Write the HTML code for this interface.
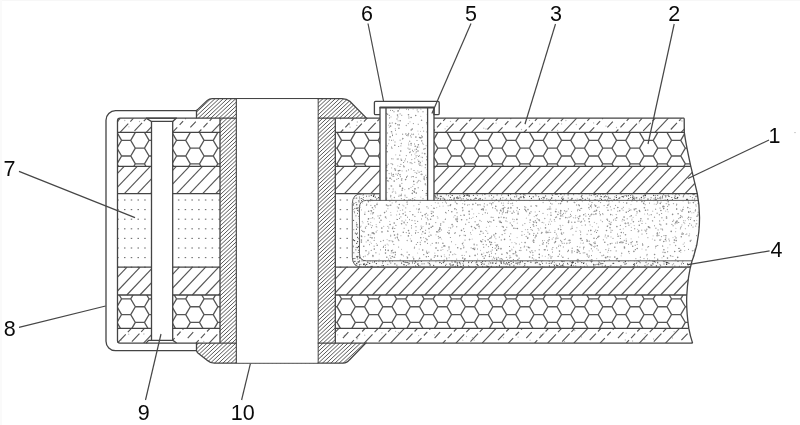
<!DOCTYPE html>
<html><head><meta charset="utf-8"><title>Figure</title>
<style>html,body{margin:0;padding:0;background:#fff;overflow:hidden}svg{display:block;filter:blur(0.3px)}</style></head>
<body>
<svg width="800" height="425" viewBox="0 0 800 425">
<defs>
<clipPath id="cRight"><path d="M335.3,118.2 L684.2,118.2 L684.3,132.4 C686,145 689,158 690.8,166.3 C693.5,178 696.5,190 697.3,193.6 C699.5,205 699.8,222 698.8,232 C697.5,245 694,256 692,261 C690,268 687.5,282 686.8,295 C686.3,305 687.3,318 688.8,328.4 C690,335 691.5,340 692.6,343.1 L335.3,343.1 Z"/></clipPath>
<clipPath id="cLeft"><rect x="117.5" y="118.2" width="102.5" height="224.9"/></clipPath>
</defs>
<rect width="800" height="425" fill="#ffffff"/>
<g clip-path="url(#cRight)">
<g stroke="#565656" stroke-width="1.15" fill="none"><line x1="335.30" y1="124.11" x2="340.91" y2="118.20" stroke-dasharray="0 7 8 30"/><line x1="340.52" y1="132.40" x2="354.01" y2="118.20" stroke-dasharray="4 3 6 3 30"/><line x1="353.62" y1="132.40" x2="367.11" y2="118.20" stroke-dasharray="12 3 30"/><line x1="366.72" y1="132.40" x2="380.21" y2="118.20" stroke-dasharray="0 2 11 2.5 30"/><line x1="379.82" y1="132.40" x2="393.31" y2="118.20"/><line x1="392.92" y1="132.40" x2="406.41" y2="118.20" stroke-dasharray="0 4 9 3 30"/><line x1="406.02" y1="132.40" x2="419.51" y2="118.20" stroke-dasharray="7 3.5 5 3 30"/><line x1="419.12" y1="132.40" x2="432.61" y2="118.20" stroke-dasharray="0 7 8 30"/><line x1="432.22" y1="132.40" x2="445.71" y2="118.20" stroke-dasharray="4 3 6 3 30"/><line x1="445.32" y1="132.40" x2="458.81" y2="118.20" stroke-dasharray="12 3 30"/><line x1="458.42" y1="132.40" x2="471.91" y2="118.20" stroke-dasharray="0 2 11 2.5 30"/><line x1="471.52" y1="132.40" x2="485.01" y2="118.20"/><line x1="484.62" y1="132.40" x2="498.11" y2="118.20" stroke-dasharray="0 4 9 3 30"/><line x1="497.72" y1="132.40" x2="511.21" y2="118.20" stroke-dasharray="7 3.5 5 3 30"/><line x1="510.82" y1="132.40" x2="524.31" y2="118.20" stroke-dasharray="0 7 8 30"/><line x1="523.92" y1="132.40" x2="537.41" y2="118.20" stroke-dasharray="4 3 6 3 30"/><line x1="537.02" y1="132.40" x2="550.51" y2="118.20" stroke-dasharray="12 3 30"/><line x1="550.12" y1="132.40" x2="563.61" y2="118.20" stroke-dasharray="0 2 11 2.5 30"/><line x1="563.22" y1="132.40" x2="576.71" y2="118.20"/><line x1="576.32" y1="132.40" x2="589.81" y2="118.20" stroke-dasharray="0 4 9 3 30"/><line x1="589.42" y1="132.40" x2="602.91" y2="118.20" stroke-dasharray="7 3.5 5 3 30"/><line x1="602.52" y1="132.40" x2="616.01" y2="118.20" stroke-dasharray="0 7 8 30"/><line x1="615.62" y1="132.40" x2="629.11" y2="118.20" stroke-dasharray="4 3 6 3 30"/><line x1="628.72" y1="132.40" x2="642.21" y2="118.20" stroke-dasharray="12 3 30"/><line x1="641.82" y1="132.40" x2="655.31" y2="118.20" stroke-dasharray="0 2 11 2.5 30"/><line x1="654.92" y1="132.40" x2="668.41" y2="118.20"/><line x1="668.02" y1="132.40" x2="681.51" y2="118.20" stroke-dasharray="0 4 9 3 30"/><line x1="681.12" y1="132.40" x2="694.61" y2="118.20" stroke-dasharray="7 3.5 5 3 30"/><line x1="694.22" y1="132.40" x2="705.00" y2="121.05" stroke-dasharray="0 7 8 30"/></g>
<path d="M450.5 121.4h0M565.9 120.5h0M525.3 123.8h0M356.8 125.4h0M349.5 124.6h0M360.9 120.7h0M486.0 129.0h0M380.0 122.2h0M557.6 130.3h0M539.8 124.1h0M680.6 120.2h0M639.1 122.9h0M387.2 121.0h0M445.1 128.8h0M400.0 126.2h0M561.6 123.9h0M529.5 120.4h0M357.3 122.0h0M576.3 124.5h0M447.1 126.3h0M496.1 123.1h0M616.5 127.5h0M422.4 126.1h0M521.5 129.5h0M593.6 122.9h0M682.0 121.0h0M483.8 128.2h0M389.9 125.2h0M350.1 127.2h0M606.0 126.1h0" stroke="#b4b4b4" stroke-width="1.3" stroke-linecap="round" fill="none"/>
<path d="M645.1 333.6h0M581.5 336.9h0M540.8 335.2h0M632.6 341.0h0M503.5 337.7h0M357.7 338.1h0M564.5 341.5h0M626.2 333.2h0M472.4 337.7h0M344.3 335.3h0M395.6 331.3h0M357.1 338.9h0M381.9 332.8h0M474.2 340.1h0M364.7 335.2h0M530.1 340.2h0M625.3 340.0h0M434.5 334.8h0M462.8 340.2h0M674.1 331.7h0M398.5 332.6h0M418.6 335.6h0M544.1 333.0h0M337.7 334.8h0M466.5 336.5h0M672.5 338.0h0M518.1 337.1h0M574.8 330.5h0M653.6 339.0h0M644.7 339.2h0" stroke="#b4b4b4" stroke-width="1.3" stroke-linecap="round" fill="none"/>
<g stroke="#565656" stroke-width="1.15" fill="none"><line x1="335.30" y1="332.21" x2="338.92" y2="328.40" stroke-dasharray="7 3.5 5 3 30"/><line x1="338.06" y1="343.10" x2="352.02" y2="328.40" stroke-dasharray="0 7 8 30"/><line x1="351.16" y1="343.10" x2="365.12" y2="328.40" stroke-dasharray="4 3 6 3 30"/><line x1="364.25" y1="343.10" x2="378.22" y2="328.40" stroke-dasharray="12 3 30"/><line x1="377.35" y1="343.10" x2="391.32" y2="328.40" stroke-dasharray="0 2 11 2.5 30"/><line x1="390.45" y1="343.10" x2="404.42" y2="328.40"/><line x1="403.56" y1="343.10" x2="417.52" y2="328.40" stroke-dasharray="0 4 9 3 30"/><line x1="416.66" y1="343.10" x2="430.62" y2="328.40" stroke-dasharray="7 3.5 5 3 30"/><line x1="429.75" y1="343.10" x2="443.72" y2="328.40" stroke-dasharray="0 7 8 30"/><line x1="442.85" y1="343.10" x2="456.82" y2="328.40" stroke-dasharray="4 3 6 3 30"/><line x1="455.95" y1="343.10" x2="469.92" y2="328.40" stroke-dasharray="12 3 30"/><line x1="469.06" y1="343.10" x2="483.02" y2="328.40" stroke-dasharray="0 2 11 2.5 30"/><line x1="482.16" y1="343.10" x2="496.12" y2="328.40"/><line x1="495.25" y1="343.10" x2="509.22" y2="328.40" stroke-dasharray="0 4 9 3 30"/><line x1="508.35" y1="343.10" x2="522.32" y2="328.40" stroke-dasharray="7 3.5 5 3 30"/><line x1="521.45" y1="343.10" x2="535.42" y2="328.40" stroke-dasharray="0 7 8 30"/><line x1="534.56" y1="343.10" x2="548.52" y2="328.40" stroke-dasharray="4 3 6 3 30"/><line x1="547.65" y1="343.10" x2="561.62" y2="328.40" stroke-dasharray="12 3 30"/><line x1="560.75" y1="343.10" x2="574.72" y2="328.40" stroke-dasharray="0 2 11 2.5 30"/><line x1="573.86" y1="343.10" x2="587.82" y2="328.40"/><line x1="586.95" y1="343.10" x2="600.92" y2="328.40" stroke-dasharray="0 4 9 3 30"/><line x1="600.06" y1="343.10" x2="614.02" y2="328.40" stroke-dasharray="7 3.5 5 3 30"/><line x1="613.15" y1="343.10" x2="627.12" y2="328.40" stroke-dasharray="0 7 8 30"/><line x1="626.25" y1="343.10" x2="640.22" y2="328.40" stroke-dasharray="4 3 6 3 30"/><line x1="639.36" y1="343.10" x2="653.32" y2="328.40" stroke-dasharray="12 3 30"/><line x1="652.45" y1="343.10" x2="666.42" y2="328.40" stroke-dasharray="0 2 11 2.5 30"/><line x1="665.56" y1="343.10" x2="679.52" y2="328.40"/><line x1="678.65" y1="343.10" x2="692.62" y2="328.40" stroke-dasharray="0 4 9 3 30"/><line x1="691.75" y1="343.10" x2="705.00" y2="329.16" stroke-dasharray="7 3.5 5 3 30"/><line x1="704.86" y1="343.10" x2="705.00" y2="342.95" stroke-dasharray="0 7 8 30"/></g>
<clipPath id="cH1"><rect x="335.30" y="132.40" width="369.70" height="33.90"/></clipPath><g clip-path="url(#cH1)"><path d="M300.31,101.05 L309.48,101.05 L314.07,108.90 L309.48,116.75 M300.31,116.75 L309.48,116.75 L314.07,124.60 L309.48,132.45 M300.31,132.45 L309.48,132.45 L314.07,140.30 L309.48,148.15 M300.31,148.15 L309.48,148.15 L314.07,156.00 L309.48,163.85 M300.31,163.85 L309.48,163.85 L314.07,171.70 L309.48,179.55 M300.31,179.55 L309.48,179.55 L314.07,187.40 L309.48,195.25 M327.81,101.05 L336.98,101.05 L341.57,108.90 L336.98,116.75 M327.81,116.75 L336.98,116.75 L341.57,124.60 L336.98,132.45 M327.81,132.45 L336.98,132.45 L341.57,140.30 L336.98,148.15 M327.81,148.15 L336.98,148.15 L341.57,156.00 L336.98,163.85 M327.81,163.85 L336.98,163.85 L341.57,171.70 L336.98,179.55 M327.81,179.55 L336.98,179.55 L341.57,187.40 L336.98,195.25 M355.31,101.05 L364.48,101.05 L369.07,108.90 L364.48,116.75 M355.31,116.75 L364.48,116.75 L369.07,124.60 L364.48,132.45 M355.31,132.45 L364.48,132.45 L369.07,140.30 L364.48,148.15 M355.31,148.15 L364.48,148.15 L369.07,156.00 L364.48,163.85 M355.31,163.85 L364.48,163.85 L369.07,171.70 L364.48,179.55 M355.31,179.55 L364.48,179.55 L369.07,187.40 L364.48,195.25 M382.81,101.05 L391.98,101.05 L396.57,108.90 L391.98,116.75 M382.81,116.75 L391.98,116.75 L396.57,124.60 L391.98,132.45 M382.81,132.45 L391.98,132.45 L396.57,140.30 L391.98,148.15 M382.81,148.15 L391.98,148.15 L396.57,156.00 L391.98,163.85 M382.81,163.85 L391.98,163.85 L396.57,171.70 L391.98,179.55 M382.81,179.55 L391.98,179.55 L396.57,187.40 L391.98,195.25 M410.31,101.05 L419.48,101.05 L424.07,108.90 L419.48,116.75 M410.31,116.75 L419.48,116.75 L424.07,124.60 L419.48,132.45 M410.31,132.45 L419.48,132.45 L424.07,140.30 L419.48,148.15 M410.31,148.15 L419.48,148.15 L424.07,156.00 L419.48,163.85 M410.31,163.85 L419.48,163.85 L424.07,171.70 L419.48,179.55 M410.31,179.55 L419.48,179.55 L424.07,187.40 L419.48,195.25 M437.81,101.05 L446.98,101.05 L451.57,108.90 L446.98,116.75 M437.81,116.75 L446.98,116.75 L451.57,124.60 L446.98,132.45 M437.81,132.45 L446.98,132.45 L451.57,140.30 L446.98,148.15 M437.81,148.15 L446.98,148.15 L451.57,156.00 L446.98,163.85 M437.81,163.85 L446.98,163.85 L451.57,171.70 L446.98,179.55 M437.81,179.55 L446.98,179.55 L451.57,187.40 L446.98,195.25 M465.31,101.05 L474.48,101.05 L479.07,108.90 L474.48,116.75 M465.31,116.75 L474.48,116.75 L479.07,124.60 L474.48,132.45 M465.31,132.45 L474.48,132.45 L479.07,140.30 L474.48,148.15 M465.31,148.15 L474.48,148.15 L479.07,156.00 L474.48,163.85 M465.31,163.85 L474.48,163.85 L479.07,171.70 L474.48,179.55 M465.31,179.55 L474.48,179.55 L479.07,187.40 L474.48,195.25 M492.81,101.05 L501.98,101.05 L506.57,108.90 L501.98,116.75 M492.81,116.75 L501.98,116.75 L506.57,124.60 L501.98,132.45 M492.81,132.45 L501.98,132.45 L506.57,140.30 L501.98,148.15 M492.81,148.15 L501.98,148.15 L506.57,156.00 L501.98,163.85 M492.81,163.85 L501.98,163.85 L506.57,171.70 L501.98,179.55 M492.81,179.55 L501.98,179.55 L506.57,187.40 L501.98,195.25 M520.31,101.05 L529.49,101.05 L534.07,108.90 L529.49,116.75 M520.31,116.75 L529.49,116.75 L534.07,124.60 L529.49,132.45 M520.31,132.45 L529.49,132.45 L534.07,140.30 L529.49,148.15 M520.31,148.15 L529.49,148.15 L534.07,156.00 L529.49,163.85 M520.31,163.85 L529.49,163.85 L534.07,171.70 L529.49,179.55 M520.31,179.55 L529.49,179.55 L534.07,187.40 L529.49,195.25 M547.81,101.05 L556.99,101.05 L561.57,108.90 L556.99,116.75 M547.81,116.75 L556.99,116.75 L561.57,124.60 L556.99,132.45 M547.81,132.45 L556.99,132.45 L561.57,140.30 L556.99,148.15 M547.81,148.15 L556.99,148.15 L561.57,156.00 L556.99,163.85 M547.81,163.85 L556.99,163.85 L561.57,171.70 L556.99,179.55 M547.81,179.55 L556.99,179.55 L561.57,187.40 L556.99,195.25 M575.31,101.05 L584.49,101.05 L589.07,108.90 L584.49,116.75 M575.31,116.75 L584.49,116.75 L589.07,124.60 L584.49,132.45 M575.31,132.45 L584.49,132.45 L589.07,140.30 L584.49,148.15 M575.31,148.15 L584.49,148.15 L589.07,156.00 L584.49,163.85 M575.31,163.85 L584.49,163.85 L589.07,171.70 L584.49,179.55 M575.31,179.55 L584.49,179.55 L589.07,187.40 L584.49,195.25 M602.81,101.05 L611.99,101.05 L616.57,108.90 L611.99,116.75 M602.81,116.75 L611.99,116.75 L616.57,124.60 L611.99,132.45 M602.81,132.45 L611.99,132.45 L616.57,140.30 L611.99,148.15 M602.81,148.15 L611.99,148.15 L616.57,156.00 L611.99,163.85 M602.81,163.85 L611.99,163.85 L616.57,171.70 L611.99,179.55 M602.81,179.55 L611.99,179.55 L616.57,187.40 L611.99,195.25 M630.31,101.05 L639.49,101.05 L644.07,108.90 L639.49,116.75 M630.31,116.75 L639.49,116.75 L644.07,124.60 L639.49,132.45 M630.31,132.45 L639.49,132.45 L644.07,140.30 L639.49,148.15 M630.31,148.15 L639.49,148.15 L644.07,156.00 L639.49,163.85 M630.31,163.85 L639.49,163.85 L644.07,171.70 L639.49,179.55 M630.31,179.55 L639.49,179.55 L644.07,187.40 L639.49,195.25 M657.81,101.05 L666.99,101.05 L671.57,108.90 L666.99,116.75 M657.81,116.75 L666.99,116.75 L671.57,124.60 L666.99,132.45 M657.81,132.45 L666.99,132.45 L671.57,140.30 L666.99,148.15 M657.81,148.15 L666.99,148.15 L671.57,156.00 L666.99,163.85 M657.81,163.85 L666.99,163.85 L671.57,171.70 L666.99,179.55 M657.81,179.55 L666.99,179.55 L671.57,187.40 L666.99,195.25 M685.31,101.05 L694.49,101.05 L699.07,108.90 L694.49,116.75 M685.31,116.75 L694.49,116.75 L699.07,124.60 L694.49,132.45 M685.31,132.45 L694.49,132.45 L699.07,140.30 L694.49,148.15 M685.31,148.15 L694.49,148.15 L699.07,156.00 L694.49,163.85 M685.31,163.85 L694.49,163.85 L699.07,171.70 L694.49,179.55 M685.31,179.55 L694.49,179.55 L699.07,187.40 L694.49,195.25 M712.81,101.05 L721.99,101.05 L726.57,108.90 L721.99,116.75 M712.81,116.75 L721.99,116.75 L726.57,124.60 L721.99,132.45 M712.81,132.45 L721.99,132.45 L726.57,140.30 L721.99,148.15 M712.81,148.15 L721.99,148.15 L726.57,156.00 L721.99,163.85 M712.81,163.85 L721.99,163.85 L726.57,171.70 L721.99,179.55 M712.81,179.55 L721.99,179.55 L726.57,187.40 L721.99,195.25 M740.31,101.05 L749.49,101.05 L754.07,108.90 L749.49,116.75 M740.31,116.75 L749.49,116.75 L754.07,124.60 L749.49,132.45 M740.31,132.45 L749.49,132.45 L754.07,140.30 L749.49,148.15 M740.31,148.15 L749.49,148.15 L754.07,156.00 L749.49,163.85 M740.31,163.85 L749.49,163.85 L754.07,171.70 L749.49,179.55 M740.31,179.55 L749.49,179.55 L754.07,187.40 L749.49,195.25 M286.56,93.20 L295.73,93.20 L300.32,101.05 L295.73,108.90 M286.56,108.90 L295.73,108.90 L300.32,116.75 L295.73,124.60 M286.56,124.60 L295.73,124.60 L300.32,132.45 L295.73,140.30 M286.56,140.30 L295.73,140.30 L300.32,148.15 L295.73,156.00 M286.56,156.00 L295.73,156.00 L300.32,163.85 L295.73,171.70 M286.56,171.70 L295.73,171.70 L300.32,179.55 L295.73,187.40 M286.56,187.40 L295.73,187.40 L300.32,195.25 L295.73,203.10 M314.06,93.20 L323.23,93.20 L327.82,101.05 L323.23,108.90 M314.06,108.90 L323.23,108.90 L327.82,116.75 L323.23,124.60 M314.06,124.60 L323.23,124.60 L327.82,132.45 L323.23,140.30 M314.06,140.30 L323.23,140.30 L327.82,148.15 L323.23,156.00 M314.06,156.00 L323.23,156.00 L327.82,163.85 L323.23,171.70 M314.06,171.70 L323.23,171.70 L327.82,179.55 L323.23,187.40 M314.06,187.40 L323.23,187.40 L327.82,195.25 L323.23,203.10 M341.56,93.20 L350.73,93.20 L355.32,101.05 L350.73,108.90 M341.56,108.90 L350.73,108.90 L355.32,116.75 L350.73,124.60 M341.56,124.60 L350.73,124.60 L355.32,132.45 L350.73,140.30 M341.56,140.30 L350.73,140.30 L355.32,148.15 L350.73,156.00 M341.56,156.00 L350.73,156.00 L355.32,163.85 L350.73,171.70 M341.56,171.70 L350.73,171.70 L355.32,179.55 L350.73,187.40 M341.56,187.40 L350.73,187.40 L355.32,195.25 L350.73,203.10 M369.06,93.20 L378.23,93.20 L382.82,101.05 L378.23,108.90 M369.06,108.90 L378.23,108.90 L382.82,116.75 L378.23,124.60 M369.06,124.60 L378.23,124.60 L382.82,132.45 L378.23,140.30 M369.06,140.30 L378.23,140.30 L382.82,148.15 L378.23,156.00 M369.06,156.00 L378.23,156.00 L382.82,163.85 L378.23,171.70 M369.06,171.70 L378.23,171.70 L382.82,179.55 L378.23,187.40 M369.06,187.40 L378.23,187.40 L382.82,195.25 L378.23,203.10 M396.56,93.20 L405.73,93.20 L410.32,101.05 L405.73,108.90 M396.56,108.90 L405.73,108.90 L410.32,116.75 L405.73,124.60 M396.56,124.60 L405.73,124.60 L410.32,132.45 L405.73,140.30 M396.56,140.30 L405.73,140.30 L410.32,148.15 L405.73,156.00 M396.56,156.00 L405.73,156.00 L410.32,163.85 L405.73,171.70 M396.56,171.70 L405.73,171.70 L410.32,179.55 L405.73,187.40 M396.56,187.40 L405.73,187.40 L410.32,195.25 L405.73,203.10 M424.06,93.20 L433.23,93.20 L437.82,101.05 L433.23,108.90 M424.06,108.90 L433.23,108.90 L437.82,116.75 L433.23,124.60 M424.06,124.60 L433.23,124.60 L437.82,132.45 L433.23,140.30 M424.06,140.30 L433.23,140.30 L437.82,148.15 L433.23,156.00 M424.06,156.00 L433.23,156.00 L437.82,163.85 L433.23,171.70 M424.06,171.70 L433.23,171.70 L437.82,179.55 L433.23,187.40 M424.06,187.40 L433.23,187.40 L437.82,195.25 L433.23,203.10 M451.56,93.20 L460.73,93.20 L465.32,101.05 L460.73,108.90 M451.56,108.90 L460.73,108.90 L465.32,116.75 L460.73,124.60 M451.56,124.60 L460.73,124.60 L465.32,132.45 L460.73,140.30 M451.56,140.30 L460.73,140.30 L465.32,148.15 L460.73,156.00 M451.56,156.00 L460.73,156.00 L465.32,163.85 L460.73,171.70 M451.56,171.70 L460.73,171.70 L465.32,179.55 L460.73,187.40 M451.56,187.40 L460.73,187.40 L465.32,195.25 L460.73,203.10 M479.06,93.20 L488.23,93.20 L492.82,101.05 L488.23,108.90 M479.06,108.90 L488.23,108.90 L492.82,116.75 L488.23,124.60 M479.06,124.60 L488.23,124.60 L492.82,132.45 L488.23,140.30 M479.06,140.30 L488.23,140.30 L492.82,148.15 L488.23,156.00 M479.06,156.00 L488.23,156.00 L492.82,163.85 L488.23,171.70 M479.06,171.70 L488.23,171.70 L492.82,179.55 L488.23,187.40 M479.06,187.40 L488.23,187.40 L492.82,195.25 L488.23,203.10 M506.56,93.20 L515.74,93.20 L520.32,101.05 L515.74,108.90 M506.56,108.90 L515.74,108.90 L520.32,116.75 L515.74,124.60 M506.56,124.60 L515.74,124.60 L520.32,132.45 L515.74,140.30 M506.56,140.30 L515.74,140.30 L520.32,148.15 L515.74,156.00 M506.56,156.00 L515.74,156.00 L520.32,163.85 L515.74,171.70 M506.56,171.70 L515.74,171.70 L520.32,179.55 L515.74,187.40 M506.56,187.40 L515.74,187.40 L520.32,195.25 L515.74,203.10 M534.06,93.20 L543.24,93.20 L547.82,101.05 L543.24,108.90 M534.06,108.90 L543.24,108.90 L547.82,116.75 L543.24,124.60 M534.06,124.60 L543.24,124.60 L547.82,132.45 L543.24,140.30 M534.06,140.30 L543.24,140.30 L547.82,148.15 L543.24,156.00 M534.06,156.00 L543.24,156.00 L547.82,163.85 L543.24,171.70 M534.06,171.70 L543.24,171.70 L547.82,179.55 L543.24,187.40 M534.06,187.40 L543.24,187.40 L547.82,195.25 L543.24,203.10 M561.56,93.20 L570.74,93.20 L575.32,101.05 L570.74,108.90 M561.56,108.90 L570.74,108.90 L575.32,116.75 L570.74,124.60 M561.56,124.60 L570.74,124.60 L575.32,132.45 L570.74,140.30 M561.56,140.30 L570.74,140.30 L575.32,148.15 L570.74,156.00 M561.56,156.00 L570.74,156.00 L575.32,163.85 L570.74,171.70 M561.56,171.70 L570.74,171.70 L575.32,179.55 L570.74,187.40 M561.56,187.40 L570.74,187.40 L575.32,195.25 L570.74,203.10 M589.06,93.20 L598.24,93.20 L602.82,101.05 L598.24,108.90 M589.06,108.90 L598.24,108.90 L602.82,116.75 L598.24,124.60 M589.06,124.60 L598.24,124.60 L602.82,132.45 L598.24,140.30 M589.06,140.30 L598.24,140.30 L602.82,148.15 L598.24,156.00 M589.06,156.00 L598.24,156.00 L602.82,163.85 L598.24,171.70 M589.06,171.70 L598.24,171.70 L602.82,179.55 L598.24,187.40 M589.06,187.40 L598.24,187.40 L602.82,195.25 L598.24,203.10 M616.56,93.20 L625.74,93.20 L630.32,101.05 L625.74,108.90 M616.56,108.90 L625.74,108.90 L630.32,116.75 L625.74,124.60 M616.56,124.60 L625.74,124.60 L630.32,132.45 L625.74,140.30 M616.56,140.30 L625.74,140.30 L630.32,148.15 L625.74,156.00 M616.56,156.00 L625.74,156.00 L630.32,163.85 L625.74,171.70 M616.56,171.70 L625.74,171.70 L630.32,179.55 L625.74,187.40 M616.56,187.40 L625.74,187.40 L630.32,195.25 L625.74,203.10 M644.06,93.20 L653.24,93.20 L657.82,101.05 L653.24,108.90 M644.06,108.90 L653.24,108.90 L657.82,116.75 L653.24,124.60 M644.06,124.60 L653.24,124.60 L657.82,132.45 L653.24,140.30 M644.06,140.30 L653.24,140.30 L657.82,148.15 L653.24,156.00 M644.06,156.00 L653.24,156.00 L657.82,163.85 L653.24,171.70 M644.06,171.70 L653.24,171.70 L657.82,179.55 L653.24,187.40 M644.06,187.40 L653.24,187.40 L657.82,195.25 L653.24,203.10 M671.56,93.20 L680.74,93.20 L685.32,101.05 L680.74,108.90 M671.56,108.90 L680.74,108.90 L685.32,116.75 L680.74,124.60 M671.56,124.60 L680.74,124.60 L685.32,132.45 L680.74,140.30 M671.56,140.30 L680.74,140.30 L685.32,148.15 L680.74,156.00 M671.56,156.00 L680.74,156.00 L685.32,163.85 L680.74,171.70 M671.56,171.70 L680.74,171.70 L685.32,179.55 L680.74,187.40 M671.56,187.40 L680.74,187.40 L685.32,195.25 L680.74,203.10 M699.06,93.20 L708.24,93.20 L712.82,101.05 L708.24,108.90 M699.06,108.90 L708.24,108.90 L712.82,116.75 L708.24,124.60 M699.06,124.60 L708.24,124.60 L712.82,132.45 L708.24,140.30 M699.06,140.30 L708.24,140.30 L712.82,148.15 L708.24,156.00 M699.06,156.00 L708.24,156.00 L712.82,163.85 L708.24,171.70 M699.06,171.70 L708.24,171.70 L712.82,179.55 L708.24,187.40 M699.06,187.40 L708.24,187.40 L712.82,195.25 L708.24,203.10 M726.56,93.20 L735.74,93.20 L740.32,101.05 L735.74,108.90 M726.56,108.90 L735.74,108.90 L740.32,116.75 L735.74,124.60 M726.56,124.60 L735.74,124.60 L740.32,132.45 L735.74,140.30 M726.56,140.30 L735.74,140.30 L740.32,148.15 L735.74,156.00 M726.56,156.00 L735.74,156.00 L740.32,163.85 L735.74,171.70 M726.56,171.70 L735.74,171.70 L740.32,179.55 L735.74,187.40 M726.56,187.40 L735.74,187.40 L740.32,195.25 L735.74,203.10 M754.06,93.20 L763.24,93.20 L767.82,101.05 L763.24,108.90 M754.06,108.90 L763.24,108.90 L767.82,116.75 L763.24,124.60 M754.06,124.60 L763.24,124.60 L767.82,132.45 L763.24,140.30 M754.06,140.30 L763.24,140.30 L767.82,148.15 L763.24,156.00 M754.06,156.00 L763.24,156.00 L767.82,163.85 L763.24,171.70 M754.06,171.70 L763.24,171.70 L767.82,179.55 L763.24,187.40 M754.06,187.40 L763.24,187.40 L767.82,195.25 L763.24,203.10" stroke="#565656" stroke-width="1.3" fill="none"/></g>
<clipPath id="cH2"><rect x="335.30" y="295.00" width="369.70" height="33.40"/></clipPath><g clip-path="url(#cH2)"><path d="M300.31,243.95 L309.48,243.95 L314.07,251.80 L309.48,259.65 M300.31,259.65 L309.48,259.65 L314.07,267.50 L309.48,275.35 M300.31,275.35 L309.48,275.35 L314.07,283.20 L309.48,291.05 M300.31,291.05 L309.48,291.05 L314.07,298.90 L309.48,306.75 M300.31,306.75 L309.48,306.75 L314.07,314.60 L309.48,322.45 M300.31,322.45 L309.48,322.45 L314.07,330.30 L309.48,338.15 M300.31,338.15 L309.48,338.15 L314.07,346.00 L309.48,353.85 M327.81,243.95 L336.98,243.95 L341.57,251.80 L336.98,259.65 M327.81,259.65 L336.98,259.65 L341.57,267.50 L336.98,275.35 M327.81,275.35 L336.98,275.35 L341.57,283.20 L336.98,291.05 M327.81,291.05 L336.98,291.05 L341.57,298.90 L336.98,306.75 M327.81,306.75 L336.98,306.75 L341.57,314.60 L336.98,322.45 M327.81,322.45 L336.98,322.45 L341.57,330.30 L336.98,338.15 M327.81,338.15 L336.98,338.15 L341.57,346.00 L336.98,353.85 M355.31,243.95 L364.48,243.95 L369.07,251.80 L364.48,259.65 M355.31,259.65 L364.48,259.65 L369.07,267.50 L364.48,275.35 M355.31,275.35 L364.48,275.35 L369.07,283.20 L364.48,291.05 M355.31,291.05 L364.48,291.05 L369.07,298.90 L364.48,306.75 M355.31,306.75 L364.48,306.75 L369.07,314.60 L364.48,322.45 M355.31,322.45 L364.48,322.45 L369.07,330.30 L364.48,338.15 M355.31,338.15 L364.48,338.15 L369.07,346.00 L364.48,353.85 M382.81,243.95 L391.98,243.95 L396.57,251.80 L391.98,259.65 M382.81,259.65 L391.98,259.65 L396.57,267.50 L391.98,275.35 M382.81,275.35 L391.98,275.35 L396.57,283.20 L391.98,291.05 M382.81,291.05 L391.98,291.05 L396.57,298.90 L391.98,306.75 M382.81,306.75 L391.98,306.75 L396.57,314.60 L391.98,322.45 M382.81,322.45 L391.98,322.45 L396.57,330.30 L391.98,338.15 M382.81,338.15 L391.98,338.15 L396.57,346.00 L391.98,353.85 M410.31,243.95 L419.48,243.95 L424.07,251.80 L419.48,259.65 M410.31,259.65 L419.48,259.65 L424.07,267.50 L419.48,275.35 M410.31,275.35 L419.48,275.35 L424.07,283.20 L419.48,291.05 M410.31,291.05 L419.48,291.05 L424.07,298.90 L419.48,306.75 M410.31,306.75 L419.48,306.75 L424.07,314.60 L419.48,322.45 M410.31,322.45 L419.48,322.45 L424.07,330.30 L419.48,338.15 M410.31,338.15 L419.48,338.15 L424.07,346.00 L419.48,353.85 M437.81,243.95 L446.98,243.95 L451.57,251.80 L446.98,259.65 M437.81,259.65 L446.98,259.65 L451.57,267.50 L446.98,275.35 M437.81,275.35 L446.98,275.35 L451.57,283.20 L446.98,291.05 M437.81,291.05 L446.98,291.05 L451.57,298.90 L446.98,306.75 M437.81,306.75 L446.98,306.75 L451.57,314.60 L446.98,322.45 M437.81,322.45 L446.98,322.45 L451.57,330.30 L446.98,338.15 M437.81,338.15 L446.98,338.15 L451.57,346.00 L446.98,353.85 M465.31,243.95 L474.48,243.95 L479.07,251.80 L474.48,259.65 M465.31,259.65 L474.48,259.65 L479.07,267.50 L474.48,275.35 M465.31,275.35 L474.48,275.35 L479.07,283.20 L474.48,291.05 M465.31,291.05 L474.48,291.05 L479.07,298.90 L474.48,306.75 M465.31,306.75 L474.48,306.75 L479.07,314.60 L474.48,322.45 M465.31,322.45 L474.48,322.45 L479.07,330.30 L474.48,338.15 M465.31,338.15 L474.48,338.15 L479.07,346.00 L474.48,353.85 M492.81,243.95 L501.98,243.95 L506.57,251.80 L501.98,259.65 M492.81,259.65 L501.98,259.65 L506.57,267.50 L501.98,275.35 M492.81,275.35 L501.98,275.35 L506.57,283.20 L501.98,291.05 M492.81,291.05 L501.98,291.05 L506.57,298.90 L501.98,306.75 M492.81,306.75 L501.98,306.75 L506.57,314.60 L501.98,322.45 M492.81,322.45 L501.98,322.45 L506.57,330.30 L501.98,338.15 M492.81,338.15 L501.98,338.15 L506.57,346.00 L501.98,353.85 M520.31,243.95 L529.49,243.95 L534.07,251.80 L529.49,259.65 M520.31,259.65 L529.49,259.65 L534.07,267.50 L529.49,275.35 M520.31,275.35 L529.49,275.35 L534.07,283.20 L529.49,291.05 M520.31,291.05 L529.49,291.05 L534.07,298.90 L529.49,306.75 M520.31,306.75 L529.49,306.75 L534.07,314.60 L529.49,322.45 M520.31,322.45 L529.49,322.45 L534.07,330.30 L529.49,338.15 M520.31,338.15 L529.49,338.15 L534.07,346.00 L529.49,353.85 M547.81,243.95 L556.99,243.95 L561.57,251.80 L556.99,259.65 M547.81,259.65 L556.99,259.65 L561.57,267.50 L556.99,275.35 M547.81,275.35 L556.99,275.35 L561.57,283.20 L556.99,291.05 M547.81,291.05 L556.99,291.05 L561.57,298.90 L556.99,306.75 M547.81,306.75 L556.99,306.75 L561.57,314.60 L556.99,322.45 M547.81,322.45 L556.99,322.45 L561.57,330.30 L556.99,338.15 M547.81,338.15 L556.99,338.15 L561.57,346.00 L556.99,353.85 M575.31,243.95 L584.49,243.95 L589.07,251.80 L584.49,259.65 M575.31,259.65 L584.49,259.65 L589.07,267.50 L584.49,275.35 M575.31,275.35 L584.49,275.35 L589.07,283.20 L584.49,291.05 M575.31,291.05 L584.49,291.05 L589.07,298.90 L584.49,306.75 M575.31,306.75 L584.49,306.75 L589.07,314.60 L584.49,322.45 M575.31,322.45 L584.49,322.45 L589.07,330.30 L584.49,338.15 M575.31,338.15 L584.49,338.15 L589.07,346.00 L584.49,353.85 M602.81,243.95 L611.99,243.95 L616.57,251.80 L611.99,259.65 M602.81,259.65 L611.99,259.65 L616.57,267.50 L611.99,275.35 M602.81,275.35 L611.99,275.35 L616.57,283.20 L611.99,291.05 M602.81,291.05 L611.99,291.05 L616.57,298.90 L611.99,306.75 M602.81,306.75 L611.99,306.75 L616.57,314.60 L611.99,322.45 M602.81,322.45 L611.99,322.45 L616.57,330.30 L611.99,338.15 M602.81,338.15 L611.99,338.15 L616.57,346.00 L611.99,353.85 M630.31,243.95 L639.49,243.95 L644.07,251.80 L639.49,259.65 M630.31,259.65 L639.49,259.65 L644.07,267.50 L639.49,275.35 M630.31,275.35 L639.49,275.35 L644.07,283.20 L639.49,291.05 M630.31,291.05 L639.49,291.05 L644.07,298.90 L639.49,306.75 M630.31,306.75 L639.49,306.75 L644.07,314.60 L639.49,322.45 M630.31,322.45 L639.49,322.45 L644.07,330.30 L639.49,338.15 M630.31,338.15 L639.49,338.15 L644.07,346.00 L639.49,353.85 M657.81,243.95 L666.99,243.95 L671.57,251.80 L666.99,259.65 M657.81,259.65 L666.99,259.65 L671.57,267.50 L666.99,275.35 M657.81,275.35 L666.99,275.35 L671.57,283.20 L666.99,291.05 M657.81,291.05 L666.99,291.05 L671.57,298.90 L666.99,306.75 M657.81,306.75 L666.99,306.75 L671.57,314.60 L666.99,322.45 M657.81,322.45 L666.99,322.45 L671.57,330.30 L666.99,338.15 M657.81,338.15 L666.99,338.15 L671.57,346.00 L666.99,353.85 M685.31,243.95 L694.49,243.95 L699.07,251.80 L694.49,259.65 M685.31,259.65 L694.49,259.65 L699.07,267.50 L694.49,275.35 M685.31,275.35 L694.49,275.35 L699.07,283.20 L694.49,291.05 M685.31,291.05 L694.49,291.05 L699.07,298.90 L694.49,306.75 M685.31,306.75 L694.49,306.75 L699.07,314.60 L694.49,322.45 M685.31,322.45 L694.49,322.45 L699.07,330.30 L694.49,338.15 M685.31,338.15 L694.49,338.15 L699.07,346.00 L694.49,353.85 M712.81,243.95 L721.99,243.95 L726.57,251.80 L721.99,259.65 M712.81,259.65 L721.99,259.65 L726.57,267.50 L721.99,275.35 M712.81,275.35 L721.99,275.35 L726.57,283.20 L721.99,291.05 M712.81,291.05 L721.99,291.05 L726.57,298.90 L721.99,306.75 M712.81,306.75 L721.99,306.75 L726.57,314.60 L721.99,322.45 M712.81,322.45 L721.99,322.45 L726.57,330.30 L721.99,338.15 M712.81,338.15 L721.99,338.15 L726.57,346.00 L721.99,353.85 M740.31,243.95 L749.49,243.95 L754.07,251.80 L749.49,259.65 M740.31,259.65 L749.49,259.65 L754.07,267.50 L749.49,275.35 M740.31,275.35 L749.49,275.35 L754.07,283.20 L749.49,291.05 M740.31,291.05 L749.49,291.05 L754.07,298.90 L749.49,306.75 M740.31,306.75 L749.49,306.75 L754.07,314.60 L749.49,322.45 M740.31,322.45 L749.49,322.45 L754.07,330.30 L749.49,338.15 M740.31,338.15 L749.49,338.15 L754.07,346.00 L749.49,353.85 M286.56,251.80 L295.73,251.80 L300.32,259.65 L295.73,267.50 M286.56,267.50 L295.73,267.50 L300.32,275.35 L295.73,283.20 M286.56,283.20 L295.73,283.20 L300.32,291.05 L295.73,298.90 M286.56,298.90 L295.73,298.90 L300.32,306.75 L295.73,314.60 M286.56,314.60 L295.73,314.60 L300.32,322.45 L295.73,330.30 M286.56,330.30 L295.73,330.30 L300.32,338.15 L295.73,346.00 M286.56,346.00 L295.73,346.00 L300.32,353.85 L295.73,361.70 M314.06,251.80 L323.23,251.80 L327.82,259.65 L323.23,267.50 M314.06,267.50 L323.23,267.50 L327.82,275.35 L323.23,283.20 M314.06,283.20 L323.23,283.20 L327.82,291.05 L323.23,298.90 M314.06,298.90 L323.23,298.90 L327.82,306.75 L323.23,314.60 M314.06,314.60 L323.23,314.60 L327.82,322.45 L323.23,330.30 M314.06,330.30 L323.23,330.30 L327.82,338.15 L323.23,346.00 M314.06,346.00 L323.23,346.00 L327.82,353.85 L323.23,361.70 M341.56,251.80 L350.73,251.80 L355.32,259.65 L350.73,267.50 M341.56,267.50 L350.73,267.50 L355.32,275.35 L350.73,283.20 M341.56,283.20 L350.73,283.20 L355.32,291.05 L350.73,298.90 M341.56,298.90 L350.73,298.90 L355.32,306.75 L350.73,314.60 M341.56,314.60 L350.73,314.60 L355.32,322.45 L350.73,330.30 M341.56,330.30 L350.73,330.30 L355.32,338.15 L350.73,346.00 M341.56,346.00 L350.73,346.00 L355.32,353.85 L350.73,361.70 M369.06,251.80 L378.23,251.80 L382.82,259.65 L378.23,267.50 M369.06,267.50 L378.23,267.50 L382.82,275.35 L378.23,283.20 M369.06,283.20 L378.23,283.20 L382.82,291.05 L378.23,298.90 M369.06,298.90 L378.23,298.90 L382.82,306.75 L378.23,314.60 M369.06,314.60 L378.23,314.60 L382.82,322.45 L378.23,330.30 M369.06,330.30 L378.23,330.30 L382.82,338.15 L378.23,346.00 M369.06,346.00 L378.23,346.00 L382.82,353.85 L378.23,361.70 M396.56,251.80 L405.73,251.80 L410.32,259.65 L405.73,267.50 M396.56,267.50 L405.73,267.50 L410.32,275.35 L405.73,283.20 M396.56,283.20 L405.73,283.20 L410.32,291.05 L405.73,298.90 M396.56,298.90 L405.73,298.90 L410.32,306.75 L405.73,314.60 M396.56,314.60 L405.73,314.60 L410.32,322.45 L405.73,330.30 M396.56,330.30 L405.73,330.30 L410.32,338.15 L405.73,346.00 M396.56,346.00 L405.73,346.00 L410.32,353.85 L405.73,361.70 M424.06,251.80 L433.23,251.80 L437.82,259.65 L433.23,267.50 M424.06,267.50 L433.23,267.50 L437.82,275.35 L433.23,283.20 M424.06,283.20 L433.23,283.20 L437.82,291.05 L433.23,298.90 M424.06,298.90 L433.23,298.90 L437.82,306.75 L433.23,314.60 M424.06,314.60 L433.23,314.60 L437.82,322.45 L433.23,330.30 M424.06,330.30 L433.23,330.30 L437.82,338.15 L433.23,346.00 M424.06,346.00 L433.23,346.00 L437.82,353.85 L433.23,361.70 M451.56,251.80 L460.73,251.80 L465.32,259.65 L460.73,267.50 M451.56,267.50 L460.73,267.50 L465.32,275.35 L460.73,283.20 M451.56,283.20 L460.73,283.20 L465.32,291.05 L460.73,298.90 M451.56,298.90 L460.73,298.90 L465.32,306.75 L460.73,314.60 M451.56,314.60 L460.73,314.60 L465.32,322.45 L460.73,330.30 M451.56,330.30 L460.73,330.30 L465.32,338.15 L460.73,346.00 M451.56,346.00 L460.73,346.00 L465.32,353.85 L460.73,361.70 M479.06,251.80 L488.23,251.80 L492.82,259.65 L488.23,267.50 M479.06,267.50 L488.23,267.50 L492.82,275.35 L488.23,283.20 M479.06,283.20 L488.23,283.20 L492.82,291.05 L488.23,298.90 M479.06,298.90 L488.23,298.90 L492.82,306.75 L488.23,314.60 M479.06,314.60 L488.23,314.60 L492.82,322.45 L488.23,330.30 M479.06,330.30 L488.23,330.30 L492.82,338.15 L488.23,346.00 M479.06,346.00 L488.23,346.00 L492.82,353.85 L488.23,361.70 M506.56,251.80 L515.74,251.80 L520.32,259.65 L515.74,267.50 M506.56,267.50 L515.74,267.50 L520.32,275.35 L515.74,283.20 M506.56,283.20 L515.74,283.20 L520.32,291.05 L515.74,298.90 M506.56,298.90 L515.74,298.90 L520.32,306.75 L515.74,314.60 M506.56,314.60 L515.74,314.60 L520.32,322.45 L515.74,330.30 M506.56,330.30 L515.74,330.30 L520.32,338.15 L515.74,346.00 M506.56,346.00 L515.74,346.00 L520.32,353.85 L515.74,361.70 M534.06,251.80 L543.24,251.80 L547.82,259.65 L543.24,267.50 M534.06,267.50 L543.24,267.50 L547.82,275.35 L543.24,283.20 M534.06,283.20 L543.24,283.20 L547.82,291.05 L543.24,298.90 M534.06,298.90 L543.24,298.90 L547.82,306.75 L543.24,314.60 M534.06,314.60 L543.24,314.60 L547.82,322.45 L543.24,330.30 M534.06,330.30 L543.24,330.30 L547.82,338.15 L543.24,346.00 M534.06,346.00 L543.24,346.00 L547.82,353.85 L543.24,361.70 M561.56,251.80 L570.74,251.80 L575.32,259.65 L570.74,267.50 M561.56,267.50 L570.74,267.50 L575.32,275.35 L570.74,283.20 M561.56,283.20 L570.74,283.20 L575.32,291.05 L570.74,298.90 M561.56,298.90 L570.74,298.90 L575.32,306.75 L570.74,314.60 M561.56,314.60 L570.74,314.60 L575.32,322.45 L570.74,330.30 M561.56,330.30 L570.74,330.30 L575.32,338.15 L570.74,346.00 M561.56,346.00 L570.74,346.00 L575.32,353.85 L570.74,361.70 M589.06,251.80 L598.24,251.80 L602.82,259.65 L598.24,267.50 M589.06,267.50 L598.24,267.50 L602.82,275.35 L598.24,283.20 M589.06,283.20 L598.24,283.20 L602.82,291.05 L598.24,298.90 M589.06,298.90 L598.24,298.90 L602.82,306.75 L598.24,314.60 M589.06,314.60 L598.24,314.60 L602.82,322.45 L598.24,330.30 M589.06,330.30 L598.24,330.30 L602.82,338.15 L598.24,346.00 M589.06,346.00 L598.24,346.00 L602.82,353.85 L598.24,361.70 M616.56,251.80 L625.74,251.80 L630.32,259.65 L625.74,267.50 M616.56,267.50 L625.74,267.50 L630.32,275.35 L625.74,283.20 M616.56,283.20 L625.74,283.20 L630.32,291.05 L625.74,298.90 M616.56,298.90 L625.74,298.90 L630.32,306.75 L625.74,314.60 M616.56,314.60 L625.74,314.60 L630.32,322.45 L625.74,330.30 M616.56,330.30 L625.74,330.30 L630.32,338.15 L625.74,346.00 M616.56,346.00 L625.74,346.00 L630.32,353.85 L625.74,361.70 M644.06,251.80 L653.24,251.80 L657.82,259.65 L653.24,267.50 M644.06,267.50 L653.24,267.50 L657.82,275.35 L653.24,283.20 M644.06,283.20 L653.24,283.20 L657.82,291.05 L653.24,298.90 M644.06,298.90 L653.24,298.90 L657.82,306.75 L653.24,314.60 M644.06,314.60 L653.24,314.60 L657.82,322.45 L653.24,330.30 M644.06,330.30 L653.24,330.30 L657.82,338.15 L653.24,346.00 M644.06,346.00 L653.24,346.00 L657.82,353.85 L653.24,361.70 M671.56,251.80 L680.74,251.80 L685.32,259.65 L680.74,267.50 M671.56,267.50 L680.74,267.50 L685.32,275.35 L680.74,283.20 M671.56,283.20 L680.74,283.20 L685.32,291.05 L680.74,298.90 M671.56,298.90 L680.74,298.90 L685.32,306.75 L680.74,314.60 M671.56,314.60 L680.74,314.60 L685.32,322.45 L680.74,330.30 M671.56,330.30 L680.74,330.30 L685.32,338.15 L680.74,346.00 M671.56,346.00 L680.74,346.00 L685.32,353.85 L680.74,361.70 M699.06,251.80 L708.24,251.80 L712.82,259.65 L708.24,267.50 M699.06,267.50 L708.24,267.50 L712.82,275.35 L708.24,283.20 M699.06,283.20 L708.24,283.20 L712.82,291.05 L708.24,298.90 M699.06,298.90 L708.24,298.90 L712.82,306.75 L708.24,314.60 M699.06,314.60 L708.24,314.60 L712.82,322.45 L708.24,330.30 M699.06,330.30 L708.24,330.30 L712.82,338.15 L708.24,346.00 M699.06,346.00 L708.24,346.00 L712.82,353.85 L708.24,361.70 M726.56,251.80 L735.74,251.80 L740.32,259.65 L735.74,267.50 M726.56,267.50 L735.74,267.50 L740.32,275.35 L735.74,283.20 M726.56,283.20 L735.74,283.20 L740.32,291.05 L735.74,298.90 M726.56,298.90 L735.74,298.90 L740.32,306.75 L735.74,314.60 M726.56,314.60 L735.74,314.60 L740.32,322.45 L735.74,330.30 M726.56,330.30 L735.74,330.30 L740.32,338.15 L735.74,346.00 M726.56,346.00 L735.74,346.00 L740.32,353.85 L735.74,361.70 M754.06,251.80 L763.24,251.80 L767.82,259.65 L763.24,267.50 M754.06,267.50 L763.24,267.50 L767.82,275.35 L763.24,283.20 M754.06,283.20 L763.24,283.20 L767.82,291.05 L763.24,298.90 M754.06,298.90 L763.24,298.90 L767.82,306.75 L763.24,314.60 M754.06,314.60 L763.24,314.60 L767.82,322.45 L763.24,330.30 M754.06,330.30 L763.24,330.30 L767.82,338.15 L763.24,346.00 M754.06,346.00 L763.24,346.00 L767.82,353.85 L763.24,361.70" stroke="#565656" stroke-width="1.3" fill="none"/></g>
<g stroke="#565656" stroke-width="1.15" fill="none"><line x1="335.30" y1="175.68" x2="344.21" y2="166.30"/><line x1="335.30" y1="189.47" x2="357.31" y2="166.30"/><line x1="344.48" y1="193.60" x2="370.41" y2="166.30"/><line x1="357.58" y1="193.60" x2="383.51" y2="166.30"/><line x1="370.68" y1="193.60" x2="396.62" y2="166.30"/><line x1="383.78" y1="193.60" x2="409.72" y2="166.30"/><line x1="396.88" y1="193.60" x2="422.81" y2="166.30"/><line x1="409.98" y1="193.60" x2="435.91" y2="166.30"/><line x1="423.08" y1="193.60" x2="449.01" y2="166.30"/><line x1="436.18" y1="193.60" x2="462.12" y2="166.30"/><line x1="449.28" y1="193.60" x2="475.22" y2="166.30"/><line x1="462.38" y1="193.60" x2="488.31" y2="166.30"/><line x1="475.48" y1="193.60" x2="501.41" y2="166.30"/><line x1="488.58" y1="193.60" x2="514.51" y2="166.30"/><line x1="501.68" y1="193.60" x2="527.62" y2="166.30"/><line x1="514.78" y1="193.60" x2="540.72" y2="166.30"/><line x1="527.88" y1="193.60" x2="553.81" y2="166.30"/><line x1="540.98" y1="193.60" x2="566.91" y2="166.30"/><line x1="554.08" y1="193.60" x2="580.01" y2="166.30"/><line x1="567.18" y1="193.60" x2="593.12" y2="166.30"/><line x1="580.28" y1="193.60" x2="606.22" y2="166.30"/><line x1="593.38" y1="193.60" x2="619.31" y2="166.30"/><line x1="606.48" y1="193.60" x2="632.41" y2="166.30"/><line x1="619.58" y1="193.60" x2="645.51" y2="166.30"/><line x1="632.68" y1="193.60" x2="658.62" y2="166.30"/><line x1="645.78" y1="193.60" x2="671.72" y2="166.30"/><line x1="658.88" y1="193.60" x2="684.81" y2="166.30"/><line x1="671.98" y1="193.60" x2="697.91" y2="166.30"/><line x1="685.08" y1="193.60" x2="705.00" y2="172.63"/><line x1="698.18" y1="193.60" x2="705.00" y2="186.42"/></g>
<g stroke="#565656" stroke-width="1.15" fill="none"><line x1="335.30" y1="278.95" x2="346.46" y2="267.20"/><line x1="335.30" y1="292.74" x2="359.56" y2="267.20"/><line x1="346.25" y1="295.00" x2="372.66" y2="267.20"/><line x1="359.35" y1="295.00" x2="385.76" y2="267.20"/><line x1="372.45" y1="295.00" x2="398.86" y2="267.20"/><line x1="385.55" y1="295.00" x2="411.96" y2="267.20"/><line x1="398.65" y1="295.00" x2="425.06" y2="267.20"/><line x1="411.75" y1="295.00" x2="438.16" y2="267.20"/><line x1="424.85" y1="295.00" x2="451.26" y2="267.20"/><line x1="437.95" y1="295.00" x2="464.36" y2="267.20"/><line x1="451.05" y1="295.00" x2="477.46" y2="267.20"/><line x1="464.15" y1="295.00" x2="490.56" y2="267.20"/><line x1="477.25" y1="295.00" x2="503.66" y2="267.20"/><line x1="490.35" y1="295.00" x2="516.76" y2="267.20"/><line x1="503.45" y1="295.00" x2="529.86" y2="267.20"/><line x1="516.55" y1="295.00" x2="542.96" y2="267.20"/><line x1="529.65" y1="295.00" x2="556.06" y2="267.20"/><line x1="542.75" y1="295.00" x2="569.16" y2="267.20"/><line x1="555.85" y1="295.00" x2="582.26" y2="267.20"/><line x1="568.95" y1="295.00" x2="595.36" y2="267.20"/><line x1="582.05" y1="295.00" x2="608.46" y2="267.20"/><line x1="595.15" y1="295.00" x2="621.56" y2="267.20"/><line x1="608.25" y1="295.00" x2="634.66" y2="267.20"/><line x1="621.35" y1="295.00" x2="647.76" y2="267.20"/><line x1="634.45" y1="295.00" x2="660.86" y2="267.20"/><line x1="647.55" y1="295.00" x2="673.96" y2="267.20"/><line x1="660.65" y1="295.00" x2="687.06" y2="267.20"/><line x1="673.75" y1="295.00" x2="700.16" y2="267.20"/><line x1="686.85" y1="295.00" x2="705.00" y2="275.89"/><line x1="699.95" y1="295.00" x2="705.00" y2="289.68"/></g>
<g fill="#707070"><rect x="339.67" y="199.45" width="1.5" height="1.1"/><rect x="339.67" y="209.05" width="1.5" height="1.1"/><rect x="339.67" y="218.65" width="1.5" height="1.1"/><rect x="339.67" y="228.25" width="1.5" height="1.1"/><rect x="339.67" y="237.85" width="1.5" height="1.1"/><rect x="339.67" y="247.45" width="1.5" height="1.1"/><rect x="339.67" y="257.05" width="1.5" height="1.1"/><rect x="339.67" y="266.65" width="1.5" height="1.1"/><rect x="346.41" y="199.45" width="1.5" height="1.1"/><rect x="346.41" y="209.05" width="1.5" height="1.1"/><rect x="346.41" y="218.65" width="1.5" height="1.1"/><rect x="346.41" y="228.25" width="1.5" height="1.1"/><rect x="346.41" y="237.85" width="1.5" height="1.1"/><rect x="346.41" y="247.45" width="1.5" height="1.1"/><rect x="346.41" y="257.05" width="1.5" height="1.1"/><rect x="346.41" y="266.65" width="1.5" height="1.1"/></g>
</g>
<g clip-path="url(#cLeft)">
<g stroke="#565656" stroke-width="1.15" fill="none"><line x1="117.50" y1="121.26" x2="120.41" y2="118.20" stroke-dasharray="4 3 6 3 30"/><line x1="120.02" y1="132.40" x2="133.51" y2="118.20" stroke-dasharray="12 3 30"/><line x1="133.12" y1="132.40" x2="146.61" y2="118.20" stroke-dasharray="0 2 11 2.5 30"/><line x1="146.22" y1="132.40" x2="159.71" y2="118.20"/><line x1="159.32" y1="132.40" x2="172.81" y2="118.20" stroke-dasharray="0 4 9 3 30"/><line x1="172.42" y1="132.40" x2="185.91" y2="118.20" stroke-dasharray="7 3.5 5 3 30"/><line x1="185.52" y1="132.40" x2="199.01" y2="118.20" stroke-dasharray="0 7 8 30"/><line x1="198.62" y1="132.40" x2="212.11" y2="118.20" stroke-dasharray="4 3 6 3 30"/><line x1="211.72" y1="132.40" x2="220.00" y2="123.68" stroke-dasharray="12 3 30"/></g>
<path d="M157.9 124.2h0M128.9 126.8h0M124.8 120.5h0M139.5 121.5h0M152.7 120.3h0M118.5 121.4h0" stroke="#b4b4b4" stroke-width="1.3" stroke-linecap="round" fill="none"/>
<path d="M128.7 334.2h0M121.1 340.1h0M180.2 331.6h0M143.9 334.0h0M155.1 331.3h0M203.8 341.5h0" stroke="#b4b4b4" stroke-width="1.3" stroke-linecap="round" fill="none"/>
<g stroke="#565656" stroke-width="1.15" fill="none"><line x1="117.50" y1="329.21" x2="118.27" y2="328.40" stroke-dasharray="4 3 6 3 30"/><line x1="117.50" y1="343.00" x2="131.37" y2="328.40" stroke-dasharray="12 3 30"/><line x1="130.51" y1="343.10" x2="144.47" y2="328.40" stroke-dasharray="0 2 11 2.5 30"/><line x1="143.61" y1="343.10" x2="157.57" y2="328.40"/><line x1="156.71" y1="343.10" x2="170.67" y2="328.40" stroke-dasharray="0 4 9 3 30"/><line x1="169.81" y1="343.10" x2="183.77" y2="328.40" stroke-dasharray="7 3.5 5 3 30"/><line x1="182.91" y1="343.10" x2="196.87" y2="328.40" stroke-dasharray="0 7 8 30"/><line x1="196.01" y1="343.10" x2="209.97" y2="328.40" stroke-dasharray="4 3 6 3 30"/><line x1="209.11" y1="343.10" x2="220.00" y2="331.63" stroke-dasharray="12 3 30"/></g>
<clipPath id="cH3"><rect x="117.50" y="132.40" width="102.50" height="33.90"/></clipPath><g clip-path="url(#cH3)"><path d="M80.31,101.05 L89.48,101.05 L94.07,108.90 L89.48,116.75 M80.31,116.75 L89.48,116.75 L94.07,124.60 L89.48,132.45 M80.31,132.45 L89.48,132.45 L94.07,140.30 L89.48,148.15 M80.31,148.15 L89.48,148.15 L94.07,156.00 L89.48,163.85 M80.31,163.85 L89.48,163.85 L94.07,171.70 L89.48,179.55 M80.31,179.55 L89.48,179.55 L94.07,187.40 L89.48,195.25 M107.81,101.05 L116.98,101.05 L121.57,108.90 L116.98,116.75 M107.81,116.75 L116.98,116.75 L121.57,124.60 L116.98,132.45 M107.81,132.45 L116.98,132.45 L121.57,140.30 L116.98,148.15 M107.81,148.15 L116.98,148.15 L121.57,156.00 L116.98,163.85 M107.81,163.85 L116.98,163.85 L121.57,171.70 L116.98,179.55 M107.81,179.55 L116.98,179.55 L121.57,187.40 L116.98,195.25 M135.31,101.05 L144.48,101.05 L149.07,108.90 L144.48,116.75 M135.31,116.75 L144.48,116.75 L149.07,124.60 L144.48,132.45 M135.31,132.45 L144.48,132.45 L149.07,140.30 L144.48,148.15 M135.31,148.15 L144.48,148.15 L149.07,156.00 L144.48,163.85 M135.31,163.85 L144.48,163.85 L149.07,171.70 L144.48,179.55 M135.31,179.55 L144.48,179.55 L149.07,187.40 L144.48,195.25 M162.81,101.05 L171.98,101.05 L176.57,108.90 L171.98,116.75 M162.81,116.75 L171.98,116.75 L176.57,124.60 L171.98,132.45 M162.81,132.45 L171.98,132.45 L176.57,140.30 L171.98,148.15 M162.81,148.15 L171.98,148.15 L176.57,156.00 L171.98,163.85 M162.81,163.85 L171.98,163.85 L176.57,171.70 L171.98,179.55 M162.81,179.55 L171.98,179.55 L176.57,187.40 L171.98,195.25 M190.31,101.05 L199.48,101.05 L204.07,108.90 L199.48,116.75 M190.31,116.75 L199.48,116.75 L204.07,124.60 L199.48,132.45 M190.31,132.45 L199.48,132.45 L204.07,140.30 L199.48,148.15 M190.31,148.15 L199.48,148.15 L204.07,156.00 L199.48,163.85 M190.31,163.85 L199.48,163.85 L204.07,171.70 L199.48,179.55 M190.31,179.55 L199.48,179.55 L204.07,187.40 L199.48,195.25 M217.81,101.05 L226.98,101.05 L231.57,108.90 L226.98,116.75 M217.81,116.75 L226.98,116.75 L231.57,124.60 L226.98,132.45 M217.81,132.45 L226.98,132.45 L231.57,140.30 L226.98,148.15 M217.81,148.15 L226.98,148.15 L231.57,156.00 L226.98,163.85 M217.81,163.85 L226.98,163.85 L231.57,171.70 L226.98,179.55 M217.81,179.55 L226.98,179.55 L231.57,187.40 L226.98,195.25 M245.31,101.05 L254.48,101.05 L259.07,108.90 L254.48,116.75 M245.31,116.75 L254.48,116.75 L259.07,124.60 L254.48,132.45 M245.31,132.45 L254.48,132.45 L259.07,140.30 L254.48,148.15 M245.31,148.15 L254.48,148.15 L259.07,156.00 L254.48,163.85 M245.31,163.85 L254.48,163.85 L259.07,171.70 L254.48,179.55 M245.31,179.55 L254.48,179.55 L259.07,187.40 L254.48,195.25 M272.81,101.05 L281.98,101.05 L286.57,108.90 L281.98,116.75 M272.81,116.75 L281.98,116.75 L286.57,124.60 L281.98,132.45 M272.81,132.45 L281.98,132.45 L286.57,140.30 L281.98,148.15 M272.81,148.15 L281.98,148.15 L286.57,156.00 L281.98,163.85 M272.81,163.85 L281.98,163.85 L286.57,171.70 L281.98,179.55 M272.81,179.55 L281.98,179.55 L286.57,187.40 L281.98,195.25 M66.56,93.20 L75.73,93.20 L80.32,101.05 L75.73,108.90 M66.56,108.90 L75.73,108.90 L80.32,116.75 L75.73,124.60 M66.56,124.60 L75.73,124.60 L80.32,132.45 L75.73,140.30 M66.56,140.30 L75.73,140.30 L80.32,148.15 L75.73,156.00 M66.56,156.00 L75.73,156.00 L80.32,163.85 L75.73,171.70 M66.56,171.70 L75.73,171.70 L80.32,179.55 L75.73,187.40 M66.56,187.40 L75.73,187.40 L80.32,195.25 L75.73,203.10 M94.06,93.20 L103.23,93.20 L107.82,101.05 L103.23,108.90 M94.06,108.90 L103.23,108.90 L107.82,116.75 L103.23,124.60 M94.06,124.60 L103.23,124.60 L107.82,132.45 L103.23,140.30 M94.06,140.30 L103.23,140.30 L107.82,148.15 L103.23,156.00 M94.06,156.00 L103.23,156.00 L107.82,163.85 L103.23,171.70 M94.06,171.70 L103.23,171.70 L107.82,179.55 L103.23,187.40 M94.06,187.40 L103.23,187.40 L107.82,195.25 L103.23,203.10 M121.56,93.20 L130.73,93.20 L135.32,101.05 L130.73,108.90 M121.56,108.90 L130.73,108.90 L135.32,116.75 L130.73,124.60 M121.56,124.60 L130.73,124.60 L135.32,132.45 L130.73,140.30 M121.56,140.30 L130.73,140.30 L135.32,148.15 L130.73,156.00 M121.56,156.00 L130.73,156.00 L135.32,163.85 L130.73,171.70 M121.56,171.70 L130.73,171.70 L135.32,179.55 L130.73,187.40 M121.56,187.40 L130.73,187.40 L135.32,195.25 L130.73,203.10 M149.06,93.20 L158.23,93.20 L162.82,101.05 L158.23,108.90 M149.06,108.90 L158.23,108.90 L162.82,116.75 L158.23,124.60 M149.06,124.60 L158.23,124.60 L162.82,132.45 L158.23,140.30 M149.06,140.30 L158.23,140.30 L162.82,148.15 L158.23,156.00 M149.06,156.00 L158.23,156.00 L162.82,163.85 L158.23,171.70 M149.06,171.70 L158.23,171.70 L162.82,179.55 L158.23,187.40 M149.06,187.40 L158.23,187.40 L162.82,195.25 L158.23,203.10 M176.56,93.20 L185.73,93.20 L190.32,101.05 L185.73,108.90 M176.56,108.90 L185.73,108.90 L190.32,116.75 L185.73,124.60 M176.56,124.60 L185.73,124.60 L190.32,132.45 L185.73,140.30 M176.56,140.30 L185.73,140.30 L190.32,148.15 L185.73,156.00 M176.56,156.00 L185.73,156.00 L190.32,163.85 L185.73,171.70 M176.56,171.70 L185.73,171.70 L190.32,179.55 L185.73,187.40 M176.56,187.40 L185.73,187.40 L190.32,195.25 L185.73,203.10 M204.06,93.20 L213.23,93.20 L217.82,101.05 L213.23,108.90 M204.06,108.90 L213.23,108.90 L217.82,116.75 L213.23,124.60 M204.06,124.60 L213.23,124.60 L217.82,132.45 L213.23,140.30 M204.06,140.30 L213.23,140.30 L217.82,148.15 L213.23,156.00 M204.06,156.00 L213.23,156.00 L217.82,163.85 L213.23,171.70 M204.06,171.70 L213.23,171.70 L217.82,179.55 L213.23,187.40 M204.06,187.40 L213.23,187.40 L217.82,195.25 L213.23,203.10 M231.56,93.20 L240.73,93.20 L245.32,101.05 L240.73,108.90 M231.56,108.90 L240.73,108.90 L245.32,116.75 L240.73,124.60 M231.56,124.60 L240.73,124.60 L245.32,132.45 L240.73,140.30 M231.56,140.30 L240.73,140.30 L245.32,148.15 L240.73,156.00 M231.56,156.00 L240.73,156.00 L245.32,163.85 L240.73,171.70 M231.56,171.70 L240.73,171.70 L245.32,179.55 L240.73,187.40 M231.56,187.40 L240.73,187.40 L245.32,195.25 L240.73,203.10 M259.06,93.20 L268.23,93.20 L272.82,101.05 L268.23,108.90 M259.06,108.90 L268.23,108.90 L272.82,116.75 L268.23,124.60 M259.06,124.60 L268.23,124.60 L272.82,132.45 L268.23,140.30 M259.06,140.30 L268.23,140.30 L272.82,148.15 L268.23,156.00 M259.06,156.00 L268.23,156.00 L272.82,163.85 L268.23,171.70 M259.06,171.70 L268.23,171.70 L272.82,179.55 L268.23,187.40 M259.06,187.40 L268.23,187.40 L272.82,195.25 L268.23,203.10 M286.56,93.20 L295.73,93.20 L300.32,101.05 L295.73,108.90 M286.56,108.90 L295.73,108.90 L300.32,116.75 L295.73,124.60 M286.56,124.60 L295.73,124.60 L300.32,132.45 L295.73,140.30 M286.56,140.30 L295.73,140.30 L300.32,148.15 L295.73,156.00 M286.56,156.00 L295.73,156.00 L300.32,163.85 L295.73,171.70 M286.56,171.70 L295.73,171.70 L300.32,179.55 L295.73,187.40 M286.56,187.40 L295.73,187.40 L300.32,195.25 L295.73,203.10" stroke="#565656" stroke-width="1.3" fill="none"/></g>
<clipPath id="cH4"><rect x="117.50" y="295.00" width="102.50" height="33.40"/></clipPath><g clip-path="url(#cH4)"><path d="M80.31,243.95 L89.48,243.95 L94.07,251.80 L89.48,259.65 M80.31,259.65 L89.48,259.65 L94.07,267.50 L89.48,275.35 M80.31,275.35 L89.48,275.35 L94.07,283.20 L89.48,291.05 M80.31,291.05 L89.48,291.05 L94.07,298.90 L89.48,306.75 M80.31,306.75 L89.48,306.75 L94.07,314.60 L89.48,322.45 M80.31,322.45 L89.48,322.45 L94.07,330.30 L89.48,338.15 M80.31,338.15 L89.48,338.15 L94.07,346.00 L89.48,353.85 M107.81,243.95 L116.98,243.95 L121.57,251.80 L116.98,259.65 M107.81,259.65 L116.98,259.65 L121.57,267.50 L116.98,275.35 M107.81,275.35 L116.98,275.35 L121.57,283.20 L116.98,291.05 M107.81,291.05 L116.98,291.05 L121.57,298.90 L116.98,306.75 M107.81,306.75 L116.98,306.75 L121.57,314.60 L116.98,322.45 M107.81,322.45 L116.98,322.45 L121.57,330.30 L116.98,338.15 M107.81,338.15 L116.98,338.15 L121.57,346.00 L116.98,353.85 M135.31,243.95 L144.48,243.95 L149.07,251.80 L144.48,259.65 M135.31,259.65 L144.48,259.65 L149.07,267.50 L144.48,275.35 M135.31,275.35 L144.48,275.35 L149.07,283.20 L144.48,291.05 M135.31,291.05 L144.48,291.05 L149.07,298.90 L144.48,306.75 M135.31,306.75 L144.48,306.75 L149.07,314.60 L144.48,322.45 M135.31,322.45 L144.48,322.45 L149.07,330.30 L144.48,338.15 M135.31,338.15 L144.48,338.15 L149.07,346.00 L144.48,353.85 M162.81,243.95 L171.98,243.95 L176.57,251.80 L171.98,259.65 M162.81,259.65 L171.98,259.65 L176.57,267.50 L171.98,275.35 M162.81,275.35 L171.98,275.35 L176.57,283.20 L171.98,291.05 M162.81,291.05 L171.98,291.05 L176.57,298.90 L171.98,306.75 M162.81,306.75 L171.98,306.75 L176.57,314.60 L171.98,322.45 M162.81,322.45 L171.98,322.45 L176.57,330.30 L171.98,338.15 M162.81,338.15 L171.98,338.15 L176.57,346.00 L171.98,353.85 M190.31,243.95 L199.48,243.95 L204.07,251.80 L199.48,259.65 M190.31,259.65 L199.48,259.65 L204.07,267.50 L199.48,275.35 M190.31,275.35 L199.48,275.35 L204.07,283.20 L199.48,291.05 M190.31,291.05 L199.48,291.05 L204.07,298.90 L199.48,306.75 M190.31,306.75 L199.48,306.75 L204.07,314.60 L199.48,322.45 M190.31,322.45 L199.48,322.45 L204.07,330.30 L199.48,338.15 M190.31,338.15 L199.48,338.15 L204.07,346.00 L199.48,353.85 M217.81,243.95 L226.98,243.95 L231.57,251.80 L226.98,259.65 M217.81,259.65 L226.98,259.65 L231.57,267.50 L226.98,275.35 M217.81,275.35 L226.98,275.35 L231.57,283.20 L226.98,291.05 M217.81,291.05 L226.98,291.05 L231.57,298.90 L226.98,306.75 M217.81,306.75 L226.98,306.75 L231.57,314.60 L226.98,322.45 M217.81,322.45 L226.98,322.45 L231.57,330.30 L226.98,338.15 M217.81,338.15 L226.98,338.15 L231.57,346.00 L226.98,353.85 M245.31,243.95 L254.48,243.95 L259.07,251.80 L254.48,259.65 M245.31,259.65 L254.48,259.65 L259.07,267.50 L254.48,275.35 M245.31,275.35 L254.48,275.35 L259.07,283.20 L254.48,291.05 M245.31,291.05 L254.48,291.05 L259.07,298.90 L254.48,306.75 M245.31,306.75 L254.48,306.75 L259.07,314.60 L254.48,322.45 M245.31,322.45 L254.48,322.45 L259.07,330.30 L254.48,338.15 M245.31,338.15 L254.48,338.15 L259.07,346.00 L254.48,353.85 M272.81,243.95 L281.98,243.95 L286.57,251.80 L281.98,259.65 M272.81,259.65 L281.98,259.65 L286.57,267.50 L281.98,275.35 M272.81,275.35 L281.98,275.35 L286.57,283.20 L281.98,291.05 M272.81,291.05 L281.98,291.05 L286.57,298.90 L281.98,306.75 M272.81,306.75 L281.98,306.75 L286.57,314.60 L281.98,322.45 M272.81,322.45 L281.98,322.45 L286.57,330.30 L281.98,338.15 M272.81,338.15 L281.98,338.15 L286.57,346.00 L281.98,353.85 M66.56,251.80 L75.73,251.80 L80.32,259.65 L75.73,267.50 M66.56,267.50 L75.73,267.50 L80.32,275.35 L75.73,283.20 M66.56,283.20 L75.73,283.20 L80.32,291.05 L75.73,298.90 M66.56,298.90 L75.73,298.90 L80.32,306.75 L75.73,314.60 M66.56,314.60 L75.73,314.60 L80.32,322.45 L75.73,330.30 M66.56,330.30 L75.73,330.30 L80.32,338.15 L75.73,346.00 M66.56,346.00 L75.73,346.00 L80.32,353.85 L75.73,361.70 M94.06,251.80 L103.23,251.80 L107.82,259.65 L103.23,267.50 M94.06,267.50 L103.23,267.50 L107.82,275.35 L103.23,283.20 M94.06,283.20 L103.23,283.20 L107.82,291.05 L103.23,298.90 M94.06,298.90 L103.23,298.90 L107.82,306.75 L103.23,314.60 M94.06,314.60 L103.23,314.60 L107.82,322.45 L103.23,330.30 M94.06,330.30 L103.23,330.30 L107.82,338.15 L103.23,346.00 M94.06,346.00 L103.23,346.00 L107.82,353.85 L103.23,361.70 M121.56,251.80 L130.73,251.80 L135.32,259.65 L130.73,267.50 M121.56,267.50 L130.73,267.50 L135.32,275.35 L130.73,283.20 M121.56,283.20 L130.73,283.20 L135.32,291.05 L130.73,298.90 M121.56,298.90 L130.73,298.90 L135.32,306.75 L130.73,314.60 M121.56,314.60 L130.73,314.60 L135.32,322.45 L130.73,330.30 M121.56,330.30 L130.73,330.30 L135.32,338.15 L130.73,346.00 M121.56,346.00 L130.73,346.00 L135.32,353.85 L130.73,361.70 M149.06,251.80 L158.23,251.80 L162.82,259.65 L158.23,267.50 M149.06,267.50 L158.23,267.50 L162.82,275.35 L158.23,283.20 M149.06,283.20 L158.23,283.20 L162.82,291.05 L158.23,298.90 M149.06,298.90 L158.23,298.90 L162.82,306.75 L158.23,314.60 M149.06,314.60 L158.23,314.60 L162.82,322.45 L158.23,330.30 M149.06,330.30 L158.23,330.30 L162.82,338.15 L158.23,346.00 M149.06,346.00 L158.23,346.00 L162.82,353.85 L158.23,361.70 M176.56,251.80 L185.73,251.80 L190.32,259.65 L185.73,267.50 M176.56,267.50 L185.73,267.50 L190.32,275.35 L185.73,283.20 M176.56,283.20 L185.73,283.20 L190.32,291.05 L185.73,298.90 M176.56,298.90 L185.73,298.90 L190.32,306.75 L185.73,314.60 M176.56,314.60 L185.73,314.60 L190.32,322.45 L185.73,330.30 M176.56,330.30 L185.73,330.30 L190.32,338.15 L185.73,346.00 M176.56,346.00 L185.73,346.00 L190.32,353.85 L185.73,361.70 M204.06,251.80 L213.23,251.80 L217.82,259.65 L213.23,267.50 M204.06,267.50 L213.23,267.50 L217.82,275.35 L213.23,283.20 M204.06,283.20 L213.23,283.20 L217.82,291.05 L213.23,298.90 M204.06,298.90 L213.23,298.90 L217.82,306.75 L213.23,314.60 M204.06,314.60 L213.23,314.60 L217.82,322.45 L213.23,330.30 M204.06,330.30 L213.23,330.30 L217.82,338.15 L213.23,346.00 M204.06,346.00 L213.23,346.00 L217.82,353.85 L213.23,361.70 M231.56,251.80 L240.73,251.80 L245.32,259.65 L240.73,267.50 M231.56,267.50 L240.73,267.50 L245.32,275.35 L240.73,283.20 M231.56,283.20 L240.73,283.20 L245.32,291.05 L240.73,298.90 M231.56,298.90 L240.73,298.90 L245.32,306.75 L240.73,314.60 M231.56,314.60 L240.73,314.60 L245.32,322.45 L240.73,330.30 M231.56,330.30 L240.73,330.30 L245.32,338.15 L240.73,346.00 M231.56,346.00 L240.73,346.00 L245.32,353.85 L240.73,361.70 M259.06,251.80 L268.23,251.80 L272.82,259.65 L268.23,267.50 M259.06,267.50 L268.23,267.50 L272.82,275.35 L268.23,283.20 M259.06,283.20 L268.23,283.20 L272.82,291.05 L268.23,298.90 M259.06,298.90 L268.23,298.90 L272.82,306.75 L268.23,314.60 M259.06,314.60 L268.23,314.60 L272.82,322.45 L268.23,330.30 M259.06,330.30 L268.23,330.30 L272.82,338.15 L268.23,346.00 M259.06,346.00 L268.23,346.00 L272.82,353.85 L268.23,361.70 M286.56,251.80 L295.73,251.80 L300.32,259.65 L295.73,267.50 M286.56,267.50 L295.73,267.50 L300.32,275.35 L295.73,283.20 M286.56,283.20 L295.73,283.20 L300.32,291.05 L295.73,298.90 M286.56,298.90 L295.73,298.90 L300.32,306.75 L295.73,314.60 M286.56,314.60 L295.73,314.60 L300.32,322.45 L295.73,330.30 M286.56,330.30 L295.73,330.30 L300.32,338.15 L295.73,346.00 M286.56,346.00 L295.73,346.00 L300.32,353.85 L295.73,361.70" stroke="#565656" stroke-width="1.3" fill="none"/></g>
<g stroke="#565656" stroke-width="1.15" fill="none"><line x1="117.50" y1="173.37" x2="124.21" y2="166.30"/><line x1="117.50" y1="187.11" x2="137.26" y2="166.30"/><line x1="124.38" y1="193.60" x2="150.31" y2="166.30"/><line x1="137.43" y1="193.60" x2="163.37" y2="166.30"/><line x1="150.48" y1="193.60" x2="176.41" y2="166.30"/><line x1="163.53" y1="193.60" x2="189.46" y2="166.30"/><line x1="176.58" y1="193.60" x2="202.51" y2="166.30"/><line x1="189.63" y1="193.60" x2="215.56" y2="166.30"/><line x1="202.68" y1="193.60" x2="220.00" y2="175.37"/><line x1="215.73" y1="193.60" x2="220.00" y2="189.11"/></g>
<g stroke="#565656" stroke-width="1.15" fill="none"><line x1="117.50" y1="277.21" x2="127.01" y2="267.20"/><line x1="117.50" y1="291.00" x2="140.11" y2="267.20"/><line x1="126.80" y1="295.00" x2="153.21" y2="267.20"/><line x1="139.90" y1="295.00" x2="166.31" y2="267.20"/><line x1="153.00" y1="295.00" x2="179.41" y2="267.20"/><line x1="166.10" y1="295.00" x2="192.51" y2="267.20"/><line x1="179.20" y1="295.00" x2="205.61" y2="267.20"/><line x1="192.30" y1="295.00" x2="218.71" y2="267.20"/><line x1="205.40" y1="295.00" x2="220.00" y2="279.63"/><line x1="218.50" y1="295.00" x2="220.00" y2="293.42"/></g>
<g fill="#707070"><rect x="117.25" y="199.45" width="1.5" height="1.1"/><rect x="117.25" y="209.05" width="1.5" height="1.1"/><rect x="117.25" y="218.65" width="1.5" height="1.1"/><rect x="117.25" y="228.25" width="1.5" height="1.1"/><rect x="117.25" y="237.85" width="1.5" height="1.1"/><rect x="117.25" y="247.45" width="1.5" height="1.1"/><rect x="117.25" y="257.05" width="1.5" height="1.1"/><rect x="117.25" y="266.65" width="1.5" height="1.1"/><rect x="123.99" y="199.45" width="1.5" height="1.1"/><rect x="123.99" y="209.05" width="1.5" height="1.1"/><rect x="123.99" y="218.65" width="1.5" height="1.1"/><rect x="123.99" y="228.25" width="1.5" height="1.1"/><rect x="123.99" y="237.85" width="1.5" height="1.1"/><rect x="123.99" y="247.45" width="1.5" height="1.1"/><rect x="123.99" y="257.05" width="1.5" height="1.1"/><rect x="123.99" y="266.65" width="1.5" height="1.1"/><rect x="130.73" y="199.45" width="1.5" height="1.1"/><rect x="130.73" y="209.05" width="1.5" height="1.1"/><rect x="130.73" y="218.65" width="1.5" height="1.1"/><rect x="130.73" y="228.25" width="1.5" height="1.1"/><rect x="130.73" y="237.85" width="1.5" height="1.1"/><rect x="130.73" y="247.45" width="1.5" height="1.1"/><rect x="130.73" y="257.05" width="1.5" height="1.1"/><rect x="130.73" y="266.65" width="1.5" height="1.1"/><rect x="137.47" y="199.45" width="1.5" height="1.1"/><rect x="137.47" y="209.05" width="1.5" height="1.1"/><rect x="137.47" y="218.65" width="1.5" height="1.1"/><rect x="137.47" y="228.25" width="1.5" height="1.1"/><rect x="137.47" y="237.85" width="1.5" height="1.1"/><rect x="137.47" y="247.45" width="1.5" height="1.1"/><rect x="137.47" y="257.05" width="1.5" height="1.1"/><rect x="137.47" y="266.65" width="1.5" height="1.1"/><rect x="144.21" y="199.45" width="1.5" height="1.1"/><rect x="144.21" y="209.05" width="1.5" height="1.1"/><rect x="144.21" y="218.65" width="1.5" height="1.1"/><rect x="144.21" y="228.25" width="1.5" height="1.1"/><rect x="144.21" y="237.85" width="1.5" height="1.1"/><rect x="144.21" y="247.45" width="1.5" height="1.1"/><rect x="144.21" y="257.05" width="1.5" height="1.1"/><rect x="144.21" y="266.65" width="1.5" height="1.1"/><rect x="150.95" y="199.45" width="1.5" height="1.1"/><rect x="150.95" y="209.05" width="1.5" height="1.1"/><rect x="150.95" y="218.65" width="1.5" height="1.1"/><rect x="150.95" y="228.25" width="1.5" height="1.1"/><rect x="150.95" y="237.85" width="1.5" height="1.1"/><rect x="150.95" y="247.45" width="1.5" height="1.1"/><rect x="150.95" y="257.05" width="1.5" height="1.1"/><rect x="150.95" y="266.65" width="1.5" height="1.1"/><rect x="157.69" y="199.45" width="1.5" height="1.1"/><rect x="157.69" y="209.05" width="1.5" height="1.1"/><rect x="157.69" y="218.65" width="1.5" height="1.1"/><rect x="157.69" y="228.25" width="1.5" height="1.1"/><rect x="157.69" y="237.85" width="1.5" height="1.1"/><rect x="157.69" y="247.45" width="1.5" height="1.1"/><rect x="157.69" y="257.05" width="1.5" height="1.1"/><rect x="157.69" y="266.65" width="1.5" height="1.1"/><rect x="164.43" y="199.45" width="1.5" height="1.1"/><rect x="164.43" y="209.05" width="1.5" height="1.1"/><rect x="164.43" y="218.65" width="1.5" height="1.1"/><rect x="164.43" y="228.25" width="1.5" height="1.1"/><rect x="164.43" y="237.85" width="1.5" height="1.1"/><rect x="164.43" y="247.45" width="1.5" height="1.1"/><rect x="164.43" y="257.05" width="1.5" height="1.1"/><rect x="164.43" y="266.65" width="1.5" height="1.1"/><rect x="171.17" y="199.45" width="1.5" height="1.1"/><rect x="171.17" y="209.05" width="1.5" height="1.1"/><rect x="171.17" y="218.65" width="1.5" height="1.1"/><rect x="171.17" y="228.25" width="1.5" height="1.1"/><rect x="171.17" y="237.85" width="1.5" height="1.1"/><rect x="171.17" y="247.45" width="1.5" height="1.1"/><rect x="171.17" y="257.05" width="1.5" height="1.1"/><rect x="171.17" y="266.65" width="1.5" height="1.1"/><rect x="177.91" y="199.45" width="1.5" height="1.1"/><rect x="177.91" y="209.05" width="1.5" height="1.1"/><rect x="177.91" y="218.65" width="1.5" height="1.1"/><rect x="177.91" y="228.25" width="1.5" height="1.1"/><rect x="177.91" y="237.85" width="1.5" height="1.1"/><rect x="177.91" y="247.45" width="1.5" height="1.1"/><rect x="177.91" y="257.05" width="1.5" height="1.1"/><rect x="177.91" y="266.65" width="1.5" height="1.1"/><rect x="184.65" y="199.45" width="1.5" height="1.1"/><rect x="184.65" y="209.05" width="1.5" height="1.1"/><rect x="184.65" y="218.65" width="1.5" height="1.1"/><rect x="184.65" y="228.25" width="1.5" height="1.1"/><rect x="184.65" y="237.85" width="1.5" height="1.1"/><rect x="184.65" y="247.45" width="1.5" height="1.1"/><rect x="184.65" y="257.05" width="1.5" height="1.1"/><rect x="184.65" y="266.65" width="1.5" height="1.1"/><rect x="191.39" y="199.45" width="1.5" height="1.1"/><rect x="191.39" y="209.05" width="1.5" height="1.1"/><rect x="191.39" y="218.65" width="1.5" height="1.1"/><rect x="191.39" y="228.25" width="1.5" height="1.1"/><rect x="191.39" y="237.85" width="1.5" height="1.1"/><rect x="191.39" y="247.45" width="1.5" height="1.1"/><rect x="191.39" y="257.05" width="1.5" height="1.1"/><rect x="191.39" y="266.65" width="1.5" height="1.1"/><rect x="198.13" y="199.45" width="1.5" height="1.1"/><rect x="198.13" y="209.05" width="1.5" height="1.1"/><rect x="198.13" y="218.65" width="1.5" height="1.1"/><rect x="198.13" y="228.25" width="1.5" height="1.1"/><rect x="198.13" y="237.85" width="1.5" height="1.1"/><rect x="198.13" y="247.45" width="1.5" height="1.1"/><rect x="198.13" y="257.05" width="1.5" height="1.1"/><rect x="198.13" y="266.65" width="1.5" height="1.1"/><rect x="204.87" y="199.45" width="1.5" height="1.1"/><rect x="204.87" y="209.05" width="1.5" height="1.1"/><rect x="204.87" y="218.65" width="1.5" height="1.1"/><rect x="204.87" y="228.25" width="1.5" height="1.1"/><rect x="204.87" y="237.85" width="1.5" height="1.1"/><rect x="204.87" y="247.45" width="1.5" height="1.1"/><rect x="204.87" y="257.05" width="1.5" height="1.1"/><rect x="204.87" y="266.65" width="1.5" height="1.1"/><rect x="211.61" y="199.45" width="1.5" height="1.1"/><rect x="211.61" y="209.05" width="1.5" height="1.1"/><rect x="211.61" y="218.65" width="1.5" height="1.1"/><rect x="211.61" y="228.25" width="1.5" height="1.1"/><rect x="211.61" y="237.85" width="1.5" height="1.1"/><rect x="211.61" y="247.45" width="1.5" height="1.1"/><rect x="211.61" y="257.05" width="1.5" height="1.1"/><rect x="211.61" y="266.65" width="1.5" height="1.1"/><rect x="218.35" y="199.45" width="1.5" height="1.1"/><rect x="218.35" y="209.05" width="1.5" height="1.1"/><rect x="218.35" y="218.65" width="1.5" height="1.1"/><rect x="218.35" y="228.25" width="1.5" height="1.1"/><rect x="218.35" y="237.85" width="1.5" height="1.1"/><rect x="218.35" y="247.45" width="1.5" height="1.1"/><rect x="218.35" y="257.05" width="1.5" height="1.1"/><rect x="218.35" y="266.65" width="1.5" height="1.1"/></g>
</g>
<defs>
<clipPath id="cPO"><path d="M710,193.6 L362.3,193.6 Q352.3,193.6 352.3,203.6 L352.3,257.2 Q352.3,267.2 362.3,267.2 L710,267.2 Z" clip-path="url(#cRight)"/></clipPath>
<clipPath id="cPI"><path d="M710,200.4 L366.5,200.4 Q359.5,200.4 359.5,207.4 L359.5,253.8 Q359.5,260.8 366.5,260.8 L710,260.8 Z" clip-path="url(#cRight)"/></clipPath>
<clipPath id="cTube"><rect x="386.0" y="107.0" width="41.6" height="93.4"/></clipPath>
<clipPath id="cBand"><path clip-rule="evenodd" d="M710,193.6 L362.3,193.6 Q352.3,193.6 352.3,203.6 L352.3,257.2 Q352.3,267.2 362.3,267.2 L710,267.2 Z M710,200.4 L366.5,200.4 Q359.5,200.4 359.5,207.4 L359.5,253.8 Q359.5,260.8 366.5,260.8 L710,260.8 Z" clip-path="url(#cRight)"/></clipPath>
</defs>
<path d="M710,193.6 L362.3,193.6 Q352.3,193.6 352.3,203.6 L352.3,257.2 Q352.3,267.2 362.3,267.2 L710,267.2 Z" fill="#fff" clip-path="url(#cRight)"/>
<path d="M710,193.6 L362.3,193.6 Q352.3,193.6 352.3,203.6 L352.3,257.2 Q352.3,267.2 362.3,267.2 L710,267.2 Z" fill="#fafafa" clip-path="url(#cPO)"/>
<path d="M710,200.4 L366.5,200.4 Q359.5,200.4 359.5,207.4 L359.5,253.8 Q359.5,260.8 366.5,260.8 L710,260.8 Z" fill="#fff" clip-path="url(#cPI)"/>
<g clip-path="url(#cBand)" stroke-linecap="round" fill="none"><path d="M515.3 229.2h0M519.7 244.5h0M403.6 233.6h0M617.4 215.5h0M422.2 229.9h0M423.8 239.5h0M520.0 241.7h0M514.3 248.3h0M359.8 252.4h0M538.3 232.1h0M657.5 250.8h0M517.9 247.0h0M626.6 201.4h0M439.2 214.0h0M529.8 234.9h0M646.0 203.7h0M546.1 226.0h0M597.2 200.2h0M631.9 207.1h0M446.3 194.8h0M367.4 245.8h0M633.3 266.8h0M493.8 219.2h0M561.7 244.6h0M439.1 250.7h0M670.5 249.0h0M523.4 193.8h0M614.0 230.6h0M514.8 227.9h0M694.4 262.5h0M497.8 221.3h0M675.9 249.2h0M626.9 225.1h0M484.1 218.5h0M649.1 257.8h0M690.9 229.7h0M692.3 211.9h0M430.6 204.8h0M382.0 250.8h0M625.9 210.7h0M596.6 201.9h0M488.0 210.1h0M675.8 210.3h0M665.8 229.3h0M380.5 224.5h0M366.5 196.2h0M479.2 218.3h0M675.5 215.5h0M398.7 230.1h0M513.4 251.3h0M438.8 198.4h0M695.1 258.6h0M444.9 199.8h0M569.2 243.2h0M529.7 210.6h0M580.8 266.5h0M646.2 260.9h0M658.9 210.7h0M509.4 212.7h0M367.7 267.2h0M544.0 198.3h0M585.8 224.4h0M576.3 260.6h0M457.8 255.2h0M693.4 229.1h0M564.8 240.4h0M366.7 235.0h0M528.4 206.8h0M480.1 252.6h0M624.2 231.2h0M361.3 198.5h0M629.3 213.1h0M546.4 236.3h0M414.1 248.3h0M498.4 220.4h0M398.5 210.3h0M599.7 226.8h0M492.9 213.0h0M439.2 260.1h0M435.4 197.9h0M517.4 232.7h0M402.9 195.6h0M594.5 240.3h0M422.0 263.9h0M389.8 208.7h0M364.1 263.5h0M650.0 239.1h0M628.2 195.9h0M453.1 248.8h0M390.7 240.4h0M523.8 266.5h0M677.0 259.2h0M682.4 202.9h0M467.0 207.5h0M424.5 222.2h0M503.6 212.7h0M649.3 229.1h0M665.1 217.7h0M488.2 229.7h0M541.5 246.4h0M698.6 207.1h0M607.3 238.8h0M440.6 221.7h0M426.4 203.1h0M520.0 225.1h0M573.7 194.7h0M629.1 206.0h0M421.3 244.6h0M611.7 225.9h0M641.5 228.4h0M438.5 205.7h0M501.2 267.2h0M415.4 220.1h0M521.8 259.7h0M693.3 241.8h0M396.9 265.2h0M568.0 239.7h0M656.3 224.6h0M416.9 196.1h0M502.9 240.8h0M526.4 232.0h0M518.6 224.0h0M571.5 225.0h0M591.4 202.6h0M509.9 248.4h0M671.8 197.5h0M356.3 194.7h0M687.2 255.0h0M516.6 205.9h0M656.4 247.0h0M634.7 214.5h0M557.4 253.7h0M627.6 205.1h0M472.9 231.8h0M700.1 221.4h0M522.5 255.8h0M654.1 240.7h0M373.0 234.3h0M371.8 204.3h0M558.5 226.1h0M506.7 253.0h0M515.9 260.8h0M407.2 254.9h0M668.1 202.0h0M548.1 255.1h0M601.2 208.1h0M556.2 208.5h0M594.4 231.8h0M365.1 245.3h0M476.8 262.2h0M624.8 257.5h0M439.9 253.7h0M535.2 245.3h0M557.2 249.6h0M594.9 237.5h0M637.3 256.0h0M439.5 224.7h0M479.7 232.7h0M465.7 208.4h0M623.9 262.6h0M635.3 258.7h0M673.3 239.5h0M569.6 212.0h0M659.5 209.5h0M622.3 205.3h0M564.2 219.2h0M498.4 251.3h0M664.0 264.0h0M510.7 194.4h0M594.1 248.5h0M412.0 217.0h0M641.2 231.3h0M373.3 235.2h0M475.8 266.7h0M594.2 194.4h0M459.6 244.4h0M673.0 222.9h0M553.2 223.9h0M403.1 231.8h0M640.2 238.7h0M411.5 213.2h0M652.8 263.4h0M360.1 257.5h0M469.8 241.5h0M435.2 196.2h0M657.4 202.6h0M461.0 222.3h0M464.6 242.4h0M419.7 246.5h0M601.5 196.6h0M667.4 258.0h0M693.0 243.7h0M542.5 212.0h0M411.1 219.2h0M356.6 229.4h0M391.0 216.3h0M453.5 234.6h0M580.7 199.4h0M645.3 212.3h0M575.0 223.1h0M402.4 198.9h0M693.0 264.4h0M457.0 218.9h0M431.5 235.8h0M609.5 260.5h0M399.3 230.6h0M571.4 264.3h0M623.3 203.7h0M493.7 197.1h0M633.5 247.8h0M387.1 234.0h0M392.0 195.1h0M657.6 252.5h0M489.9 257.9h0M664.9 237.0h0M699.3 196.1h0M657.4 250.6h0M657.5 262.7h0M378.0 207.6h0M435.1 195.1h0M413.3 257.1h0M549.6 266.3h0M402.2 250.1h0M616.9 200.2h0M513.2 217.4h0M390.0 247.6h0M650.0 247.7h0M405.0 247.8h0M660.7 265.7h0M557.0 208.4h0M553.3 245.0h0M369.2 259.4h0M691.7 232.3h0M573.7 233.8h0M537.6 255.4h0M357.6 213.4h0M445.7 217.6h0M660.6 252.8h0M641.0 242.4h0M647.1 251.3h0M544.3 216.8h0M414.4 263.3h0M453.9 226.4h0M440.7 234.5h0M384.2 240.4h0M568.4 221.0h0M603.2 221.3h0M374.5 208.6h0M536.2 230.1h0M524.1 231.3h0M393.6 209.8h0M464.4 207.6h0M511.9 245.6h0M607.3 194.2h0M592.2 205.0h0M406.8 215.0h0M502.6 243.6h0M700.6 262.7h0M521.8 257.2h0M554.7 215.7h0M560.6 227.6h0M478.0 242.4h0M458.4 212.8h0M515.9 205.7h0M663.7 194.7h0M406.0 213.0h0M500.6 239.5h0M454.4 259.1h0M560.5 251.3h0M600.1 198.5h0M536.1 217.9h0M613.9 237.3h0M659.2 235.9h0M641.1 223.5h0M403.3 233.7h0M476.0 255.8h0M583.5 253.0h0M680.3 253.1h0M594.1 194.9h0M607.2 248.8h0M683.9 229.1h0M417.9 261.2h0M571.7 211.4h0M499.4 265.6h0M643.8 230.1h0M422.5 253.0h0M695.2 258.8h0M410.3 206.6h0M399.0 218.5h0M675.6 198.5h0M527.3 259.7h0M566.4 213.8h0M385.1 243.4h0M478.1 245.1h0M558.7 237.4h0M366.1 254.5h0M450.8 265.3h0M431.4 257.5h0M419.0 238.9h0M379.0 259.6h0M613.8 263.4h0M374.2 208.7h0M699.0 216.1h0M362.0 253.5h0M514.5 196.8h0M618.7 235.6h0M632.1 259.0h0M574.0 248.2h0M633.0 196.4h0M444.3 204.9h0M519.8 264.0h0M672.7 193.8h0M546.7 254.1h0M587.2 266.0h0M543.3 219.5h0M383.0 211.2h0M621.1 194.1h0M672.8 247.5h0M671.5 255.2h0M627.8 255.9h0M500.9 218.4h0M680.3 223.6h0M578.8 209.6h0M602.1 225.4h0M458.6 198.3h0M539.6 199.0h0M674.3 226.7h0M507.9 247.2h0M586.9 214.0h0M648.0 198.9h0M520.6 255.2h0M480.4 232.1h0M452.1 221.6h0M576.6 228.3h0M506.3 202.3h0M679.8 234.4h0M390.8 263.1h0M520.7 206.8h0M571.8 253.3h0M577.4 244.2h0M357.8 227.3h0M693.2 249.2h0M494.6 218.9h0M400.4 211.3h0M690.7 246.0h0M370.3 260.9h0M690.6 260.1h0M634.5 241.7h0M589.2 199.0h0M661.6 238.9h0M462.3 253.3h0M649.4 258.0h0M606.0 213.7h0M631.5 255.2h0M359.1 202.0h0M409.1 200.3h0M563.9 266.4h0M629.0 210.6h0M605.6 195.9h0M371.8 238.4h0M513.8 208.2h0M623.5 201.4h0M570.4 225.8h0M374.4 243.9h0M596.2 246.3h0M512.5 234.2h0M591.0 242.2h0M355.9 249.8h0M638.0 241.0h0M436.2 246.1h0M659.6 203.8h0M607.4 220.2h0M387.4 217.7h0M377.0 198.6h0M610.8 219.5h0M562.1 267.0h0M676.7 242.1h0M387.8 252.0h0M407.5 240.5h0M524.1 249.0h0M416.4 260.6h0M656.0 220.2h0M402.5 240.0h0M531.8 228.1h0M693.6 246.7h0M447.6 255.3h0M523.1 193.7h0M408.9 209.7h0M402.1 237.0h0M578.0 227.8h0M546.1 242.4h0M666.2 252.5h0M525.6 220.3h0M358.2 252.5h0M479.2 260.8h0M408.3 244.4h0M403.7 210.4h0M505.0 202.6h0M683.4 234.1h0M561.1 265.5h0M381.7 205.4h0M537.7 243.7h0M626.2 233.9h0M593.8 193.9h0M699.7 209.1h0M685.2 256.8h0M524.4 254.6h0M388.3 214.0h0M591.3 244.9h0M519.4 200.0h0M427.6 237.8h0M686.9 241.1h0M669.3 238.7h0M675.2 205.4h0M454.8 245.8h0M499.3 209.0h0M424.3 230.9h0M615.7 211.1h0M589.5 246.1h0M445.5 265.4h0M691.2 216.6h0M588.3 221.9h0M532.2 225.1h0M404.5 236.9h0M408.3 230.6h0M548.3 224.0h0M665.4 219.9h0M693.4 266.7h0M510.6 230.6h0M563.5 206.9h0M443.2 250.6h0M503.4 262.2h0M529.6 218.3h0M503.8 242.3h0M376.5 199.8h0M542.2 266.5h0M549.1 226.6h0M554.5 265.5h0M628.4 251.8h0M391.8 217.3h0M694.4 225.8h0M582.8 212.8h0M367.5 215.2h0M542.6 215.2h0M468.2 256.3h0M394.7 235.7h0M617.6 248.6h0M460.9 257.7h0M400.4 243.2h0M409.9 261.1h0M639.8 241.6h0M669.0 263.5h0M462.1 240.3h0M398.4 221.0h0M360.2 246.6h0M457.5 247.7h0M563.1 265.0h0M398.9 216.1h0M475.8 253.4h0M444.5 219.3h0M597.3 206.1h0M506.1 230.7h0M507.7 259.1h0M594.0 204.9h0M373.3 235.7h0M392.2 210.0h0M700.3 231.0h0M402.2 222.5h0M470.1 203.0h0M392.7 247.4h0M395.2 194.8h0M670.8 226.0h0M457.7 246.3h0M557.2 216.6h0M459.1 197.9h0M456.9 213.8h0M635.4 234.7h0M491.9 206.4h0M699.4 227.9h0M691.6 214.8h0M445.8 222.7h0M493.3 211.3h0M513.9 224.5h0M438.4 214.7h0M482.5 266.4h0M378.9 226.9h0M661.3 248.3h0M496.9 256.1h0M572.8 224.2h0M423.1 218.3h0M571.9 223.7h0M527.0 232.4h0M524.3 223.4h0M526.5 225.4h0M484.8 215.4h0M671.8 235.3h0M570.3 228.8h0M598.8 263.3h0M404.0 245.8h0M567.2 204.0h0M630.7 197.5h0M644.4 243.8h0M399.1 215.9h0M529.7 204.1h0M437.0 244.9h0M422.8 216.1h0M660.0 205.5h0M381.5 211.8h0M458.5 239.4h0M531.1 207.6h0M483.8 202.7h0M674.4 240.7h0M496.8 266.5h0M607.0 245.0h0M573.7 220.5h0M431.3 216.3h0M549.2 208.8h0M538.7 196.7h0M412.7 208.8h0M581.1 210.1h0M381.3 257.3h0M412.8 247.4h0M482.9 236.9h0M441.4 263.5h0M526.7 220.5h0M474.9 230.3h0M533.3 228.6h0M556.1 218.2h0M424.8 250.5h0M421.9 230.6h0M478.8 199.4h0M636.4 215.8h0M418.1 247.1h0M686.9 199.7h0M398.2 224.0h0M504.3 244.9h0M526.6 236.6h0M449.5 199.9h0M513.1 241.3h0M698.1 209.4h0M395.7 224.4h0M692.2 200.2h0M656.6 243.2h0M495.3 230.6h0M690.4 247.1h0M466.8 238.2h0M575.5 218.8h0M406.4 220.5h0M417.5 264.4h0M640.7 251.5h0M596.4 258.7h0M441.8 256.0h0M451.0 213.7h0M434.2 250.9h0M415.1 257.9h0M664.9 228.1h0M644.9 195.5h0M638.9 257.4h0M493.5 252.5h0M654.5 261.4h0M458.6 245.8h0M509.5 203.8h0M632.4 216.1h0M685.8 226.1h0M677.8 197.4h0M691.0 253.1h0M545.3 234.1h0M368.1 202.7h0M443.6 226.5h0M641.1 199.1h0M417.4 256.9h0M610.2 266.1h0M402.0 251.8h0M558.4 254.4h0M696.4 262.5h0M595.8 240.8h0M659.0 212.5h0M441.3 220.6h0M385.5 261.3h0M538.5 212.4h0M382.0 265.7h0M502.3 193.8h0M602.2 266.1h0M561.7 220.4h0M539.5 243.6h0M510.7 261.2h0M677.4 214.8h0M352.8 198.8h0M541.8 213.0h0M681.5 263.9h0M365.1 215.6h0M613.2 219.8h0M358.6 250.3h0M668.1 253.6h0M635.4 251.7h0M697.4 250.6h0M422.0 216.0h0M541.6 229.4h0M610.5 229.9h0M436.9 204.4h0M374.6 262.0h0M361.6 200.5h0M621.4 233.2h0M502.9 228.1h0M389.1 229.2h0M488.2 203.4h0M464.5 223.9h0M690.0 225.9h0M539.2 236.4h0M629.7 202.2h0M430.8 213.2h0M530.3 238.5h0M685.8 237.4h0M452.1 262.1h0M674.9 266.1h0M442.0 248.3h0M663.1 226.8h0M700.4 205.4h0M431.9 197.1h0M594.1 202.5h0M470.3 210.9h0M691.1 257.2h0M354.0 203.5h0M444.0 213.0h0M548.9 238.4h0M621.9 231.7h0M387.6 206.7h0M376.7 226.8h0M671.2 200.4h0M460.5 236.8h0M408.3 220.5h0M590.3 236.7h0M393.2 231.6h0M561.0 241.6h0M364.8 226.8h0M562.8 196.9h0M419.6 255.4h0M668.7 250.1h0M679.7 229.8h0M656.4 250.8h0M524.5 221.9h0M646.4 252.7h0M449.0 231.5h0M386.9 215.0h0M686.0 256.5h0M426.2 251.5h0M527.3 267.0h0M420.5 240.3h0M520.6 233.2h0M373.9 217.7h0M701.9 208.7h0M631.6 225.4h0M494.9 260.3h0M632.6 256.4h0M427.4 233.1h0M683.1 221.1h0M359.6 257.1h0M641.6 241.6h0M546.4 217.6h0M681.2 222.4h0M499.3 230.8h0M359.9 205.7h0M488.8 229.0h0M443.8 260.4h0M684.5 218.5h0M513.9 223.9h0M624.9 226.2h0M542.2 219.6h0M476.8 261.7h0M644.3 201.7h0M694.6 249.9h0M422.6 196.2h0M408.7 249.0h0M507.4 201.8h0M469.1 195.4h0M401.3 215.7h0M532.2 234.7h0M665.2 220.4h0M609.5 213.4h0M691.8 247.3h0M648.2 244.9h0M530.7 235.8h0M424.2 228.0h0M590.4 201.7h0M605.8 224.0h0M615.8 246.0h0M606.3 196.7h0M672.5 199.5h0M615.3 236.0h0M650.7 265.1h0M415.9 266.5h0M574.9 233.3h0M699.4 216.0h0M647.4 209.6h0M640.1 231.0h0M400.3 245.0h0M429.7 261.0h0M425.4 231.0h0M660.4 231.6h0M413.8 220.8h0M431.2 217.0h0M403.5 264.7h0M415.1 211.4h0M418.2 206.4h0M631.5 218.4h0M484.0 244.3h0M406.5 247.0h0M619.7 246.5h0M621.2 229.7h0M382.3 209.5h0M580.7 219.1h0M576.3 260.5h0M605.1 199.7h0M666.5 237.2h0M501.6 242.0h0M379.9 198.1h0M398.5 253.1h0M536.0 195.8h0M419.3 207.8h0M379.7 237.0h0M678.7 212.1h0M457.0 234.3h0M688.7 216.4h0M359.6 258.1h0M387.1 219.4h0M681.3 226.6h0M623.9 204.6h0M683.4 263.5h0M557.9 242.6h0M675.9 194.6h0M522.6 224.6h0M533.8 206.0h0M537.5 216.8h0M568.4 206.7h0M374.6 261.6h0M510.2 202.8h0M623.8 217.9h0M536.7 215.3h0M617.7 234.7h0M491.0 256.7h0M364.9 264.4h0M590.7 261.0h0M371.6 209.9h0M464.6 247.1h0M485.7 243.8h0M406.3 265.6h0M607.8 224.0h0M445.7 240.5h0M604.8 266.7h0M518.3 198.8h0M528.3 255.4h0M433.3 227.7h0M517.3 204.8h0M405.3 267.1h0M463.1 215.1h0M695.9 228.1h0M476.5 193.6h0M459.8 262.2h0M599.3 251.8h0M590.4 254.4h0M666.8 262.8h0M701.2 246.8h0M615.6 224.6h0M645.0 255.9h0M450.3 194.0h0M406.1 208.7h0M608.3 241.9h0M420.9 236.7h0M440.2 196.3h0M510.5 198.3h0M605.4 203.5h0M493.0 246.1h0M656.5 258.2h0M579.4 209.8h0M554.5 250.5h0M525.8 214.5h0M524.9 220.2h0M683.9 258.2h0M615.1 227.2h0M657.5 217.3h0M509.8 253.8h0M638.5 212.2h0M542.4 236.5h0M383.9 202.8h0M611.0 239.4h0M511.5 227.8h0M570.1 261.7h0M688.0 266.0h0M485.1 212.4h0M593.9 225.5h0M378.6 251.6h0M618.7 207.9h0M491.6 216.1h0M664.2 217.5h0M691.8 215.7h0M537.2 245.3h0M462.3 257.1h0M614.4 233.8h0M529.1 202.1h0M549.8 249.6h0M495.3 203.1h0M606.4 209.3h0M635.6 222.3h0M648.8 267.1h0M397.9 259.8h0M474.3 238.9h0M480.9 236.8h0M537.3 255.5h0M609.5 250.2h0M700.5 206.6h0M490.7 252.3h0M546.1 220.0h0M387.0 259.2h0M507.1 246.1h0M502.2 237.7h0M371.8 219.3h0M433.3 222.1h0M375.2 260.3h0M633.7 216.8h0M660.6 253.0h0M412.2 242.7h0M667.2 218.9h0M586.0 217.6h0M401.2 254.8h0M481.4 230.7h0M454.5 261.9h0M630.7 195.4h0M389.7 199.7h0M561.3 260.2h0M644.1 241.7h0M605.1 201.8h0M641.1 252.1h0M597.1 244.7h0M399.3 197.1h0M454.0 198.1h0M699.8 228.1h0M695.4 201.5h0M535.8 228.9h0M375.6 202.8h0M621.3 227.6h0M679.4 266.3h0M450.1 232.6h0M611.5 206.7h0M621.3 211.2h0M464.3 227.3h0M499.8 225.8h0M445.8 230.4h0M687.5 263.8h0M459.0 238.1h0M625.4 238.0h0M608.7 197.6h0M574.2 228.6h0M460.3 264.0h0M439.7 237.3h0M443.7 259.6h0M551.7 215.8h0M542.1 252.8h0M698.8 218.3h0M691.6 252.0h0M433.6 201.0h0M383.5 214.5h0M543.1 200.0h0M693.1 217.1h0M492.0 198.9h0M605.2 253.4h0M634.9 237.1h0M513.1 262.0h0M359.8 198.9h0M663.9 218.9h0M416.6 210.0h0M356.0 202.6h0M428.0 250.7h0M435.4 258.0h0M428.3 256.7h0M679.4 235.7h0M630.8 232.8h0M400.2 248.5h0M501.9 222.6h0M537.3 262.4h0M476.3 260.3h0M593.7 216.6h0M437.3 251.9h0M472.5 217.6h0M489.8 215.5h0M400.8 202.5h0M458.7 215.3h0M467.5 254.7h0M542.6 263.4h0M487.0 242.6h0M468.6 236.3h0M624.8 255.8h0M436.6 241.6h0M413.2 210.7h0M371.9 199.9h0M445.7 205.6h0M417.1 246.8h0M690.0 220.6h0M422.0 227.9h0M597.4 212.3h0M474.4 230.5h0M381.3 204.1h0M438.1 198.4h0M638.6 244.1h0M575.4 263.4h0M677.0 193.6h0M568.2 198.1h0M598.8 260.4h0M613.2 240.3h0M613.0 212.1h0M503.1 224.0h0M652.2 247.0h0M680.8 240.2h0M362.0 260.9h0M373.1 211.2h0M441.0 210.4h0M463.2 214.2h0M524.4 200.9h0M468.5 265.9h0M357.1 207.9h0M614.5 206.7h0M599.0 260.5h0M434.1 230.1h0M567.6 236.3h0M626.0 204.0h0M639.9 243.6h0M465.7 238.0h0M654.9 257.2h0M568.2 217.8h0M506.5 262.7h0M534.9 204.5h0M639.2 215.8h0M431.5 247.6h0M392.2 251.1h0M509.7 204.8h0M673.1 258.6h0M683.4 195.8h0M507.2 193.8h0M601.4 203.5h0M600.8 264.0h0M525.0 195.2h0M552.9 245.9h0M382.5 204.0h0M550.2 200.6h0M594.1 222.1h0M436.1 260.0h0M411.5 197.4h0M508.8 209.2h0M430.6 197.1h0M633.2 245.9h0M623.4 218.9h0M484.5 223.3h0M455.6 266.3h0M646.0 262.6h0M369.1 196.1h0M437.1 202.3h0M421.6 261.5h0M410.5 214.7h0M511.3 263.6h0M413.4 253.6h0M546.4 211.9h0M521.7 233.5h0M618.6 218.0h0M463.8 194.6h0M441.7 246.8h0M522.5 261.7h0M660.4 197.1h0M428.7 227.7h0M613.5 241.3h0M479.5 220.0h0M619.3 245.5h0M443.6 258.9h0M556.2 194.5h0M521.1 219.1h0M700.0 244.6h0M552.4 237.6h0M519.9 193.8h0M515.5 213.2h0M498.8 217.4h0M452.0 223.4h0M455.0 237.6h0M398.0 214.5h0M366.0 229.2h0M539.6 255.5h0M417.9 232.6h0M621.5 216.8h0M451.0 243.8h0M671.2 240.6h0M365.2 203.8h0M445.7 232.4h0M357.7 256.5h0M673.1 235.3h0M519.4 226.4h0M419.7 211.6h0M445.8 258.7h0M430.1 259.0h0M501.0 235.5h0M658.6 203.2h0M590.5 242.2h0M527.9 212.6h0M510.9 244.5h0M420.8 231.1h0M591.2 195.4h0M463.2 254.2h0M460.8 257.3h0M384.1 222.0h0M693.3 194.7h0M422.2 199.3h0M587.3 217.8h0M506.9 263.7h0M526.6 230.3h0M699.7 198.3h0M402.7 248.0h0M357.5 257.7h0M681.0 223.4h0M413.9 196.5h0M403.9 261.9h0M698.3 258.7h0M602.3 200.8h0M687.3 217.7h0M634.7 239.1h0M578.8 256.3h0M528.5 225.5h0M573.3 209.3h0M674.8 239.2h0M569.1 245.9h0M684.8 253.7h0M521.6 234.0h0M630.7 251.4h0M657.2 247.8h0M623.8 231.9h0M551.7 198.4h0M671.5 211.7h0M370.9 232.2h0M606.9 201.5h0M571.3 237.5h0M356.8 204.7h0M413.3 238.3h0M573.4 204.2h0M700.4 204.1h0M701.6 234.0h0M556.6 221.9h0M599.4 243.9h0M671.7 211.3h0M574.9 216.9h0M556.7 224.3h0M469.6 260.3h0M536.6 247.3h0M586.2 201.6h0M392.1 242.5h0M666.2 262.6h0M446.4 246.6h0M511.1 233.6h0M422.8 227.0h0M644.1 237.7h0M634.4 205.2h0M447.5 241.2h0M358.2 207.8h0M643.2 221.5h0M616.3 195.5h0M598.3 261.0h0M572.2 223.4h0M480.1 199.2h0M575.4 213.2h0M682.9 261.0h0M647.9 228.4h0M492.3 263.1h0M436.8 231.0h0M362.9 259.2h0M574.4 209.2h0M550.1 202.3h0M684.3 248.0h0M440.5 236.7h0M597.0 264.4h0M357.5 233.1h0" stroke="#202020" stroke-width="0.83"/><path d="M402.7 248.8h0M424.1 263.7h0M595.8 212.8h0M538.5 250.9h0M442.9 244.6h0M508.7 262.6h0M388.0 228.2h0M663.2 225.5h0M644.0 198.1h0M529.9 211.8h0M502.1 209.3h0M680.8 241.0h0M470.9 208.0h0M384.5 220.5h0M486.7 231.7h0M692.1 201.3h0M649.4 243.4h0M422.9 216.6h0M527.2 206.7h0M645.0 194.6h0M656.7 243.0h0M353.6 220.4h0M557.5 222.6h0M382.1 196.7h0M440.5 199.1h0M648.0 199.2h0M379.4 204.5h0M356.7 198.1h0M588.6 215.0h0M699.7 234.0h0M378.4 200.2h0M685.5 203.4h0M646.1 193.7h0M601.6 260.0h0M701.6 237.0h0M450.4 197.4h0M574.3 204.6h0M504.9 216.8h0M510.0 249.0h0M412.0 224.1h0M456.4 248.0h0M544.8 226.9h0M526.5 235.9h0M492.1 226.4h0M362.5 223.9h0M595.6 246.5h0M591.0 208.2h0M433.0 209.9h0M489.8 259.7h0M411.5 193.8h0M613.6 259.7h0M444.0 246.3h0M564.7 217.7h0M625.0 215.2h0M550.5 221.1h0M389.3 237.5h0M589.5 207.2h0M491.4 213.6h0M461.5 235.3h0M497.1 194.9h0M680.5 205.1h0M562.0 234.1h0M366.5 203.2h0M375.2 219.4h0M407.8 259.6h0M668.8 227.2h0M493.4 240.5h0M698.7 236.1h0M455.9 231.6h0M575.8 266.0h0M360.1 193.8h0M575.5 257.7h0M371.9 254.0h0M636.7 206.5h0M413.6 267.0h0M433.5 196.5h0M664.0 261.7h0M592.1 261.1h0M682.7 248.5h0M610.0 198.4h0M640.8 240.1h0M455.3 218.4h0M359.6 212.5h0M369.2 249.5h0M602.1 254.5h0M559.5 264.1h0M499.9 241.1h0M655.8 226.7h0M411.6 225.9h0M605.3 265.3h0M486.7 266.0h0M390.5 260.7h0M594.8 230.4h0M601.7 239.9h0M575.8 254.6h0M572.1 243.3h0M445.8 221.3h0M353.2 246.7h0M477.5 241.8h0M582.8 220.3h0M651.1 197.8h0M626.5 203.9h0M425.6 198.9h0M586.1 259.4h0M585.0 255.5h0M359.5 197.0h0M470.7 257.0h0M451.7 218.8h0M546.0 254.4h0M476.5 229.9h0M528.5 213.6h0M468.0 216.9h0M543.0 197.3h0M672.0 241.9h0M657.2 203.8h0M548.9 212.6h0M513.4 262.2h0M682.7 251.3h0M454.5 198.1h0M643.0 237.8h0M515.0 208.8h0M513.1 200.1h0M622.3 210.7h0M419.6 206.9h0M367.9 267.0h0M557.5 209.3h0M599.3 200.2h0M416.2 256.1h0M412.5 262.9h0M680.8 243.4h0M496.3 205.1h0M442.5 208.4h0M675.8 200.8h0M497.6 205.5h0M507.2 251.7h0M533.6 219.2h0M417.4 254.8h0M394.5 246.2h0M568.8 206.0h0M490.7 262.9h0M470.7 211.3h0M602.5 255.6h0M465.9 204.4h0M364.3 240.8h0M504.0 263.6h0M394.4 237.3h0M506.2 231.3h0M672.5 236.1h0M437.4 200.1h0M579.7 208.4h0M691.4 222.8h0M409.1 263.7h0M547.0 229.8h0M533.1 255.0h0M588.5 239.0h0M453.0 219.6h0M485.4 215.7h0M555.7 200.1h0M457.1 233.1h0M488.5 219.9h0M536.0 200.9h0M492.8 250.1h0M581.7 215.3h0M413.6 250.2h0M579.6 244.0h0M402.6 211.1h0M487.8 228.0h0M376.1 260.9h0M679.9 206.6h0M590.0 242.4h0M439.2 255.9h0M669.1 200.8h0M565.1 225.3h0M406.9 247.9h0M551.7 246.3h0M676.0 242.9h0M679.5 201.8h0M629.1 209.1h0M523.5 207.5h0M398.8 240.8h0M643.0 202.0h0M408.7 226.4h0M381.7 246.4h0M523.1 251.3h0M355.2 261.3h0M571.8 262.4h0M388.0 246.5h0M481.2 234.2h0M500.2 247.4h0M532.3 224.6h0M668.4 205.7h0M353.8 252.8h0M550.8 228.1h0M636.0 198.0h0M594.1 204.4h0M546.3 263.0h0M544.0 201.9h0M579.5 207.4h0M549.2 261.1h0M411.1 248.5h0M641.0 202.6h0M531.8 232.2h0M604.7 196.8h0M644.7 236.9h0M540.6 244.3h0M684.1 194.6h0M478.5 232.5h0M468.2 228.1h0M447.9 230.4h0M458.6 249.8h0M530.3 240.4h0M657.5 246.3h0M373.4 218.4h0M661.3 251.2h0M665.0 253.2h0M493.9 222.8h0M457.7 216.3h0M556.8 216.0h0M463.9 206.5h0M543.4 249.4h0M492.0 208.3h0M562.5 199.4h0M603.7 194.0h0M540.1 258.0h0M675.0 209.2h0M494.0 243.6h0M657.7 195.5h0M497.5 245.9h0M477.4 220.2h0M582.2 237.9h0M619.2 250.7h0M547.9 220.2h0M387.2 253.2h0M546.5 207.0h0M634.4 260.8h0M436.9 219.7h0M617.8 240.9h0M519.2 262.3h0M686.0 203.6h0M657.3 212.0h0M504.4 203.9h0M693.0 194.3h0M421.0 197.1h0M580.7 233.6h0M593.7 265.9h0M435.9 230.5h0M476.5 198.3h0M566.6 243.4h0M675.4 249.9h0M670.1 228.4h0M701.8 198.4h0M535.5 232.4h0M395.3 204.9h0M483.5 220.4h0M459.5 233.7h0M422.8 224.7h0M503.0 238.3h0M675.7 207.7h0M541.7 261.7h0M371.5 243.7h0M417.4 233.3h0M382.6 221.8h0M655.4 252.6h0M495.3 235.2h0M526.5 243.2h0M581.9 197.3h0M474.8 229.0h0M611.9 206.8h0M578.5 203.3h0M446.9 233.4h0M639.5 199.0h0M559.3 207.1h0M421.6 209.8h0M655.4 197.3h0M627.4 200.4h0M443.0 244.7h0M504.5 254.3h0M376.1 251.2h0M489.4 251.3h0M432.2 243.1h0M454.5 200.1h0M640.1 207.2h0M388.6 211.7h0M399.5 249.0h0M585.3 199.2h0M507.6 264.1h0M669.5 230.3h0M701.2 206.4h0M524.7 265.3h0M590.6 260.4h0M692.0 250.8h0M688.8 207.4h0M664.0 228.5h0M676.8 223.3h0M615.5 213.9h0M603.1 222.7h0M622.0 196.6h0M476.0 262.8h0M644.1 246.0h0M623.2 222.6h0M492.2 230.4h0M538.3 232.0h0M493.5 235.8h0M622.1 238.1h0M564.8 260.1h0M521.5 215.2h0M430.3 206.3h0M500.5 198.2h0M633.5 264.4h0M622.7 208.4h0M644.5 240.8h0M547.3 239.8h0M698.7 260.7h0M649.5 232.5h0M529.9 209.0h0M354.9 208.6h0M599.2 242.3h0M383.7 213.8h0M618.9 204.5h0M632.5 197.6h0M506.8 245.6h0M618.9 255.2h0M540.4 218.7h0M389.0 254.4h0M567.1 205.8h0M615.7 211.9h0M579.0 231.2h0M653.5 227.5h0M389.6 209.0h0M407.6 242.1h0M374.0 215.4h0M650.4 203.2h0M481.5 247.9h0M370.0 242.4h0M436.1 206.2h0M426.6 199.7h0M378.3 226.9h0M386.5 214.3h0M584.7 203.9h0M403.0 252.7h0M611.2 256.7h0M509.4 256.2h0M419.6 228.2h0M641.9 193.6h0M701.5 203.6h0M653.1 264.0h0M499.2 232.6h0M508.4 230.4h0M504.8 237.2h0M551.7 207.0h0M577.3 223.9h0M570.6 228.3h0M667.1 210.7h0M485.2 230.0h0M516.5 227.0h0M481.6 264.4h0M481.4 256.2h0M691.5 204.5h0M378.0 219.3h0M498.3 228.8h0M468.8 261.8h0M595.9 213.0h0M614.9 230.5h0M697.2 266.9h0M622.0 254.5h0M491.0 232.1h0M626.8 246.5h0M592.1 228.7h0M625.0 246.9h0M457.2 198.6h0M537.7 245.1h0M517.6 264.0h0M672.5 229.7h0M637.0 244.8h0M461.9 247.3h0M639.6 257.1h0M666.8 263.7h0M432.0 217.0h0M684.4 215.8h0M636.6 212.2h0M473.0 255.7h0M668.1 195.5h0M463.7 219.0h0M425.0 220.3h0M502.4 200.4h0M639.2 251.7h0M677.4 208.4h0M500.5 237.9h0M614.0 211.0h0M477.0 225.7h0M690.5 223.3h0M684.3 204.3h0M589.3 223.0h0M558.6 243.4h0M474.6 232.8h0M575.8 228.7h0M441.3 238.5h0M410.2 259.3h0M510.2 258.5h0M462.9 221.3h0M698.8 244.2h0M577.0 234.8h0M564.3 225.6h0M380.8 226.6h0M386.4 229.9h0M427.3 241.8h0M621.2 244.6h0M368.5 255.1h0M577.9 255.3h0M518.0 251.4h0M524.8 213.3h0M386.9 230.2h0M409.0 258.8h0M526.7 214.4h0M486.9 233.9h0M395.7 214.5h0M549.2 263.4h0M478.3 238.1h0M678.2 213.3h0M390.9 248.5h0M477.8 259.8h0M470.8 199.4h0M437.8 205.0h0M638.6 251.8h0M383.0 244.2h0M469.4 213.2h0M486.0 243.7h0M429.6 263.4h0M474.0 244.8h0M353.6 196.7h0M381.7 216.1h0M461.1 208.6h0M621.6 245.4h0M607.3 257.1h0M511.4 199.9h0M696.2 225.4h0M574.4 244.6h0M363.6 264.4h0M633.6 210.5h0M522.8 220.8h0M501.7 207.8h0M530.4 201.8h0M506.0 222.9h0M484.9 194.4h0M433.9 236.7h0M506.3 266.7h0M357.7 210.4h0M573.9 231.8h0M408.2 264.0h0M453.5 245.3h0M429.4 222.1h0M562.8 234.8h0M451.6 199.8h0M647.2 220.5h0M470.7 224.3h0M362.4 209.8h0M597.8 250.3h0M608.5 201.8h0M587.3 248.3h0M550.5 249.0h0M408.1 215.1h0M680.8 209.8h0M430.7 209.6h0M361.6 249.1h0M462.7 253.0h0M412.6 259.6h0M540.4 209.6h0M421.3 208.7h0M452.6 251.8h0M700.4 215.6h0M489.8 249.2h0M506.3 249.7h0M364.1 226.3h0M563.6 198.8h0M639.5 224.3h0M557.8 246.7h0M359.8 227.2h0M385.2 231.6h0M432.3 202.1h0M698.6 263.0h0M442.3 245.4h0M489.0 224.9h0M585.4 234.9h0M418.0 263.5h0M643.7 258.3h0M664.3 227.4h0M402.5 234.1h0M665.3 227.7h0M491.9 207.7h0M561.8 261.5h0M550.5 217.6h0M529.5 196.4h0M599.3 262.1h0M509.5 228.0h0M425.6 209.0h0M557.3 211.1h0M578.1 230.8h0M392.8 237.7h0M368.3 258.3h0M645.1 248.5h0M413.5 234.7h0M679.4 195.0h0M428.1 262.8h0M432.4 193.7h0M573.9 254.9h0M649.1 235.3h0M459.4 200.8h0M436.9 251.6h0M653.9 212.5h0M520.6 221.7h0M675.2 242.2h0M495.7 203.0h0M460.8 208.5h0M636.7 197.7h0M485.3 261.2h0M478.7 204.0h0M619.0 198.4h0M575.7 201.0h0M486.5 239.2h0M626.0 246.5h0M456.7 246.8h0M548.5 228.8h0M558.3 244.6h0M466.4 250.8h0M607.2 208.2h0M491.5 195.3h0M446.7 258.7h0M619.8 243.5h0M631.2 213.0h0M360.7 255.1h0M450.9 231.3h0M400.3 220.5h0M472.4 261.2h0M548.7 228.6h0M671.3 211.6h0M600.9 196.6h0M388.1 251.3h0M634.0 227.7h0M505.7 237.4h0M448.5 195.8h0M437.3 195.7h0M623.5 205.9h0M546.6 209.0h0M506.5 202.2h0M674.4 241.3h0M403.8 212.8h0M509.3 237.2h0M657.9 262.7h0M631.5 257.2h0M566.3 255.8h0M667.3 231.5h0M625.9 205.1h0M605.9 206.4h0M501.1 261.4h0M414.0 261.0h0M590.8 221.7h0M641.1 203.1h0M400.3 241.0h0M466.6 211.9h0M552.6 195.3h0M419.7 229.6h0M511.2 256.1h0M491.4 251.0h0M600.3 248.5h0M581.1 218.6h0M438.9 205.7h0M545.6 195.9h0M482.5 199.9h0M625.7 203.1h0M579.2 233.5h0M508.0 206.9h0M599.1 252.2h0M463.3 204.3h0M594.7 220.9h0M513.4 253.4h0M613.0 258.6h0M601.0 232.7h0M618.1 234.5h0M366.0 253.2h0M688.2 251.2h0M397.5 237.7h0M555.1 232.6h0M471.6 223.1h0M372.1 232.5h0M517.0 227.7h0M492.6 200.8h0M655.8 210.6h0M467.3 236.4h0M487.8 248.9h0M467.8 246.4h0M513.8 266.0h0M539.3 264.0h0M539.4 199.1h0M473.4 195.4h0M676.3 232.8h0M472.5 223.6h0M377.9 211.3h0M423.4 219.0h0M359.2 218.7h0M490.7 209.9h0M379.2 200.7h0M446.4 204.5h0M520.8 260.5h0M638.8 229.2h0M497.2 220.1h0M403.7 230.8h0M548.6 202.2h0M645.2 257.3h0M516.3 244.7h0M523.4 225.0h0M409.6 255.0h0M660.7 225.9h0M519.5 214.0h0M571.2 199.9h0M450.7 219.5h0M404.5 264.7h0M577.2 214.5h0M529.1 244.4h0M379.7 258.1h0M603.4 233.2h0M627.1 207.3h0M580.5 250.4h0M644.7 200.5h0M380.1 201.5h0M356.7 204.7h0M476.6 212.3h0M361.4 258.6h0M470.1 226.1h0M516.3 231.7h0M471.7 204.2h0M658.7 201.3h0M524.5 217.6h0M600.5 227.5h0M408.4 215.4h0M582.4 198.5h0M519.6 198.0h0M378.0 228.3h0M588.6 221.8h0M700.5 260.4h0M407.6 256.5h0M563.9 248.2h0M441.3 223.8h0M546.4 249.8h0M539.3 230.2h0M471.5 262.6h0M687.0 249.7h0M488.3 224.9h0M536.6 257.5h0M524.4 207.5h0M398.0 257.3h0M641.2 251.8h0M652.6 251.1h0M694.0 234.1h0M604.6 196.5h0M644.1 227.7h0M383.2 250.6h0M461.1 266.7h0M592.6 231.1h0M419.4 221.2h0M553.3 258.1h0M477.7 231.5h0M487.4 245.8h0M601.2 263.6h0M516.2 196.8h0M628.4 195.5h0M622.0 209.3h0M533.2 196.7h0M673.2 217.4h0M374.2 224.3h0M356.2 247.3h0M596.0 209.2h0M381.8 228.3h0M620.7 235.8h0M382.9 256.0h0M559.5 263.9h0M404.5 253.6h0M700.2 205.0h0M660.7 198.8h0M515.1 260.0h0M482.3 226.7h0M555.4 244.4h0M393.1 242.7h0M663.1 203.1h0M568.1 222.1h0M453.1 220.8h0M673.9 202.9h0M358.0 256.2h0M380.8 197.0h0M558.8 229.8h0M590.1 202.4h0M609.0 220.9h0M535.0 201.7h0M665.0 261.1h0M616.0 258.2h0M544.1 197.4h0M585.0 200.0h0M386.8 251.7h0M421.3 196.8h0M595.2 194.3h0M362.9 207.1h0M418.6 200.3h0M678.6 267.2h0M456.6 197.7h0M574.6 249.2h0M429.1 224.4h0M699.1 235.9h0M384.6 228.8h0M624.2 201.8h0M398.1 201.4h0M364.5 251.1h0M524.6 194.0h0M609.5 204.5h0M684.9 251.2h0M618.8 261.4h0M602.2 256.4h0M559.0 210.9h0M469.6 266.8h0M546.8 198.9h0M504.8 213.7h0M701.0 203.8h0M625.4 216.9h0M358.9 211.1h0M555.0 237.4h0M473.1 213.8h0M405.4 235.3h0M445.0 212.9h0M422.7 206.4h0M523.5 203.2h0M492.2 234.4h0M406.1 202.3h0M603.4 218.8h0M485.8 250.3h0M463.2 198.7h0M521.9 213.5h0M592.9 231.7h0M432.7 244.5h0M371.3 213.5h0M618.9 198.6h0M360.3 247.8h0M701.4 239.3h0M492.3 224.7h0M415.4 218.8h0M664.6 235.6h0M435.6 196.7h0M457.5 243.5h0M606.4 254.8h0M634.4 214.8h0M416.2 199.5h0M668.2 251.6h0M617.1 245.4h0M416.9 233.5h0M604.3 237.9h0M464.3 218.3h0M698.7 262.0h0M664.2 235.1h0M521.3 234.8h0M686.8 255.9h0M632.4 246.7h0M651.7 265.5h0M653.0 249.2h0M634.5 202.1h0M499.4 265.2h0M560.8 239.9h0M393.6 217.3h0M359.6 260.9h0M459.3 262.6h0M393.2 240.9h0M592.4 205.8h0M595.7 199.8h0M544.4 233.6h0M618.0 208.1h0M402.0 212.7h0M565.4 249.5h0M494.5 234.5h0M393.7 218.3h0M498.4 218.5h0M608.9 204.6h0M692.5 258.7h0M443.0 217.9h0M449.5 217.8h0M684.7 218.4h0M660.4 248.8h0M495.5 239.7h0M659.5 237.7h0M671.7 205.4h0M529.7 227.0h0M360.7 223.4h0M553.1 239.5h0M469.4 227.9h0M502.4 226.4h0M458.6 249.8h0M587.1 225.6h0M368.3 259.0h0M359.7 223.1h0M503.6 239.0h0M696.7 200.5h0M426.9 195.8h0M410.5 237.9h0M368.0 251.3h0M691.6 209.2h0M499.2 239.7h0M477.6 265.1h0M640.2 262.8h0M579.0 218.2h0M499.4 232.6h0M618.7 210.8h0M413.8 255.4h0M493.2 249.7h0M602.3 251.6h0M504.1 261.8h0M402.2 201.1h0M377.0 252.7h0M579.8 233.8h0M549.1 220.7h0M654.8 206.8h0M426.3 212.7h0M412.7 251.5h0M499.2 203.2h0M603.1 230.1h0M601.8 252.1h0M591.1 207.1h0M603.3 219.0h0M578.0 237.0h0M452.1 244.5h0M451.7 260.7h0M597.4 244.6h0M575.4 200.4h0M391.8 218.3h0M604.7 260.8h0M698.6 227.5h0M446.8 220.9h0M687.5 264.4h0M555.6 258.3h0M588.6 215.1h0M462.3 209.5h0M622.6 209.2h0M692.3 235.2h0M632.7 217.0h0M376.9 224.7h0M411.8 214.4h0M356.4 229.0h0M436.7 230.6h0M570.4 225.3h0M590.0 202.5h0M431.2 217.7h0M452.1 195.4h0M428.6 200.3h0M400.4 252.9h0M599.2 226.4h0M674.7 232.7h0M655.0 242.7h0M395.7 214.0h0M389.6 260.5h0M525.3 231.3h0M436.9 218.9h0M448.9 207.2h0M652.3 260.4h0M470.8 221.3h0M611.3 243.8h0M595.4 227.7h0M572.7 259.6h0M556.2 227.8h0M564.3 244.0h0M582.9 225.7h0M390.9 234.1h0M480.2 233.3h0M393.0 228.2h0M355.3 233.1h0M698.7 260.6h0M644.8 265.7h0M358.8 216.2h0M379.9 214.6h0M581.9 214.6h0M511.5 234.0h0M465.2 237.6h0M601.5 199.4h0M563.4 200.1h0M569.2 247.5h0M589.9 240.6h0M516.1 210.2h0M471.6 241.8h0M427.6 206.4h0M469.8 227.7h0M701.4 239.2h0M460.3 223.9h0M464.7 248.7h0M384.1 198.0h0M421.7 242.9h0M365.7 209.9h0M457.2 242.4h0M618.6 217.8h0M683.2 196.7h0M519.9 223.0h0M618.8 218.3h0M589.1 212.6h0M689.6 203.5h0M409.7 212.1h0M605.5 246.5h0M468.6 262.6h0M606.9 235.3h0M642.0 213.4h0M580.1 230.2h0M523.4 230.5h0M635.9 203.8h0M367.9 214.5h0M596.9 222.4h0M459.3 212.6h0M437.2 194.6h0M444.5 205.6h0M655.4 262.0h0M524.0 197.8h0M602.9 213.7h0M539.4 214.5h0M447.3 210.8h0M474.5 215.5h0M402.3 212.0h0M636.5 263.3h0M590.6 220.4h0M450.9 226.9h0M629.8 258.9h0M639.4 261.7h0M695.0 233.5h0M393.1 259.3h0M423.6 222.7h0M518.4 209.2h0M369.5 228.9h0M631.1 233.6h0M402.3 208.9h0M589.5 236.6h0M408.3 220.3h0M443.2 208.2h0M654.1 261.8h0M448.1 206.8h0M438.0 248.2h0M633.5 259.7h0M551.9 252.0h0M443.4 250.2h0M502.8 213.5h0M464.9 215.6h0M417.1 224.7h0M625.6 264.0h0M542.2 209.5h0M695.7 249.4h0M458.9 249.8h0M665.7 236.5h0M545.6 205.8h0M554.0 208.5h0M471.3 208.1h0M391.3 211.3h0M581.3 196.5h0M562.0 209.8h0M568.8 227.9h0M501.5 202.5h0M552.8 236.6h0M631.9 211.7h0M568.2 258.3h0M628.3 223.8h0M591.4 205.2h0M542.3 202.8h0M553.0 239.1h0M527.6 223.3h0M593.6 264.4h0M401.9 208.8h0M441.0 217.9h0M436.3 218.7h0M672.1 216.9h0M562.2 254.3h0M512.0 256.4h0M542.1 207.9h0M392.8 228.5h0M633.1 266.2h0M560.9 204.8h0M676.6 240.0h0M563.0 244.3h0M505.4 264.0h0M419.3 236.1h0M587.6 226.3h0M683.3 251.4h0M582.6 213.9h0M614.5 227.0h0M659.3 207.9h0M615.6 224.0h0M537.3 215.2h0M504.1 206.1h0M681.3 235.1h0M382.9 257.6h0M513.8 208.6h0M436.8 243.5h0M539.3 215.6h0M668.4 247.0h0M689.2 212.4h0M669.0 233.2h0M697.4 204.6h0M365.4 205.5h0M372.7 262.0h0M619.3 230.1h0M572.3 236.1h0M374.5 245.7h0M664.2 208.2h0M572.8 242.8h0M526.3 253.5h0M472.1 229.7h0M383.4 219.9h0M521.7 206.7h0M565.2 204.4h0M465.4 246.1h0M359.9 231.2h0M543.4 228.0h0M358.3 238.8h0M417.6 215.0h0M359.8 240.3h0M558.6 211.7h0M619.5 217.3h0M473.7 230.9h0M397.5 208.1h0M456.2 256.1h0M401.2 235.1h0M620.9 237.1h0M663.4 237.1h0M407.9 262.4h0M567.6 263.4h0M515.1 224.2h0M456.8 219.6h0M535.8 223.0h0M590.9 242.0h0M626.1 195.4h0M421.5 205.8h0M666.7 207.5h0M574.7 204.3h0M453.5 221.2h0M452.5 195.5h0M622.5 196.5h0M570.9 265.7h0M392.8 203.5h0M560.1 245.9h0M631.9 227.8h0M371.8 215.8h0M456.3 213.7h0M611.5 200.4h0M661.2 249.6h0M589.5 245.1h0M507.1 254.8h0M596.1 241.3h0M630.1 221.4h0M418.9 232.4h0" stroke="#525252" stroke-width="1.14"/><path d="M669.9 219.8h0M574.9 238.7h0M634.2 253.8h0M686.3 220.4h0M605.8 206.1h0M582.1 219.4h0M697.3 207.9h0M362.1 209.3h0M641.6 258.2h0M623.7 204.6h0M507.3 238.7h0M675.0 259.3h0M489.5 216.9h0M626.4 259.6h0M661.8 205.6h0M531.4 198.3h0M447.4 260.3h0M632.6 199.8h0M676.4 213.3h0M691.2 212.9h0M357.7 247.6h0M691.6 216.3h0M695.9 218.8h0M692.4 233.9h0M364.3 258.5h0M381.6 214.1h0M458.7 210.7h0M404.6 246.9h0M608.9 253.4h0M641.3 236.6h0M547.6 239.8h0M434.4 249.3h0M620.5 239.0h0M580.1 244.6h0M692.4 200.9h0M699.9 222.1h0M662.4 245.4h0M590.7 223.4h0M645.7 202.4h0M636.2 240.0h0M522.1 260.7h0M547.2 222.6h0M700.8 226.7h0M543.9 211.6h0M471.9 200.3h0M481.1 253.2h0M486.2 248.5h0M396.3 230.6h0M578.0 216.0h0M457.3 263.0h0M449.7 216.9h0M518.5 210.9h0M610.8 230.8h0M525.6 208.4h0M390.4 239.5h0M371.3 195.3h0M497.6 245.8h0M608.5 267.0h0M383.0 245.5h0M482.6 261.3h0M633.2 198.2h0M633.0 248.0h0M531.3 222.4h0M520.7 233.7h0M422.0 211.8h0M434.7 214.3h0M466.4 222.8h0M353.9 258.6h0M418.6 265.2h0M677.6 221.0h0M428.4 220.7h0M561.9 241.6h0M630.6 242.5h0M575.8 200.3h0M423.5 194.0h0M554.4 220.4h0M397.8 197.4h0M552.6 261.8h0M403.3 214.5h0M615.8 251.9h0M668.5 239.3h0M395.3 211.8h0M579.3 216.3h0M568.7 229.6h0M615.3 259.5h0M453.0 253.3h0M592.2 246.7h0M527.9 261.3h0M559.3 238.9h0M463.9 196.3h0M590.0 259.5h0M468.0 199.6h0M608.6 248.6h0M458.5 232.1h0M496.8 215.8h0M407.8 194.6h0M373.8 195.5h0M356.6 234.1h0M455.7 261.9h0M382.2 230.9h0M443.4 211.0h0M419.4 222.2h0M652.2 225.8h0M551.7 216.3h0M489.2 236.7h0M569.8 205.5h0M597.3 195.9h0M519.1 203.4h0M473.6 245.5h0M411.9 193.7h0M554.4 205.3h0M680.4 210.6h0M424.4 213.0h0M484.9 258.7h0M474.2 217.6h0M577.1 244.9h0M445.8 249.1h0M563.1 219.3h0M409.9 242.0h0M608.7 225.6h0M648.1 242.8h0M569.7 223.7h0M365.6 233.6h0M602.8 263.6h0M495.8 263.4h0M681.0 232.4h0M576.9 246.6h0M516.0 215.3h0M625.0 228.1h0M439.7 201.1h0M546.4 213.1h0M426.9 224.2h0M471.7 250.9h0M571.0 206.4h0M560.0 266.7h0M381.3 228.4h0M358.5 246.5h0M480.2 248.6h0M488.3 216.6h0M556.8 265.5h0M484.0 244.0h0M464.7 213.3h0M453.2 204.0h0M631.1 208.4h0M529.3 208.5h0M624.9 256.7h0M501.3 263.3h0M441.1 196.4h0M690.0 266.6h0M395.7 229.0h0M678.9 257.4h0M692.3 217.3h0M519.3 239.8h0M468.4 247.8h0M601.9 234.3h0M552.0 215.4h0M573.0 251.6h0M503.4 212.8h0M634.5 218.7h0M428.6 235.7h0M647.2 232.0h0M618.5 206.5h0M566.5 245.7h0M398.9 242.6h0M508.4 195.5h0M359.5 264.8h0M359.1 261.8h0M474.9 200.5h0M395.0 223.5h0M541.7 210.3h0M391.8 219.2h0M381.8 237.0h0M646.0 238.5h0M516.3 216.5h0M609.5 201.6h0M698.3 243.5h0M498.0 242.8h0M446.3 240.0h0M491.3 266.7h0M465.6 255.7h0M527.5 241.3h0M573.0 232.2h0M528.9 207.4h0M557.3 242.8h0M656.9 259.5h0M371.4 211.1h0M367.7 262.1h0M413.0 220.0h0M500.0 260.8h0M471.7 205.1h0M384.7 213.4h0M546.4 228.0h0M484.1 264.1h0M456.2 228.6h0M431.8 226.9h0M557.8 220.7h0M493.6 231.2h0M362.3 246.5h0M595.2 250.7h0M623.3 258.6h0M392.6 260.8h0M572.4 262.9h0M701.3 238.9h0M530.2 243.4h0M502.1 231.3h0M413.3 205.6h0M422.7 216.5h0M398.9 245.7h0M618.3 206.1h0M373.4 214.3h0M361.1 222.7h0M455.9 207.3h0M611.9 217.6h0M578.7 219.8h0M563.0 239.7h0M649.8 228.9h0M374.2 194.2h0M533.0 225.1h0M685.5 229.0h0M443.6 210.3h0M513.2 244.1h0M357.6 237.3h0M513.1 202.5h0M501.3 259.0h0M364.2 260.6h0M378.1 212.6h0M658.7 238.4h0M477.1 235.8h0M479.2 214.3h0M677.3 236.8h0M654.5 241.3h0M436.8 197.8h0M407.1 195.0h0M540.7 236.9h0M570.7 202.6h0M610.2 260.1h0M537.1 219.4h0M506.7 256.9h0M669.5 221.2h0M659.8 230.3h0M426.5 197.4h0M625.0 257.1h0M591.9 252.8h0M365.5 230.8h0M414.9 244.0h0M474.5 209.4h0M608.1 213.7h0M594.9 247.3h0M377.5 252.3h0M534.9 228.7h0M509.4 228.8h0M617.7 204.6h0M480.6 231.9h0M551.8 197.8h0M475.5 222.0h0M638.0 257.8h0M590.5 216.2h0M458.9 203.3h0M581.8 245.8h0M480.2 252.6h0M494.3 247.2h0M652.4 202.8h0M415.3 261.5h0M632.7 232.9h0M403.3 261.2h0M532.8 227.9h0M675.4 203.4h0M644.7 215.2h0M658.2 252.3h0M460.6 212.6h0M405.4 252.4h0M421.6 204.6h0M365.9 219.5h0M663.3 260.8h0M422.7 228.2h0M690.6 218.9h0M385.8 234.2h0M379.0 247.2h0M529.5 220.6h0M451.4 234.5h0M670.0 247.1h0M523.1 251.8h0M593.2 210.5h0M584.5 209.6h0M696.0 196.6h0M363.6 251.6h0M608.9 243.6h0M631.2 250.3h0M615.1 240.4h0M587.5 248.5h0M668.7 248.4h0M614.8 256.0h0M421.5 227.3h0M468.6 204.7h0M460.2 217.0h0M536.7 193.6h0M547.2 226.6h0M685.6 259.2h0M593.9 214.0h0M629.8 219.2h0M409.0 247.9h0M527.6 223.6h0M624.6 216.8h0M474.6 207.3h0M626.9 243.6h0M405.2 243.0h0M394.9 263.8h0M353.5 239.9h0M689.7 232.7h0M428.5 252.0h0M493.2 214.4h0M505.7 208.2h0M622.5 218.8h0M518.8 254.1h0M581.8 262.6h0M623.1 247.0h0M636.2 255.5h0M521.7 240.7h0M486.1 201.3h0M653.6 206.0h0M561.8 198.2h0M489.5 251.6h0M437.1 260.4h0M492.9 262.9h0M417.7 253.0h0M512.1 243.0h0M425.3 245.7h0M367.5 243.9h0M675.4 235.9h0M674.3 217.8h0M663.5 252.1h0M540.2 264.7h0M426.3 197.5h0M688.2 200.4h0M576.5 239.1h0M441.5 222.7h0M643.4 195.9h0M583.5 206.9h0M486.2 241.6h0M479.5 246.8h0M657.4 260.5h0M430.6 207.9h0M619.0 256.4h0M445.4 226.3h0M530.4 229.2h0M516.1 263.2h0M581.9 241.5h0M505.8 203.9h0M458.8 216.7h0M680.8 223.2h0M356.7 263.4h0M587.5 209.2h0M701.9 227.2h0M551.1 250.3h0M448.1 224.2h0M662.3 197.8h0M628.6 212.2h0M453.4 264.8h0M666.6 264.4h0M471.2 249.6h0M515.1 217.5h0M694.4 200.1h0M542.0 223.1h0M396.9 210.0h0M659.7 201.9h0M644.5 240.9h0M598.8 264.7h0M595.7 193.9h0M413.3 259.9h0M471.8 229.8h0M487.0 246.4h0M385.2 236.7h0M400.6 207.8h0M390.0 240.3h0M567.3 260.0h0M454.9 217.5h0M405.2 262.2h0M440.6 242.8h0M383.0 261.5h0M365.4 265.8h0M363.5 260.6h0M599.9 220.3h0M617.6 222.5h0M609.0 203.1h0M490.2 214.5h0M356.7 243.3h0M698.7 247.2h0M485.4 255.4h0M625.8 257.6h0M521.6 224.2h0M558.9 225.4h0M699.1 231.5h0M702.0 234.9h0M424.8 195.3h0M530.9 262.2h0M563.6 210.8h0M622.9 252.7h0M433.5 254.1h0M563.1 260.1h0M614.3 246.0h0M402.0 227.5h0M701.2 218.3h0M517.7 214.0h0M517.3 231.1h0M685.2 239.2h0M579.9 214.6h0M378.8 209.0h0M622.6 204.5h0M500.0 239.9h0M359.9 245.7h0M391.6 205.5h0M421.3 219.9h0M433.7 265.3h0M583.2 231.2h0M652.8 260.9h0M526.0 244.3h0M647.6 220.2h0M469.0 228.9h0M598.8 193.9h0M371.0 266.3h0M475.3 256.3h0M607.3 218.9h0M469.9 205.7h0M443.1 198.1h0M433.4 227.7h0M546.1 223.4h0M485.1 201.9h0M520.4 262.0h0M542.3 257.1h0M591.6 261.8h0M532.5 219.4h0M356.9 208.5h0M669.2 210.1h0M570.3 241.7h0M482.3 220.5h0M542.4 205.6h0M606.7 211.0h0M435.1 249.3h0M469.6 249.9h0M599.3 225.2h0M557.6 230.2h0M534.5 248.7h0M530.9 206.0h0M436.3 228.0h0M396.7 244.1h0M494.5 254.5h0M654.7 240.5h0M392.6 221.6h0M691.3 241.0h0M396.5 219.7h0M568.9 242.1h0M528.5 224.4h0M638.6 229.1h0M608.8 208.9h0M517.4 246.6h0M665.8 196.8h0M453.2 205.0h0M693.0 207.1h0M475.5 198.1h0M697.4 222.4h0M392.2 217.2h0M589.9 239.6h0M424.6 236.2h0M455.0 208.3h0M530.7 202.6h0M513.8 237.7h0M375.9 260.2h0M392.2 215.0h0M430.0 193.9h0M543.2 252.5h0M375.9 206.4h0M442.8 241.0h0M460.2 243.5h0M524.9 234.1h0M380.6 239.6h0M445.9 255.9h0M538.6 257.1h0M635.8 247.5h0M566.4 257.0h0M627.2 227.2h0M612.8 254.8h0M673.5 228.3h0M627.5 208.2h0M521.0 221.3h0M441.1 254.7h0M449.4 200.9h0M408.7 236.8h0M358.1 262.0h0M572.8 237.4h0M634.5 265.8h0M596.1 251.0h0M426.1 197.2h0M513.6 235.9h0M601.5 247.2h0M604.1 231.9h0M630.5 244.3h0M444.1 261.6h0M478.7 238.0h0M501.1 262.7h0M383.3 195.6h0M575.5 253.6h0M387.4 198.3h0M671.8 231.4h0M683.2 256.6h0M399.5 233.9h0M442.9 239.0h0M457.3 252.6h0M436.5 248.3h0M461.6 220.7h0M647.7 242.9h0M383.3 259.3h0M519.6 257.3h0M627.3 200.5h0M544.6 253.4h0M674.0 244.3h0M635.2 211.9h0M520.9 197.0h0M502.8 258.6h0M619.9 211.6h0M694.3 203.1h0M461.9 243.9h0M634.1 238.1h0M399.6 256.9h0M674.0 243.5h0M393.1 222.8h0M626.6 232.7h0M451.0 248.0h0M505.0 226.3h0M490.5 210.6h0M566.3 239.3h0M483.2 254.6h0M383.4 265.6h0M583.5 235.6h0M625.9 259.0h0M683.0 259.9h0M692.8 243.1h0M526.9 235.8h0M526.4 225.6h0M523.4 196.3h0M454.5 244.3h0M574.9 226.2h0M452.0 229.8h0M474.2 247.3h0M430.0 210.5h0M565.0 200.9h0M662.5 196.1h0M474.4 229.3h0M685.8 240.1h0M653.4 202.9h0M690.2 259.2h0M593.3 227.5h0M562.4 201.0h0M417.9 206.7h0M700.2 248.0h0M663.5 231.2h0M384.6 210.6h0M384.7 228.7h0M617.6 215.8h0M694.3 202.3h0M578.9 251.0h0M572.0 198.5h0M365.2 235.2h0M670.0 210.9h0M507.7 202.2h0M585.1 228.4h0M557.8 225.9h0M439.9 262.5h0M508.9 217.3h0M412.1 216.1h0M597.5 209.3h0M557.7 226.3h0M701.5 253.9h0M566.5 219.4h0M463.9 203.4h0M487.0 234.2h0M550.7 238.5h0M358.9 200.8h0M671.8 233.2h0M674.0 201.2h0M605.2 249.1h0M484.3 258.4h0M383.2 223.1h0M522.4 256.0h0M673.8 242.6h0M687.6 209.9h0M561.2 215.7h0M509.4 211.0h0M568.9 235.8h0M640.5 233.7h0M441.6 253.0h0M373.4 213.0h0M557.9 265.8h0M678.2 240.7h0M462.8 228.6h0M630.4 228.3h0M465.6 252.2h0M517.6 228.4h0M565.4 224.8h0M665.8 266.8h0M467.2 210.0h0M528.4 230.0h0M534.6 207.4h0M466.1 209.0h0M446.3 222.3h0M595.0 264.8h0M381.0 248.8h0M424.3 226.8h0M608.1 238.9h0M365.2 202.8h0M569.4 224.6h0M573.4 262.2h0M373.0 215.8h0M579.5 247.6h0M378.0 266.7h0M647.9 205.4h0M592.1 256.6h0M416.7 233.4h0M537.8 242.0h0M378.9 250.2h0M553.1 243.2h0M630.9 207.2h0M654.4 204.6h0M535.8 256.4h0M524.9 263.7h0M581.8 200.1h0M550.0 234.8h0M691.7 249.5h0M409.8 222.9h0M430.9 217.9h0M576.8 237.4h0M469.2 196.2h0M422.9 231.6h0M612.0 233.9h0M396.5 254.7h0M553.0 257.1h0M390.0 213.0h0M439.8 240.5h0M399.1 194.3h0M432.9 212.3h0M400.8 230.9h0M386.5 244.9h0M393.7 209.5h0M687.3 199.3h0M385.1 218.4h0M477.1 264.5h0M697.5 240.6h0M441.8 231.1h0M487.0 253.5h0M667.7 262.6h0M489.8 217.3h0M477.3 212.0h0M589.6 200.2h0M415.8 218.0h0M666.7 245.9h0M464.6 260.3h0M673.6 216.2h0M389.5 200.6h0M521.0 242.5h0M505.7 202.0h0M455.4 253.4h0M376.7 219.9h0M604.1 237.8h0M376.4 263.6h0M463.7 231.4h0M602.9 233.9h0M480.1 198.7h0M685.6 207.6h0M625.4 261.5h0M574.6 217.9h0M403.6 207.1h0M662.2 249.1h0M669.8 210.8h0M688.9 257.9h0M645.4 195.4h0M642.8 209.0h0M406.9 262.3h0M484.0 231.3h0M632.9 210.7h0M677.6 197.6h0M541.2 203.5h0M698.9 242.2h0M656.4 265.9h0M644.3 228.6h0M428.9 245.2h0M664.9 254.3h0M581.2 233.3h0M564.0 232.6h0M383.1 258.5h0M565.7 232.4h0M479.1 228.0h0M520.1 256.8h0M424.6 238.5h0M489.4 224.5h0M453.0 233.8h0M424.6 198.3h0M418.1 267.1h0M460.5 248.4h0M670.3 238.3h0M496.3 199.9h0M444.6 199.1h0M411.2 255.3h0M671.5 234.8h0M412.2 261.1h0M549.9 232.4h0M428.2 202.7h0M377.7 253.9h0M439.1 252.6h0M568.4 231.7h0M685.3 230.1h0M452.1 227.1h0M640.4 212.0h0M549.2 203.5h0M451.0 213.8h0M562.3 255.5h0M561.3 229.8h0M556.9 224.8h0M433.2 228.7h0M487.5 266.5h0M373.6 258.8h0M449.4 231.6h0M512.4 222.4h0M495.8 214.7h0M524.1 215.3h0M372.0 216.9h0M467.0 195.4h0M655.1 240.2h0M568.5 241.0h0M613.6 253.4h0M649.3 246.9h0M452.2 265.1h0M365.5 234.1h0M529.6 249.8h0M559.2 247.3h0M418.1 230.1h0M469.5 222.6h0M652.4 252.3h0M662.0 227.2h0M625.5 222.1h0M584.2 249.2h0M636.0 204.3h0M536.5 252.9h0M631.0 252.0h0M372.8 247.4h0M568.1 194.8h0M414.9 235.4h0M434.3 235.6h0M499.0 232.5h0M536.3 235.1h0M595.4 234.0h0M373.3 238.3h0M594.2 206.9h0M589.7 217.6h0M588.0 258.9h0M437.3 247.7h0M424.6 212.3h0M458.3 227.9h0M369.7 229.4h0M645.6 242.9h0M583.6 263.4h0M613.1 237.5h0M441.3 245.9h0M456.5 246.0h0M603.8 217.2h0M580.0 242.0h0M401.6 263.1h0M546.2 232.1h0M540.6 255.5h0M681.8 204.5h0M475.3 256.2h0M397.4 210.2h0M499.4 240.9h0M661.8 203.9h0M559.3 228.2h0M616.4 245.5h0M677.0 198.3h0M420.4 233.7h0M571.5 265.5h0M560.9 194.3h0M496.4 235.8h0M520.2 209.3h0M458.3 216.9h0M576.1 219.6h0M676.0 244.4h0M667.5 199.7h0M570.1 240.9h0M578.4 243.5h0M490.1 227.3h0M384.2 222.6h0M691.6 263.5h0M432.8 207.5h0M429.1 195.7h0M384.3 197.8h0M363.9 229.6h0M441.6 231.4h0M460.4 219.5h0M612.4 214.5h0M462.3 221.7h0M578.7 252.7h0M571.0 254.1h0M551.3 263.2h0M410.5 227.2h0M404.0 232.4h0M490.9 257.5h0M534.5 249.0h0M630.3 212.5h0M654.5 249.7h0M613.1 263.4h0M633.8 224.2h0M428.1 231.9h0M517.9 262.9h0M657.1 254.7h0M380.4 253.8h0M405.0 235.9h0M515.7 206.3h0M451.9 219.7h0M618.2 213.0h0M479.7 207.1h0M634.6 264.0h0M488.5 217.4h0M590.3 218.8h0M507.3 256.8h0M371.1 257.7h0M356.8 224.8h0M445.7 209.0h0M608.2 201.2h0M535.1 247.3h0M471.6 234.2h0M640.5 235.3h0M560.2 227.9h0M464.8 228.4h0M612.4 215.5h0M612.3 225.6h0M448.6 248.4h0M467.9 194.9h0M613.9 257.8h0M652.9 233.6h0M515.6 246.2h0M608.2 220.2h0M436.5 226.0h0M678.3 253.8h0M696.9 225.7h0M535.4 262.9h0M615.0 216.9h0M563.8 213.2h0M606.1 243.4h0M360.2 211.5h0M460.8 254.2h0M565.4 241.2h0M388.6 257.7h0M524.3 232.7h0M523.5 204.2h0M442.8 228.8h0M481.7 233.4h0M638.4 260.9h0M498.2 203.9h0M674.7 197.9h0M503.7 204.8h0M411.6 240.6h0M452.0 259.9h0M672.9 219.5h0M697.1 221.6h0M568.2 224.1h0M528.6 225.4h0M399.8 231.9h0M562.9 261.6h0M655.8 200.0h0M448.2 250.4h0M452.3 201.5h0M416.2 224.5h0M427.9 255.3h0M617.0 199.8h0M463.6 261.6h0M466.7 238.3h0M385.8 244.8h0M400.9 222.1h0M463.3 244.8h0M570.1 204.3h0M700.8 256.3h0M580.0 254.1h0M546.1 216.0h0M577.9 261.9h0M548.7 200.1h0M619.8 197.8h0M469.4 218.0h0M436.0 212.9h0M360.5 208.7h0M568.8 219.7h0M441.0 244.5h0M683.8 221.8h0M530.9 262.1h0M659.3 216.5h0M678.3 250.9h0M607.8 259.4h0M622.5 225.6h0M641.7 244.5h0M456.7 248.1h0M490.4 245.5h0M471.7 241.4h0M512.7 222.9h0M587.9 227.6h0M426.4 239.4h0M519.1 238.9h0M478.5 227.9h0M390.2 244.2h0M386.6 215.9h0M509.8 265.1h0M514.5 216.6h0M481.1 219.4h0M636.0 243.5h0M354.6 240.6h0M469.8 237.1h0M627.7 210.1h0M401.5 196.8h0M452.0 206.1h0M666.5 262.4h0M354.1 261.5h0M677.4 197.6h0M628.4 247.7h0M616.4 197.4h0M634.2 199.0h0M653.7 195.4h0M454.4 252.5h0M434.6 225.0h0M482.1 212.6h0M394.2 196.7h0M556.8 236.0h0M686.8 199.5h0M695.0 260.2h0M539.2 260.1h0M643.1 233.4h0M523.6 222.7h0M690.1 243.2h0M512.4 230.8h0M469.7 236.0h0M449.8 202.5h0M545.3 239.2h0M610.6 253.0h0M621.0 265.8h0M366.7 264.4h0M646.5 249.2h0M499.4 257.9h0M562.6 265.2h0M489.1 236.1h0M408.7 221.9h0M661.4 245.0h0M373.5 246.1h0M434.2 225.2h0M545.3 250.5h0M532.4 226.3h0M563.8 203.9h0M635.4 249.8h0M369.7 263.4h0M372.1 266.5h0M419.3 220.4h0M563.8 201.3h0M506.9 243.9h0M585.1 250.9h0M419.5 237.0h0M516.1 213.9h0M373.5 196.4h0M483.3 219.0h0M537.9 217.8h0M460.9 266.4h0M669.0 196.4h0M582.4 244.7h0M537.5 216.8h0M663.8 219.6h0M631.3 227.0h0M598.8 238.5h0M626.6 237.1h0M467.7 201.2h0M437.9 250.2h0M602.4 210.2h0M494.8 257.0h0M438.9 249.6h0M516.0 203.0h0M677.5 211.9h0M425.1 207.0h0M687.1 233.7h0M435.5 242.4h0M519.7 225.3h0M535.7 219.1h0M488.5 266.7h0M439.1 210.2h0M424.7 233.1h0M642.0 226.0h0M616.4 248.3h0M566.7 257.8h0M606.4 209.7h0M697.3 220.6h0M487.9 221.3h0M492.2 234.8h0M654.1 261.1h0M617.1 215.1h0M553.2 230.5h0M357.6 241.7h0M612.7 235.3h0M455.3 216.3h0M678.5 207.9h0M457.6 265.5h0M414.7 199.4h0M628.7 198.7h0M532.4 218.4h0M509.0 262.3h0M610.2 200.8h0M364.8 219.4h0M534.7 201.5h0M419.5 230.5h0M529.4 201.0h0M506.5 223.8h0M453.1 227.1h0M573.9 256.3h0M384.4 258.3h0M593.7 255.3h0M635.0 209.3h0M447.5 227.7h0M532.9 248.7h0M530.1 237.5h0M701.9 200.9h0M431.5 209.8h0M530.4 260.1h0M607.0 208.3h0M563.9 234.6h0M621.3 204.8h0M472.9 241.4h0M670.1 250.7h0M430.1 265.0h0M443.3 262.6h0M526.3 214.3h0M563.3 223.9h0M405.2 232.1h0M380.9 195.9h0M678.0 261.2h0M628.2 217.6h0M396.9 228.6h0M614.3 240.5h0M596.3 254.7h0M400.7 246.0h0M619.4 260.8h0M468.2 249.3h0M644.4 225.0h0M450.0 264.0h0M572.5 261.8h0M580.7 219.4h0M647.8 220.6h0M663.5 200.6h0M514.5 250.9h0M542.1 257.0h0M661.1 218.2h0M478.3 212.9h0M435.7 251.1h0M612.2 206.1h0M461.4 200.5h0M363.9 264.5h0M691.2 217.2h0M384.3 240.1h0M427.4 248.5h0M353.3 204.9h0M582.0 230.8h0M541.8 223.0h0M660.9 228.6h0M404.3 228.8h0M480.8 253.6h0M604.3 228.3h0M604.8 206.0h0M481.2 262.6h0M544.3 232.7h0M405.1 229.7h0M378.6 197.7h0M690.4 225.7h0M380.4 236.5h0M556.2 212.3h0M614.1 199.3h0M479.1 226.3h0M408.8 214.8h0M417.2 238.5h0M641.4 197.4h0M673.3 251.0h0M511.2 203.9h0M389.4 198.1h0M531.6 207.3h0M554.5 227.8h0M482.1 254.0h0M523.9 197.6h0M623.3 196.8h0M471.5 239.5h0M649.8 210.2h0M518.6 225.0h0M398.7 221.1h0M419.2 234.8h0M561.2 221.8h0M566.7 231.6h0M456.9 255.7h0M697.4 231.3h0M464.6 195.6h0M375.3 197.1h0M461.7 223.0h0M457.4 197.1h0M608.0 219.1h0M676.7 209.6h0M696.7 210.7h0M643.4 235.7h0M518.6 221.1h0M463.4 265.2h0M685.8 228.6h0M465.6 232.9h0M683.9 243.9h0M640.9 232.4h0M432.1 257.8h0M585.1 237.8h0" stroke="#393939" stroke-width="1.29"/><path d="M698.4 251.8h0M644.2 202.4h0M625.9 248.8h0M382.6 263.2h0M361.9 237.1h0M634.3 204.4h0M536.4 262.3h0M619.4 217.6h0M666.2 242.4h0M466.3 231.8h0M594.5 226.9h0M402.3 258.6h0M429.1 263.7h0M408.8 225.4h0M446.9 203.1h0M494.3 233.1h0M375.6 257.1h0M356.3 266.8h0M538.0 208.8h0M532.1 211.7h0M389.5 253.9h0M581.9 233.8h0M502.9 197.7h0M513.0 205.2h0M477.0 193.7h0M444.7 200.2h0M582.2 246.3h0M619.6 246.6h0M367.6 255.1h0M687.8 221.3h0M582.9 198.5h0M611.0 265.4h0M453.6 199.2h0M526.4 258.1h0M361.0 193.9h0M440.8 198.4h0M603.9 197.2h0M494.4 211.2h0M577.2 199.1h0M662.6 248.8h0M384.7 259.6h0M396.8 224.9h0M489.2 261.8h0M681.5 246.7h0M571.4 232.5h0M356.0 215.8h0M371.6 207.9h0M380.7 210.4h0M684.1 204.4h0M467.4 207.3h0M363.5 242.5h0M645.7 266.1h0M548.5 249.4h0M477.0 254.1h0M465.4 247.9h0M362.9 223.8h0M360.8 210.8h0M602.5 227.9h0M628.5 260.8h0M499.5 266.3h0M412.9 203.4h0M637.2 253.9h0M379.6 195.9h0M577.7 222.4h0M500.5 254.0h0M675.9 201.6h0M576.2 256.6h0M567.3 208.0h0M416.3 209.7h0M585.9 217.5h0M501.2 242.1h0M508.6 239.1h0M644.8 253.3h0M389.7 203.1h0M420.0 265.9h0M574.8 220.1h0M440.4 233.0h0M610.4 220.9h0M404.5 238.9h0M423.7 239.5h0M560.3 236.2h0M402.1 208.3h0M374.6 239.7h0M602.5 194.1h0M612.9 227.8h0M601.2 213.2h0M485.0 256.3h0M659.9 249.2h0M621.3 237.9h0M353.8 229.7h0M595.4 254.3h0M571.9 219.8h0M554.8 202.9h0M356.7 256.5h0M514.3 204.0h0M354.2 211.4h0M597.5 236.8h0M590.0 240.8h0M665.2 211.4h0M533.9 201.0h0M357.0 224.4h0M390.5 215.9h0M700.0 264.3h0M635.4 240.3h0M475.8 240.6h0M696.0 243.6h0M651.0 207.3h0M473.5 204.8h0M521.7 260.2h0M408.4 217.2h0M635.1 200.5h0M626.5 196.5h0M390.2 197.0h0M565.2 242.0h0M426.6 242.7h0M622.9 224.6h0M508.4 194.6h0M428.6 202.5h0M607.5 199.8h0M462.9 263.4h0M479.3 241.1h0M519.1 250.9h0M448.1 256.2h0M473.6 199.9h0M460.5 197.8h0M557.4 194.3h0M661.8 232.0h0M479.2 235.1h0M655.3 221.0h0M385.2 208.7h0M370.1 234.6h0M549.7 240.8h0M645.1 197.1h0M516.9 221.0h0M624.5 264.1h0M646.8 239.8h0M505.8 204.6h0M443.5 201.6h0M402.8 240.7h0M417.3 225.6h0M642.2 259.1h0M646.7 257.2h0M383.9 223.7h0M454.3 201.5h0M443.7 255.2h0M368.1 202.7h0M403.8 235.8h0M409.8 254.4h0M431.1 224.6h0M513.5 233.9h0M469.0 207.5h0M639.5 231.7h0M496.7 201.2h0M620.1 236.7h0M485.0 226.9h0M488.9 234.5h0M579.0 194.1h0M633.1 225.7h0M687.6 208.6h0M368.9 235.2h0M540.6 267.1h0M660.0 264.6h0M639.2 266.5h0M362.5 199.2h0M474.3 226.7h0M359.1 209.8h0M556.1 264.2h0M462.4 259.8h0M458.5 237.9h0M694.8 198.6h0M588.3 236.6h0M460.4 258.0h0M355.0 258.5h0M548.7 202.1h0M408.0 219.6h0M681.7 267.0h0M542.0 213.5h0M431.5 202.9h0M451.0 223.3h0M666.0 195.5h0M614.4 199.9h0M450.6 200.2h0M507.1 218.6h0M592.3 229.4h0M435.5 211.4h0M469.0 253.6h0M561.7 227.5h0M356.1 266.6h0M390.3 229.6h0M366.7 235.3h0M668.8 263.1h0M592.9 205.6h0M605.1 193.8h0M565.3 215.5h0M648.9 210.0h0M537.6 235.2h0M600.3 210.3h0M650.1 243.6h0M690.8 207.7h0M441.3 207.8h0M359.7 266.4h0M546.1 214.9h0M700.1 229.5h0M378.4 239.3h0M647.1 264.8h0M426.2 253.9h0M462.2 218.3h0M469.0 195.1h0M606.5 204.2h0M405.0 208.7h0M697.6 219.9h0M604.5 261.5h0M655.7 195.6h0M382.8 238.7h0M697.7 223.0h0M432.7 239.1h0M580.2 234.0h0M398.4 194.3h0M405.0 239.9h0M574.8 218.9h0M373.3 235.1h0M363.0 195.1h0M451.1 218.0h0M591.1 237.6h0M615.0 227.8h0M383.9 218.6h0M659.5 202.5h0M491.9 217.0h0M486.2 204.7h0M494.2 234.7h0M517.9 241.2h0M530.7 237.2h0M434.3 239.9h0M435.8 206.3h0M464.9 220.2h0M510.6 200.1h0M570.1 232.1h0M441.7 213.1h0M601.5 215.3h0M380.3 226.4h0M390.0 235.1h0M597.4 225.7h0M413.9 198.4h0M586.7 248.1h0M546.0 250.2h0M552.0 194.7h0M383.2 249.0h0M521.1 197.6h0M647.3 203.9h0M546.6 231.2h0M540.0 221.1h0M364.6 209.8h0M454.2 245.9h0M659.4 197.8h0M654.0 198.9h0M626.6 263.6h0M430.6 255.0h0M489.2 196.0h0M454.0 219.2h0M635.2 246.9h0M366.2 236.2h0M468.3 255.6h0M659.7 202.2h0M637.2 218.8h0M681.1 223.9h0M629.1 228.9h0M556.1 252.7h0M584.2 260.1h0M629.6 193.9h0M563.5 263.6h0M498.7 238.1h0M417.8 259.1h0M427.9 239.8h0M430.7 259.1h0M651.9 264.9h0M609.9 243.4h0M459.1 245.8h0M633.8 243.4h0M478.8 217.1h0M445.6 208.6h0M449.8 233.0h0M650.0 202.5h0M615.9 243.5h0M650.2 242.8h0M612.1 254.0h0M659.6 203.3h0M508.6 230.6h0M605.7 236.7h0M488.8 263.9h0M582.3 212.1h0M553.6 225.3h0M610.9 244.5h0M666.7 252.8h0M479.5 258.7h0M600.7 263.2h0M400.7 201.8h0M652.5 218.5h0M682.7 226.0h0M603.0 228.2h0M564.2 202.3h0M623.4 196.9h0M567.7 217.4h0M360.7 254.7h0M534.2 227.1h0M586.6 203.5h0M465.7 200.6h0M409.3 263.3h0M448.2 212.0h0M698.4 206.6h0M581.7 237.6h0M402.0 201.9h0M434.4 195.8h0M522.8 201.7h0M385.1 202.3h0M675.1 260.6h0M549.1 257.6h0M376.1 245.4h0M540.1 210.8h0M375.3 221.1h0M564.4 228.6h0M500.2 199.5h0M631.9 194.3h0M554.1 219.8h0M588.9 251.1h0M409.4 198.4h0M421.7 194.7h0M615.0 255.3h0M461.2 198.9h0M629.9 226.9h0M640.8 228.3h0M429.6 215.0h0M398.2 198.2h0M509.5 256.3h0M621.7 221.0h0M568.7 201.3h0M505.2 199.9h0M409.6 232.7h0M411.4 206.4h0M443.1 248.1h0M632.8 195.6h0M629.8 255.6h0M683.2 228.2h0M421.7 227.6h0M461.1 228.7h0M460.7 240.1h0M581.3 235.4h0M428.9 258.6h0M586.1 204.1h0M656.0 259.7h0M700.8 210.4h0M528.7 207.1h0M646.0 250.2h0M433.8 219.5h0M609.0 218.3h0M366.9 251.3h0M476.3 240.0h0M632.4 205.1h0M567.9 253.0h0M448.8 218.1h0M366.2 230.2h0M478.4 265.7h0M466.1 223.7h0M571.2 241.8h0M551.6 247.2h0M407.7 256.7h0M404.4 249.6h0M669.6 236.8h0M625.8 208.7h0M511.8 257.2h0M443.1 230.9h0M572.9 232.8h0M426.5 224.2h0M634.0 243.8h0M672.3 259.8h0M621.7 217.0h0M375.8 254.7h0M685.8 266.8h0M644.2 236.9h0M378.2 250.9h0M583.8 201.0h0M430.1 223.1h0M420.1 242.9h0M678.9 253.5h0M396.7 198.5h0M398.5 233.6h0M648.4 248.7h0M533.2 211.9h0M544.1 218.8h0M665.4 256.1h0M697.2 211.3h0M437.5 236.8h0M446.4 250.7h0M515.9 194.6h0M624.3 255.6h0M481.3 225.4h0M695.6 206.1h0M584.8 226.5h0M442.7 206.3h0M590.9 243.3h0M453.9 232.9h0M357.8 259.1h0M382.7 254.4h0M656.6 266.4h0M460.0 263.4h0M485.8 233.6h0M513.7 219.2h0M492.6 205.4h0M608.3 242.0h0M407.0 249.9h0M627.3 243.5h0M505.0 243.2h0M418.4 201.0h0M429.7 257.4h0M579.0 221.0h0M440.7 200.0h0M416.1 193.6h0M430.3 211.5h0M392.3 248.8h0M425.4 196.3h0M496.3 262.1h0M430.6 224.4h0M589.0 236.6h0M448.3 254.5h0M380.2 220.8h0M694.4 194.6h0M573.3 255.7h0M638.3 258.0h0M582.3 195.2h0M598.8 239.0h0M665.3 202.3h0M457.2 264.8h0M389.6 261.7h0M691.1 217.3h0M644.0 236.8h0M388.1 252.5h0M635.8 220.4h0M549.3 265.5h0M589.3 214.9h0M603.9 221.1h0M518.6 241.4h0M367.4 207.7h0M493.0 235.5h0M684.2 209.8h0M356.7 257.0h0M619.7 237.1h0M584.0 262.6h0M418.1 218.1h0M636.8 197.9h0M365.3 251.6h0M361.7 255.6h0M652.6 229.7h0M690.1 255.2h0M555.3 194.5h0M586.0 193.8h0M665.3 211.8h0M468.3 233.6h0M632.2 211.1h0M438.7 231.6h0M685.1 204.9h0M409.4 255.5h0M466.4 198.8h0M555.3 202.6h0M386.4 250.0h0M507.1 200.4h0M678.5 194.1h0M657.8 223.7h0M658.9 198.5h0M654.4 240.6h0M680.8 226.7h0M508.3 228.1h0M448.3 233.1h0M501.6 195.1h0M553.9 259.1h0M556.3 226.5h0M436.2 239.7h0M467.5 222.0h0M608.0 196.3h0M526.6 215.6h0M379.9 217.5h0M571.0 214.1h0M696.6 213.3h0M415.7 253.6h0M560.7 241.7h0M356.8 226.3h0M637.5 266.1h0M458.4 249.5h0M472.0 231.0h0M439.8 236.2h0M398.0 243.7h0M419.6 239.7h0M678.3 218.5h0M614.8 196.8h0M652.8 243.4h0M564.2 194.8h0M537.0 213.5h0M494.0 203.6h0M413.5 250.8h0M632.8 203.3h0M402.4 243.7h0M558.2 230.0h0M552.5 203.1h0M548.5 220.2h0M465.4 202.0h0M509.1 254.4h0M392.3 237.3h0M672.3 264.9h0M608.2 198.6h0M387.2 236.9h0M552.7 217.5h0M671.3 243.9h0M493.5 228.6h0M353.1 245.9h0M426.3 254.2h0M655.1 199.4h0M532.0 228.7h0M529.4 205.2h0M537.4 238.2h0M658.3 217.3h0M580.1 261.6h0M594.9 241.9h0M546.0 233.3h0M406.9 232.4h0M458.7 247.5h0M675.5 196.2h0M660.6 244.0h0M688.1 194.1h0M470.4 246.1h0M482.7 266.8h0M507.8 233.3h0M530.5 246.0h0M673.9 251.6h0M650.8 253.7h0M353.1 209.5h0M554.3 262.3h0M435.0 245.7h0M402.5 199.3h0M679.4 218.6h0M586.5 255.6h0M403.5 261.5h0M389.9 210.0h0M556.8 201.9h0M650.6 199.8h0M439.0 244.4h0M375.1 216.1h0M415.3 227.6h0M423.0 256.6h0M360.9 264.4h0M673.3 247.8h0M401.8 196.2h0M461.7 213.3h0M535.6 256.7h0M564.8 244.3h0M413.2 267.0h0M698.0 198.0h0M584.9 230.4h0M620.6 218.4h0M460.5 256.0h0M552.8 223.6h0M509.2 264.4h0M354.4 212.7h0M579.7 199.5h0M512.2 208.7h0M664.0 202.6h0M572.1 239.3h0M507.7 202.1h0M449.6 208.1h0M440.8 223.8h0M389.0 220.8h0M537.5 218.6h0M605.8 266.4h0M632.0 213.0h0M595.7 196.8h0M477.3 195.5h0M667.1 216.3h0M430.2 213.5h0M516.4 257.3h0M477.1 253.5h0M442.5 204.7h0M577.7 239.0h0M462.1 217.4h0M686.1 223.3h0M385.5 248.8h0M540.9 200.8h0M571.3 252.7h0M686.8 211.5h0M415.7 208.0h0M608.3 221.5h0M481.2 225.6h0M370.6 255.5h0M462.1 237.7h0M458.1 241.2h0M675.5 234.4h0M363.4 197.5h0M382.5 195.0h0M382.8 195.9h0M446.2 264.3h0M354.9 198.3h0M627.2 236.4h0M701.8 263.5h0M454.7 202.0h0M523.6 233.7h0M655.7 198.7h0M554.6 206.5h0M572.8 226.0h0M638.7 234.3h0M528.0 201.6h0M504.5 224.4h0M415.8 262.6h0M450.5 242.9h0M512.0 234.6h0M499.8 215.4h0M381.6 199.0h0M502.2 238.3h0M611.0 256.1h0M567.6 239.2h0M400.5 236.4h0M448.4 202.6h0M363.5 199.6h0M368.0 262.8h0M698.2 230.8h0M356.9 264.1h0M395.0 252.0h0M589.7 255.4h0M678.0 215.1h0M363.4 194.6h0M384.6 221.1h0M684.0 231.0h0M509.2 215.8h0M659.0 225.6h0M478.8 242.3h0M578.9 200.1h0M619.8 214.0h0M573.4 211.1h0M602.2 217.8h0M523.0 205.5h0M598.2 264.3h0M586.8 214.9h0M458.7 246.0h0M552.8 247.7h0M673.0 215.4h0M363.8 252.4h0M655.9 212.5h0M432.0 257.2h0M454.7 267.1h0M587.6 198.2h0M660.1 235.7h0M466.4 203.3h0M579.9 215.7h0M614.8 215.4h0M513.2 231.1h0M408.1 239.9h0M595.1 228.5h0M505.7 220.3h0M584.9 229.9h0M666.9 212.0h0M659.9 203.1h0M676.0 241.4h0M673.0 245.5h0M539.1 199.1h0M679.9 234.7h0M563.6 212.5h0M549.6 200.2h0M636.4 247.8h0M356.5 222.8h0M440.8 253.9h0M676.3 228.8h0M549.2 259.7h0M424.1 256.6h0M575.0 218.6h0M415.5 265.8h0M596.6 223.5h0M630.1 229.8h0M693.8 259.4h0M430.9 194.6h0M392.9 240.4h0M634.2 197.3h0M499.6 207.0h0M385.2 203.5h0M360.9 204.8h0M568.5 248.7h0M477.3 250.9h0M691.0 228.5h0M674.3 251.9h0M481.5 232.3h0M490.2 239.0h0M454.1 208.7h0M570.1 199.8h0M540.3 216.5h0M524.1 238.8h0M640.8 226.4h0M482.6 263.3h0M589.3 195.0h0M460.7 203.5h0M557.7 210.0h0M480.0 209.9h0M673.7 263.8h0M587.7 243.1h0M632.8 205.0h0M616.1 205.4h0M525.2 228.6h0M589.9 259.4h0M469.4 250.7h0M485.6 219.5h0M604.5 209.6h0M514.0 265.3h0M633.7 225.2h0M535.8 241.2h0M522.8 222.3h0M681.2 203.5h0M395.8 232.6h0M681.9 207.6h0M545.2 236.3h0M355.4 264.9h0M475.5 211.0h0M454.2 224.8h0M670.4 249.0h0M556.6 231.2h0M472.8 225.5h0M606.8 239.6h0M619.8 244.8h0M554.8 207.5h0M393.4 200.9h0M378.9 261.3h0M648.3 263.7h0M401.4 255.2h0M666.0 256.1h0M451.6 255.0h0M682.3 262.1h0M546.5 202.2h0M581.4 195.3h0M700.4 247.6h0M494.9 237.4h0M681.0 216.0h0M674.8 196.0h0M407.9 194.5h0M646.3 248.6h0M603.3 220.2h0M517.8 254.3h0M421.9 239.8h0M567.6 207.2h0M558.4 232.3h0M698.2 262.1h0M601.7 223.2h0M370.6 199.6h0M558.6 245.2h0M595.2 206.9h0M657.4 225.0h0M616.5 246.2h0M368.9 235.5h0M560.7 221.4h0M491.7 266.3h0M559.7 223.6h0M568.0 264.5h0M419.9 253.5h0M587.2 247.1h0M518.4 198.8h0M417.6 213.4h0M601.4 260.8h0M442.0 246.4h0M459.4 235.4h0M388.8 258.9h0M613.3 256.0h0M355.9 193.9h0M541.6 198.5h0M662.5 250.8h0M637.9 225.6h0M592.0 201.9h0M537.7 219.0h0M489.0 218.9h0M530.3 205.7h0M646.0 244.8h0M467.2 194.7h0M564.6 259.7h0M353.1 203.0h0M644.4 228.1h0M520.0 249.4h0M650.0 240.1h0M475.3 230.1h0M413.9 223.9h0M398.1 230.8h0M597.1 245.0h0M403.0 202.7h0M401.3 213.3h0M511.5 261.3h0M578.7 206.4h0M681.5 214.7h0M605.8 213.8h0M407.9 195.5h0M591.1 212.8h0M435.9 261.8h0M636.2 224.4h0M618.1 203.2h0M499.7 254.8h0M606.4 235.8h0M419.7 216.8h0M466.1 194.7h0M608.1 226.5h0M690.5 256.8h0M614.2 231.4h0M683.5 210.6h0M593.1 207.2h0M692.2 233.9h0M427.3 247.5h0M362.2 245.1h0M566.3 223.6h0M480.5 215.3h0M419.7 210.2h0M431.5 195.6h0M416.8 252.5h0M496.4 202.4h0M473.2 211.7h0M624.2 195.9h0M594.3 199.7h0M447.2 211.8h0M661.9 238.4h0M392.7 257.9h0M641.7 234.1h0M482.4 195.0h0M661.2 224.0h0M404.2 237.4h0M516.8 195.8h0M668.3 194.1h0M673.2 225.5h0M540.7 237.7h0M387.9 245.4h0M516.4 239.1h0M636.9 262.2h0M480.9 233.6h0M590.2 243.3h0M374.6 232.8h0M536.4 234.0h0M479.8 242.5h0M394.0 212.1h0M370.1 223.8h0M387.0 213.3h0M609.6 243.5h0M557.1 242.6h0M701.5 216.1h0M503.5 212.4h0M517.2 243.3h0M470.6 232.3h0M599.6 250.3h0M382.6 214.7h0M415.0 210.9h0M464.7 219.5h0M691.4 266.8h0M529.4 230.5h0M528.5 248.5h0M634.3 210.4h0M493.6 240.0h0M429.7 196.4h0M690.3 196.5h0M620.1 239.0h0M689.8 244.1h0M682.2 248.6h0M449.3 248.3h0M560.7 212.0h0M388.0 255.2h0M580.7 267.1h0M658.0 249.8h0M561.1 222.6h0M697.8 222.0h0M576.2 201.4h0M443.1 200.0h0M467.1 238.8h0M559.3 223.6h0M586.3 264.0h0M521.7 225.8h0M550.5 199.4h0M431.4 246.6h0M449.9 235.2h0M687.1 231.9h0M383.0 230.4h0M584.3 266.4h0M554.0 264.7h0M400.7 215.2h0M583.6 256.8h0M486.8 212.8h0M531.5 258.7h0M692.6 197.7h0M382.4 211.0h0M471.4 253.1h0M657.4 198.3h0M388.8 223.4h0M409.1 235.8h0M438.7 244.2h0M385.5 212.1h0M454.6 233.4h0M523.5 194.7h0M400.4 255.5h0M412.0 213.8h0M375.8 257.4h0M381.8 230.5h0M558.6 203.1h0M403.1 243.2h0M383.0 242.4h0M541.2 230.9h0M671.0 200.3h0M381.2 241.0h0M496.2 207.8h0M546.8 202.1h0M606.1 208.7h0M420.1 249.6h0M474.4 198.9h0M631.8 247.8h0M459.8 195.8h0M362.0 209.3h0M397.4 256.3h0M605.1 214.5h0M588.1 218.1h0M548.6 235.4h0M457.1 229.2h0M431.1 259.2h0M520.6 224.8h0M466.2 239.1h0M415.7 260.6h0M421.0 260.9h0M503.1 205.8h0M363.2 249.5h0M353.1 240.0h0M643.9 259.0h0M458.1 224.3h0M463.6 202.4h0M520.7 260.2h0M523.0 250.8h0M506.5 198.9h0M422.1 231.2h0M517.4 256.0h0M364.2 252.2h0M447.5 200.1h0M687.2 211.1h0M507.1 244.3h0M506.0 231.9h0M458.2 247.3h0M418.5 222.0h0M558.9 204.3h0M585.9 243.2h0M453.0 243.8h0M436.7 256.8h0M563.5 228.7h0M456.5 258.0h0M410.5 236.9h0M497.5 242.0h0M403.2 212.2h0M636.4 211.8h0M599.9 234.5h0M485.8 207.3h0M455.1 224.4h0M554.2 266.6h0M564.2 261.6h0M520.7 194.5h0M405.3 230.4h0M600.5 194.7h0M481.1 259.2h0M384.4 236.7h0M647.0 245.9h0M648.7 211.7h0M681.8 252.5h0M364.4 208.4h0M479.4 221.5h0M424.7 196.4h0M364.6 237.4h0M661.8 246.0h0M697.2 252.2h0M408.3 231.4h0M405.6 198.9h0M579.2 260.4h0M535.9 206.3h0M492.4 224.0h0M529.8 216.8h0M607.7 266.6h0M372.2 201.4h0M433.7 225.4h0M597.4 252.0h0M573.7 265.7h0M356.0 233.7h0M533.3 196.9h0M547.7 240.6h0M535.6 194.5h0M581.2 219.4h0M630.7 260.5h0M509.8 253.3h0M663.9 239.0h0M414.8 248.9h0M508.2 226.1h0M538.1 240.5h0M431.4 210.3h0M696.7 226.0h0M466.3 242.6h0M543.9 267.2h0M537.0 202.3h0M512.7 231.3h0M694.1 223.0h0M546.7 217.6h0M539.4 199.1h0M497.6 220.6h0M571.9 200.0h0M456.8 197.7h0M392.7 250.2h0M420.2 234.3h0M424.2 227.6h0M630.3 225.4h0M405.6 246.3h0M649.6 205.2h0M635.2 212.0h0M619.6 250.1h0M602.2 219.7h0M639.2 257.6h0M501.3 210.3h0M700.1 196.5h0M523.2 213.5h0M537.5 233.0h0M638.6 243.1h0M420.2 223.1h0M446.0 219.3h0M492.5 222.8h0M579.7 231.7h0M408.9 213.3h0M613.2 219.9h0M543.2 209.0h0M697.9 251.2h0M438.7 239.6h0M600.8 237.5h0M622.9 222.9h0M625.6 248.1h0M359.8 236.4h0M485.2 198.2h0M501.1 201.2h0M665.1 195.5h0M657.3 235.8h0M526.0 240.5h0M664.8 239.0h0M457.8 209.5h0M558.5 196.5h0M468.4 221.7h0M655.6 203.1h0M434.7 227.9h0M522.2 227.8h0M423.1 198.6h0M561.0 266.0h0M445.5 229.6h0M616.2 266.9h0M511.6 259.7h0M406.9 201.2h0M457.6 266.2h0M665.1 199.9h0M447.1 203.7h0M631.9 241.1h0M372.4 207.6h0M420.3 251.6h0M484.6 253.8h0M661.6 225.9h0M467.2 207.9h0M368.9 205.5h0M603.7 260.9h0M408.1 212.3h0M679.1 250.2h0M387.8 264.4h0M372.8 210.8h0M696.1 195.9h0M499.3 242.0h0M656.3 199.6h0M423.2 254.1h0M418.0 202.0h0M600.5 244.2h0M368.6 202.9h0M475.7 231.6h0M649.8 260.4h0M536.9 262.8h0M649.0 227.4h0M449.0 216.9h0" stroke="#6b6b6b" stroke-width="0.99"/></g>
<g clip-path="url(#cPI)" stroke-linecap="round" fill="none"><path d="M425.0 241.8h0M525.7 210.6h0M512.1 213.2h0M607.7 205.2h0M401.4 254.6h0M634.4 209.8h0M561.7 201.5h0M668.9 204.7h0M619.8 242.5h0M574.9 222.2h0M605.5 257.6h0M495.8 206.4h0M404.1 222.3h0M657.6 202.0h0M654.6 254.5h0M368.5 224.1h0M675.7 222.2h0M681.3 236.7h0M364.0 231.8h0M475.6 228.5h0M418.9 209.6h0M485.4 255.7h0M457.3 221.4h0M380.4 215.5h0M403.3 232.3h0M385.5 217.1h0M665.4 239.5h0M481.7 241.7h0M528.5 247.4h0M682.0 211.1h0M425.3 233.2h0M649.4 260.6h0M529.5 234.0h0M535.9 236.0h0M597.3 245.7h0M381.0 220.2h0M471.5 226.6h0M430.6 219.2h0M588.9 218.7h0M618.1 236.3h0M607.1 219.2h0M639.3 225.2h0M493.9 235.0h0M587.1 260.6h0M390.1 224.5h0M495.7 233.6h0M373.4 212.8h0M393.7 231.5h0M465.2 235.5h0M567.4 201.7h0M657.4 233.4h0M616.7 217.8h0M481.7 254.4h0M392.3 256.5h0M636.8 241.9h0M382.0 231.9h0M701.5 219.8h0M412.8 214.7h0M491.4 242.5h0M608.9 200.9h0M517.4 228.5h0M549.1 239.7h0M504.5 239.5h0M489.7 241.9h0M473.6 248.6h0M439.6 229.5h0M578.6 218.8h0M551.0 258.0h0M501.2 258.8h0M565.8 217.6h0M385.5 253.1h0M590.8 230.4h0M643.7 203.4h0M461.5 230.4h0M674.7 251.5h0M374.9 205.9h0M693.3 256.1h0M366.0 250.7h0M479.0 226.2h0M579.1 251.6h0M533.2 224.8h0M504.6 239.2h0M583.7 214.8h0M539.3 254.4h0M577.2 252.4h0M431.2 227.2h0M488.1 239.7h0M690.3 241.1h0M372.4 207.8h0M480.9 231.4h0M625.5 234.7h0M579.8 210.2h0M579.3 205.6h0M610.7 214.6h0M688.6 217.3h0M577.4 249.9h0M395.2 252.4h0M409.2 233.3h0M449.0 247.1h0M372.0 237.9h0M699.1 227.0h0M595.9 213.9h0M444.4 245.9h0M401.6 223.8h0M588.9 207.7h0M525.1 242.6h0M698.1 243.2h0M426.4 256.8h0M560.8 229.6h0M451.8 211.7h0M507.7 211.0h0M527.7 238.2h0M450.6 204.8h0M555.6 211.6h0M524.9 209.3h0M373.6 233.4h0M616.9 226.6h0M444.2 260.4h0M449.0 233.5h0M398.5 208.0h0M699.2 256.5h0M529.7 213.5h0M688.7 203.0h0M701.8 208.2h0M530.2 220.0h0M619.7 210.7h0M645.5 210.2h0M508.4 208.1h0M604.8 242.2h0M657.1 235.7h0M394.2 223.1h0M368.4 201.8h0M431.1 259.3h0M590.5 206.1h0M632.7 246.2h0M607.7 256.7h0M437.6 256.1h0M539.2 257.6h0M503.3 227.1h0M472.9 204.4h0M462.7 258.1h0M680.3 217.5h0M677.0 221.0h0M493.7 220.3h0M430.6 219.3h0M513.9 228.2h0M397.3 237.2h0M597.8 237.2h0M596.5 210.4h0M621.3 232.5h0M460.9 248.8h0M489.4 256.5h0M641.9 201.6h0M638.7 231.0h0M501.0 248.6h0M539.0 219.9h0M475.1 255.4h0M374.3 249.1h0M364.8 214.3h0M551.0 215.3h0M419.6 258.2h0M637.2 248.5h0M694.3 220.7h0M549.4 200.8h0M442.9 243.3h0M436.2 242.9h0M465.0 258.8h0M388.2 250.4h0M464.2 215.3h0M432.7 226.3h0M624.5 247.9h0M427.0 239.8h0M462.5 243.8h0M642.7 245.0h0M676.9 221.7h0M477.1 224.9h0M572.1 228.2h0M368.5 234.9h0M558.4 229.0h0M397.6 234.2h0M648.4 226.8h0M373.1 232.8h0M429.3 224.1h0M518.1 213.9h0M628.8 251.6h0M516.9 219.4h0M361.4 240.1h0M665.9 235.7h0M617.4 258.5h0M677.7 257.4h0M644.4 207.7h0M663.7 256.2h0M368.6 211.3h0M490.7 244.6h0M388.0 205.8h0M644.4 201.0h0M484.2 258.2h0M594.0 238.2h0M649.1 227.4h0M500.6 210.4h0M372.9 255.6h0M440.1 237.5h0M590.8 206.2h0M660.3 203.4h0M574.4 202.5h0M614.8 257.1h0M361.4 236.1h0M631.3 215.8h0M590.6 244.5h0M688.8 212.3h0M504.2 230.5h0M408.4 235.9h0M624.1 217.1h0M639.4 210.5h0M666.5 218.1h0M377.2 245.3h0M474.5 249.5h0M435.1 255.7h0M607.4 226.3h0M503.9 217.6h0M544.4 249.7h0M625.3 223.4h0M631.9 200.8h0M469.6 239.6h0M547.9 232.4h0M536.2 215.6h0M697.2 246.9h0M676.2 240.6h0M413.7 258.9h0M580.5 238.6h0M372.2 233.0h0M371.4 210.9h0M363.8 246.3h0M377.0 204.4h0M610.4 243.7h0M517.9 259.7h0M560.8 210.6h0M577.9 259.6h0M439.9 228.4h0M682.9 209.5h0M626.3 212.3h0M400.3 260.2h0M368.6 218.7h0M457.7 247.7h0M568.7 221.0h0M640.9 218.7h0M509.9 250.9h0M587.0 254.2h0M660.0 240.1h0M533.7 240.5h0M394.5 257.2h0M469.1 211.4h0M541.9 232.6h0M657.4 234.0h0M595.5 206.1h0M462.5 207.7h0M450.2 205.5h0M671.2 231.4h0M457.4 219.0h0M483.3 209.9h0M591.7 214.3h0M666.5 224.0h0M464.6 259.2h0M461.6 219.7h0M610.6 224.4h0M517.0 256.0h0M429.0 228.6h0M510.9 208.0h0M392.7 241.6h0M561.5 233.2h0M578.2 250.2h0M381.8 228.1h0M436.7 231.8h0M680.7 250.2h0M693.4 202.6h0M536.0 260.0h0M579.9 216.0h0M392.6 228.4h0M491.0 237.8h0M368.0 240.4h0M393.2 252.8h0M545.5 227.9h0M391.6 250.9h0M422.7 250.0h0M606.5 230.5h0M425.1 214.6h0M403.1 213.8h0M672.6 214.4h0M480.7 241.0h0M622.9 242.4h0M501.9 254.2h0M663.8 241.5h0M431.5 213.5h0M386.5 205.0h0M421.6 228.1h0M663.9 249.7h0M624.4 247.1h0M591.5 245.3h0M503.4 208.4h0M676.7 209.0h0M506.9 252.7h0M700.6 243.1h0M674.4 240.1h0M608.0 210.2h0M450.6 252.1h0M591.8 259.7h0M608.1 236.1h0M589.3 221.8h0M533.8 242.3h0M589.8 200.9h0M697.0 216.3h0M496.1 245.2h0M496.7 250.1h0M562.9 257.2h0M559.5 251.1h0M663.9 206.6h0M411.4 241.1h0M536.6 206.0h0M477.9 204.9h0M483.0 208.7h0M678.1 213.7h0M409.1 254.8h0M687.8 207.6h0M498.5 248.4h0M569.8 240.4h0M635.9 208.8h0M660.9 210.5h0M384.6 212.6h0M557.9 214.5h0M657.7 259.3h0M500.4 222.2h0M433.3 215.8h0M555.5 241.5h0M663.7 208.6h0M528.0 209.6h0M679.4 251.2h0M572.0 251.0h0M481.6 209.5h0M512.3 225.7h0M456.0 219.0h0M515.8 252.2h0M439.9 227.7h0M667.5 258.1h0M500.0 221.3h0M568.5 222.4h0M407.5 257.9h0M361.4 242.1h0M405.6 215.2h0M427.4 253.2h0M422.4 215.7h0M452.1 224.6h0M536.4 222.6h0M387.9 231.3h0M549.1 209.0h0M548.7 254.8h0M420.7 237.7h0M587.0 241.1h0M663.1 206.4h0M408.5 230.6h0M529.6 257.0h0M595.0 243.4h0M665.0 252.5h0M497.5 245.0h0M560.9 215.9h0M399.3 204.5h0M682.0 234.1h0M626.7 203.1h0M598.9 236.2h0M560.6 203.6h0M390.3 205.3h0M633.4 221.7h0M507.2 212.6h0M394.5 235.1h0M610.0 227.7h0M454.9 208.7h0M617.8 207.5h0M633.9 251.4h0M616.6 258.9h0M422.8 231.7h0M560.0 218.7h0M513.2 253.8h0M498.8 217.6h0M628.1 223.1h0" stroke="#8c8c8c" stroke-width="1.60"/><path d="M379.3 218.3h0M525.4 229.6h0M558.5 212.1h0M630.4 242.5h0M561.5 255.9h0M622.1 220.9h0M653.9 200.7h0M632.0 219.0h0M673.0 237.6h0M491.8 244.5h0M370.8 235.1h0M442.6 202.6h0M592.3 226.6h0M397.6 235.0h0M582.3 201.6h0M519.5 244.2h0M391.0 240.7h0M609.0 203.2h0M687.6 218.3h0M550.5 224.2h0M695.1 210.9h0M562.9 216.2h0M513.6 247.2h0M550.4 219.1h0M449.1 257.7h0M609.7 224.0h0M573.4 217.7h0M424.4 233.3h0M565.5 213.1h0M590.1 224.9h0M680.4 228.9h0M561.6 232.3h0M497.3 259.2h0M370.8 213.8h0M407.0 256.5h0M688.6 219.7h0M432.7 211.3h0M629.1 208.8h0M682.3 232.6h0M391.1 205.2h0M543.8 222.8h0M501.7 210.8h0M387.2 244.1h0M492.8 202.9h0M370.7 222.4h0M596.7 258.6h0M617.3 241.8h0M517.3 223.2h0M640.2 211.6h0M389.7 221.5h0M596.7 223.6h0M370.2 242.0h0M397.6 238.6h0M436.0 234.8h0M576.9 227.7h0M662.8 246.3h0M390.7 235.2h0M431.4 205.5h0M486.0 209.9h0M515.9 255.2h0M400.9 235.7h0M403.5 255.9h0M454.3 253.9h0M453.8 217.1h0M390.7 212.5h0M593.5 246.5h0M385.5 247.3h0M481.3 221.5h0M483.8 253.0h0M568.6 220.7h0M428.6 236.2h0M698.0 215.4h0M442.9 249.5h0M623.5 202.5h0M548.3 241.6h0M645.7 223.3h0M594.4 247.3h0M491.3 256.3h0M581.4 221.3h0M405.7 220.1h0M534.2 216.6h0M631.4 227.3h0M683.4 207.2h0M405.9 224.3h0M637.4 244.4h0M572.1 226.2h0M546.7 242.5h0M514.9 242.5h0M530.7 206.2h0M657.3 233.3h0M556.7 217.1h0M549.2 221.8h0M364.8 236.6h0M655.5 247.9h0M626.2 238.9h0M430.3 234.9h0M442.9 221.8h0M516.7 210.6h0M681.9 224.9h0M696.2 206.2h0M400.3 210.5h0M559.1 245.0h0M507.7 208.6h0M444.3 254.8h0M463.9 246.9h0M623.3 228.8h0M361.5 209.9h0M462.7 203.6h0M652.4 239.0h0M445.5 246.0h0M569.1 240.1h0M652.7 211.2h0M680.5 210.0h0M397.3 206.9h0M434.8 253.1h0M663.6 220.3h0M376.4 243.5h0M481.9 231.3h0M472.7 230.1h0M527.0 246.6h0M667.3 201.3h0M423.6 237.6h0M397.4 211.1h0M583.0 243.4h0M479.7 204.5h0M537.5 214.7h0M595.8 211.4h0M499.1 221.0h0M512.0 249.9h0M605.1 236.8h0M642.0 249.0h0M482.6 214.4h0M486.7 231.2h0M593.8 211.6h0M521.7 242.4h0M495.0 242.4h0M631.9 220.1h0M608.9 248.3h0M585.3 213.7h0M616.6 259.0h0M555.0 230.7h0M683.5 220.7h0M580.7 243.0h0M567.1 211.0h0M478.9 213.4h0M645.7 230.4h0M511.9 242.6h0M392.3 241.2h0M444.8 256.6h0M463.9 235.1h0M504.7 230.8h0M512.8 205.4h0M441.6 239.0h0M396.6 214.9h0M526.4 218.2h0M678.1 222.3h0M582.7 200.6h0M693.8 212.7h0M403.8 205.9h0M630.9 223.6h0M510.1 211.3h0M654.2 204.0h0M447.7 250.7h0M414.4 248.4h0M579.9 230.5h0M455.8 219.3h0M634.2 225.6h0M489.7 226.1h0M589.5 209.5h0M689.6 233.9h0M375.4 207.6h0M675.1 236.4h0M685.2 220.7h0M485.0 240.7h0M648.2 218.8h0M675.6 231.7h0M638.6 237.0h0M549.3 230.2h0M683.1 200.9h0M574.5 251.4h0M366.6 226.4h0M649.1 215.1h0M668.1 202.9h0M562.8 225.4h0M659.5 232.7h0M421.5 240.3h0M366.2 241.9h0M668.1 211.8h0M387.5 230.6h0M377.2 230.5h0M644.6 214.0h0M419.2 249.1h0M524.4 234.5h0M402.4 254.8h0M534.3 222.2h0M495.9 238.7h0M376.9 227.0h0M696.7 220.3h0M684.8 223.6h0M553.3 237.6h0M667.8 247.8h0M443.1 206.1h0M390.4 257.8h0M516.4 201.1h0M646.3 230.3h0M401.5 249.3h0M685.8 234.5h0M554.9 221.5h0M701.6 240.6h0M435.3 202.6h0M411.6 235.3h0M471.5 218.5h0M464.8 203.9h0M700.2 210.9h0M540.6 228.0h0M362.3 221.4h0M603.1 214.6h0M437.3 216.5h0M611.0 236.9h0M430.7 245.0h0M508.6 201.2h0M380.7 215.5h0M455.7 244.6h0M545.6 224.9h0M621.7 252.9h0M594.4 222.4h0M657.6 203.4h0M665.7 211.1h0M545.3 256.3h0M418.8 259.8h0M600.8 220.2h0M568.3 240.4h0M685.4 228.7h0M530.0 200.7h0M571.3 215.7h0M576.8 201.0h0M429.3 232.1h0M363.5 231.3h0M567.4 217.8h0M464.4 255.5h0M543.1 244.4h0M503.6 203.1h0M684.4 242.8h0M550.2 219.8h0M480.5 250.3h0M631.1 238.8h0M624.0 217.0h0M388.3 245.0h0M371.0 218.4h0M644.7 230.1h0M513.9 221.6h0M439.7 206.2h0M463.3 245.6h0M396.6 219.3h0M496.6 226.5h0M599.6 213.5h0M387.1 239.6h0M660.8 239.4h0M610.8 230.0h0M579.1 221.2h0M511.5 224.6h0M374.2 218.8h0M433.0 211.9h0M636.5 211.5h0M392.2 202.9h0M542.3 255.9h0M376.2 224.6h0M402.8 205.1h0M548.2 258.0h0M596.8 248.7h0M417.6 253.0h0M492.3 259.2h0M637.7 229.3h0M479.3 227.9h0M396.4 201.7h0M472.2 239.0h0M666.4 240.9h0M502.3 234.7h0M571.5 211.5h0M539.7 245.4h0M683.2 244.2h0M684.7 250.6h0M455.7 254.4h0M682.3 217.3h0M606.8 201.4h0M549.8 232.3h0M377.2 203.0h0M623.1 210.3h0M646.8 255.7h0M370.3 224.8h0M365.0 212.1h0M629.4 253.5h0M528.8 215.1h0M631.0 204.6h0M591.6 260.2h0M371.4 243.3h0M680.8 252.3h0M556.6 211.7h0M665.8 241.0h0M551.6 221.3h0M363.0 222.8h0M507.1 221.6h0M514.3 219.6h0M386.3 218.2h0M469.2 213.8h0M606.7 237.9h0M404.2 223.2h0M517.1 237.6h0M553.5 260.7h0M372.3 212.7h0M612.3 201.1h0M575.6 215.7h0M529.8 222.4h0M633.1 217.3h0M391.2 252.9h0M544.3 240.5h0M600.2 215.6h0M636.1 215.2h0M588.7 204.2h0M577.3 217.3h0M592.5 250.9h0M638.2 260.3h0M540.8 260.7h0M581.9 225.3h0M612.6 215.0h0M635.1 249.6h0M511.8 249.2h0M485.6 230.5h0M605.9 258.5h0M395.2 255.0h0M448.9 227.6h0M589.2 250.8h0M653.1 235.8h0M501.2 211.2h0M662.6 230.2h0M362.6 202.9h0M581.3 240.1h0M675.9 228.3h0M662.0 257.8h0M591.5 207.7h0M690.2 202.8h0M436.7 207.6h0M607.8 225.5h0M642.2 221.1h0M452.4 227.0h0M373.7 209.4h0M361.1 226.1h0M696.9 223.7h0M379.1 259.3h0M560.7 226.9h0M383.7 226.4h0M621.2 255.8h0M473.0 217.3h0M550.7 232.3h0M594.9 210.9h0M463.1 242.3h0M410.3 238.8h0M621.9 242.0h0M609.1 223.3h0M393.7 257.2h0M406.2 225.1h0M483.9 206.1h0M607.8 252.2h0M549.6 209.2h0M464.0 214.5h0M486.4 227.3h0M477.6 259.2h0M473.7 213.8h0M651.2 214.5h0M670.0 244.7h0M583.4 242.8h0M379.3 254.1h0M471.2 234.5h0M691.9 212.8h0M535.2 211.9h0M421.8 234.2h0M637.0 213.3h0M591.9 245.8h0M689.9 208.5h0M675.6 237.8h0M445.2 219.4h0M547.6 214.8h0M387.9 208.7h0M423.0 226.5h0M666.8 217.9h0M557.1 235.9h0M413.9 205.8h0M423.5 254.6h0M507.6 259.6h0M416.6 208.9h0M359.5 228.1h0" stroke="#bcbcbc" stroke-width="1.20"/><path d="M489.4 254.8h0M538.9 230.0h0M509.9 255.8h0M425.8 217.2h0M491.5 253.2h0M611.1 222.3h0M435.8 222.6h0M642.6 243.8h0M563.3 247.0h0M470.5 232.8h0M589.3 243.8h0M420.2 242.3h0M563.7 232.9h0M409.6 219.7h0M625.8 226.6h0M642.0 223.5h0M647.4 258.9h0M438.1 203.1h0M683.0 234.0h0M491.7 204.8h0M391.0 258.3h0M372.1 200.6h0M386.8 257.0h0M448.1 205.8h0M519.3 250.4h0M415.2 223.5h0M611.2 209.9h0M407.3 222.6h0M546.7 242.8h0M362.7 231.4h0M407.5 217.2h0M449.3 255.0h0M599.6 211.8h0M676.7 209.1h0M604.1 205.6h0M603.3 239.8h0M647.9 237.7h0M428.9 252.2h0M559.5 254.2h0M445.4 219.1h0M664.0 235.6h0M695.9 204.9h0M514.1 212.4h0M478.4 224.2h0M583.6 247.3h0M660.0 208.1h0M552.5 252.1h0M691.4 225.2h0M402.7 210.0h0M614.9 247.2h0M700.5 216.9h0M460.5 200.4h0M657.3 233.0h0M577.4 210.8h0M564.2 243.3h0M469.2 214.4h0M456.3 209.7h0M546.1 232.5h0M512.8 219.2h0M437.8 250.4h0M503.5 211.2h0M361.9 236.7h0M433.5 208.2h0M492.2 250.0h0M392.7 250.2h0M487.8 233.3h0M628.6 244.3h0M635.2 245.3h0M411.6 228.0h0M367.8 221.6h0M524.7 246.2h0M547.6 250.2h0M631.1 244.0h0M605.3 235.1h0M497.2 210.9h0M593.8 242.8h0M368.9 252.1h0M668.5 201.7h0M533.2 221.5h0M489.6 238.4h0M376.2 226.7h0M600.7 202.6h0M361.8 230.4h0M670.3 255.5h0M431.8 216.5h0M387.9 226.4h0M496.5 259.2h0M460.4 200.6h0M539.3 211.4h0M588.6 230.8h0M407.1 201.1h0M645.1 204.7h0M547.3 209.3h0M539.7 220.8h0M655.7 246.3h0M605.9 249.6h0M615.4 205.4h0M391.0 215.1h0M469.8 256.3h0M556.3 234.1h0M641.8 230.2h0M522.0 231.6h0M485.3 236.5h0M476.6 216.6h0M669.3 240.9h0M680.4 227.9h0M568.3 208.9h0M443.9 222.1h0M369.4 244.7h0M594.3 211.3h0M398.7 247.1h0M591.4 204.9h0M532.9 241.0h0M502.2 214.0h0M550.9 212.8h0M456.6 203.3h0M602.3 221.7h0M492.6 247.5h0M698.1 214.1h0M477.6 249.0h0M484.3 203.8h0M635.9 258.7h0M565.5 239.0h0M488.4 222.5h0M502.7 259.3h0M665.5 260.8h0M681.9 216.4h0M654.7 257.8h0M570.6 214.4h0M469.7 256.0h0M600.3 214.5h0M533.8 259.1h0M524.9 223.6h0M395.7 202.0h0M613.4 220.0h0M686.8 234.0h0M453.0 226.1h0M452.8 254.7h0M459.6 235.9h0M515.9 228.4h0M515.0 253.7h0M615.2 218.9h0M450.3 237.5h0M501.4 222.4h0M389.9 255.7h0M570.2 242.4h0M435.6 248.0h0M487.4 213.2h0M568.5 250.7h0M400.9 216.9h0M631.2 230.5h0M606.6 200.5h0M621.0 241.6h0M423.9 254.7h0M443.6 246.0h0M420.8 212.3h0M696.2 223.9h0M502.2 226.4h0M370.9 205.4h0M385.5 249.6h0M673.7 220.2h0M507.3 253.6h0M573.0 234.9h0M404.1 228.3h0M537.2 218.8h0M677.0 223.2h0M612.1 230.4h0M418.1 232.5h0M649.5 203.1h0M434.4 208.3h0M556.1 209.2h0M536.3 225.6h0M368.2 219.2h0M678.8 222.5h0M407.1 252.2h0M395.3 254.7h0M681.2 226.8h0M640.2 260.1h0M467.6 205.1h0M515.5 251.3h0M445.5 212.4h0M456.2 220.1h0M397.5 219.5h0M532.3 230.3h0M413.0 257.1h0M581.3 238.3h0M617.3 243.0h0M426.7 251.2h0M614.8 247.2h0M513.3 259.5h0M612.0 243.3h0M570.9 229.2h0M542.4 240.8h0M494.8 236.9h0M661.7 213.5h0M662.7 245.9h0M580.9 208.5h0M577.1 260.1h0M610.3 206.8h0M576.0 231.3h0M695.5 209.8h0M575.3 217.9h0M531.3 206.1h0M499.9 259.0h0M694.0 250.6h0M642.0 234.1h0M367.9 254.7h0M509.6 258.0h0M536.2 235.1h0M564.3 239.6h0M591.4 255.6h0M447.7 232.4h0M558.5 246.2h0M596.5 238.6h0M699.0 243.0h0M620.3 238.5h0M487.2 252.7h0M546.7 246.7h0M676.5 205.1h0M505.7 212.7h0M560.8 213.9h0M616.0 220.5h0M623.6 232.8h0M563.7 213.4h0M374.4 237.9h0M526.7 211.7h0M477.4 254.1h0M519.6 209.5h0M595.9 205.8h0M388.8 228.0h0M650.0 227.8h0M474.1 244.1h0M407.0 202.4h0M693.0 227.1h0M587.4 240.9h0M425.7 230.3h0M485.6 241.2h0M438.8 238.2h0M695.7 253.8h0M496.4 246.8h0M558.8 203.7h0M399.5 218.4h0M689.8 223.7h0M560.1 225.4h0M579.1 216.7h0M372.7 213.9h0M405.8 207.9h0M427.4 243.4h0M629.4 210.4h0M415.6 233.3h0M585.9 216.1h0M506.8 227.3h0M637.1 260.7h0M697.6 254.0h0M437.9 218.0h0M441.2 256.1h0M365.2 256.1h0M371.6 227.6h0M372.2 225.7h0M378.0 216.0h0M617.4 234.1h0M388.7 259.1h0M498.3 246.6h0M510.8 233.8h0M696.4 235.7h0M667.7 206.4h0M548.4 224.3h0M428.6 256.5h0M380.5 249.9h0M441.6 256.6h0M588.5 214.4h0M517.5 207.9h0M442.0 247.3h0M583.2 252.9h0M700.5 258.8h0M583.5 248.9h0M525.8 207.3h0M501.3 222.7h0M580.7 234.7h0M518.1 212.0h0M639.5 211.6h0M610.8 250.7h0M528.0 232.2h0M509.5 246.5h0M504.9 233.4h0M451.5 241.8h0M690.6 219.5h0M530.4 227.5h0M587.3 256.0h0M365.3 227.2h0M446.2 213.0h0M410.0 211.5h0M449.1 249.0h0M657.8 245.5h0M627.2 218.8h0M457.1 203.8h0M562.2 243.3h0M596.5 232.5h0M431.2 211.3h0M691.1 240.2h0M647.6 213.9h0M579.9 247.2h0M598.2 250.1h0M374.1 246.2h0M651.2 214.8h0M491.0 251.3h0M549.2 237.4h0M672.9 256.4h0M678.5 248.4h0M417.7 242.5h0M393.0 227.0h0M701.7 236.3h0M597.7 230.6h0M666.2 203.7h0M550.4 203.3h0M432.2 243.4h0M462.7 210.8h0M427.3 218.3h0M471.1 247.9h0M513.6 211.1h0M688.6 211.7h0M558.6 256.3h0M561.2 260.7h0M429.1 236.4h0M415.7 232.7h0M493.0 202.7h0M543.0 213.4h0M386.9 257.4h0M668.9 239.1h0M446.6 203.1h0M584.8 252.8h0M568.3 250.2h0M656.2 204.3h0M484.3 206.9h0M510.2 239.8h0M624.2 240.4h0M688.6 249.4h0M411.6 225.7h0M414.9 220.8h0M626.3 241.0h0M469.1 204.7h0M535.1 250.8h0M533.4 235.4h0M598.3 227.1h0M697.8 215.0h0M499.4 213.0h0M648.7 246.5h0M623.3 207.3h0M449.1 230.6h0M591.1 234.4h0M578.0 221.2h0M654.6 225.8h0M491.4 203.7h0M416.0 230.6h0M503.4 209.9h0M496.6 259.4h0M496.7 250.3h0M555.5 242.1h0M420.2 202.2h0M418.3 212.2h0M587.1 234.3h0M394.8 228.5h0M613.0 238.4h0M464.3 231.5h0M552.9 247.5h0M421.4 219.0h0M617.8 211.2h0M448.5 210.6h0M635.5 249.7h0M606.1 257.2h0M509.5 236.3h0M385.6 250.3h0M383.5 246.4h0" stroke="#747474" stroke-width="1.00"/><path d="M589.2 256.0h0M536.0 236.1h0M521.9 235.2h0M383.4 240.5h0M696.2 245.5h0M490.0 238.4h0M640.5 220.8h0M533.8 226.3h0M570.7 216.6h0M389.2 240.7h0M485.3 212.8h0M572.2 248.2h0M466.8 219.7h0M501.6 203.1h0M581.5 221.5h0M505.9 220.9h0M646.6 233.6h0M462.1 255.4h0M446.6 258.1h0M562.6 214.7h0M498.9 201.6h0M454.7 233.2h0M474.2 244.7h0M486.3 244.7h0M368.8 253.6h0M695.7 226.1h0M418.9 204.4h0M504.8 207.4h0M475.7 203.3h0M365.5 228.3h0M366.5 205.2h0M479.9 234.4h0M665.8 237.9h0M486.8 252.4h0M412.0 220.4h0M663.0 252.3h0M594.7 204.9h0M675.1 223.7h0M688.4 201.9h0M370.2 200.8h0M516.1 243.8h0M578.8 260.4h0M582.3 240.4h0M529.6 213.0h0M439.1 260.4h0M532.3 258.1h0M543.1 202.6h0M531.0 211.7h0M502.9 212.5h0M667.6 251.7h0M607.6 220.3h0M359.9 207.4h0M379.4 218.0h0M616.2 214.6h0M626.1 243.4h0M535.1 237.8h0M659.4 214.8h0M658.1 229.9h0M529.6 247.7h0M428.2 208.1h0M529.9 251.6h0M544.8 218.5h0M472.1 209.1h0M680.6 215.8h0M660.9 225.0h0M552.0 256.6h0M390.6 236.0h0M673.5 203.6h0M455.0 215.6h0M543.1 200.5h0M526.6 250.0h0M373.0 256.5h0M506.3 218.0h0M406.3 232.6h0M548.5 243.6h0M498.3 257.5h0M581.8 260.6h0M590.9 214.9h0M416.4 244.4h0M426.7 252.6h0M598.8 201.2h0M483.2 244.4h0M578.7 204.8h0M475.1 221.8h0M568.3 258.5h0M414.5 247.3h0M561.9 234.4h0M455.3 202.0h0M535.4 220.8h0M459.9 235.4h0M620.2 229.4h0M491.2 217.3h0M533.9 233.5h0M456.6 259.1h0M698.0 203.6h0M520.9 250.5h0M556.2 238.0h0M428.0 219.8h0M495.2 248.2h0M472.6 248.6h0M592.0 202.5h0M628.4 211.4h0M621.7 253.6h0M595.0 246.2h0M546.6 246.0h0M634.2 208.9h0M637.2 211.9h0M499.4 237.1h0M412.5 200.6h0M610.0 257.0h0M574.7 202.4h0M426.3 213.4h0M552.0 204.0h0M673.1 225.8h0M493.6 257.3h0M607.8 244.8h0M576.6 205.0h0M554.4 219.8h0M491.1 222.0h0M569.1 217.3h0M360.2 227.0h0M516.7 255.3h0M510.7 257.5h0M608.7 204.8h0M494.7 200.7h0M524.3 246.9h0M474.9 248.1h0M608.5 250.2h0M640.4 257.3h0M659.8 224.2h0M542.5 244.0h0M552.1 249.3h0M692.4 250.8h0M469.5 239.4h0M589.8 216.2h0M683.9 222.6h0M577.4 246.6h0M483.7 247.2h0M531.9 250.7h0M690.3 211.5h0M638.7 221.4h0M626.3 241.0h0M661.9 217.7h0M695.0 201.0h0M602.6 213.8h0M524.7 206.8h0M661.5 236.6h0M531.1 229.6h0M532.4 257.8h0M380.7 241.4h0M625.8 223.5h0M666.5 216.8h0M463.6 228.7h0M395.3 238.0h0M584.6 220.9h0M695.0 251.3h0M402.0 220.9h0M510.2 223.0h0M398.9 240.6h0M421.1 226.1h0M564.5 210.7h0M359.9 260.5h0M502.1 234.6h0M614.2 208.5h0M450.6 228.0h0M631.4 242.4h0M366.7 204.2h0M580.1 253.4h0M580.6 232.0h0M463.0 210.2h0M578.0 209.5h0M560.5 245.8h0M585.4 225.0h0M440.7 223.8h0M550.0 206.9h0M678.8 218.6h0M560.3 213.2h0M550.2 256.1h0M405.2 212.1h0M464.6 204.6h0M567.7 251.5h0M560.7 211.8h0M561.6 241.7h0M572.0 252.8h0M580.8 222.2h0M619.2 202.0h0M683.3 233.7h0M533.7 222.6h0M620.6 242.5h0M500.9 248.9h0M589.2 241.2h0M546.2 231.3h0M586.8 239.6h0M469.0 222.4h0M440.6 225.2h0M488.6 251.9h0M425.9 238.5h0M419.3 208.7h0M647.8 247.1h0M505.7 229.8h0M466.3 251.9h0M645.9 231.6h0M502.3 208.8h0M441.4 229.9h0M671.9 224.4h0M548.0 240.7h0M395.9 225.4h0M438.0 250.5h0M609.4 259.7h0M426.4 222.8h0M644.0 258.6h0M479.9 220.5h0M527.8 237.4h0M454.6 208.8h0M483.2 233.2h0M597.5 207.6h0M441.0 250.2h0M662.5 229.2h0M407.2 240.5h0M624.2 220.3h0M372.6 217.8h0M371.0 210.6h0M556.6 247.9h0M519.1 258.3h0M555.5 217.6h0M555.8 200.9h0M600.2 252.5h0M496.3 258.0h0M647.1 254.5h0M689.0 235.7h0M622.0 242.8h0M438.4 242.9h0M385.2 245.2h0M532.8 252.5h0M675.7 259.8h0M630.0 216.6h0M620.3 235.9h0M679.5 248.4h0M661.1 202.1h0M495.3 208.6h0M632.4 241.6h0M702.0 244.0h0M555.8 238.9h0M449.1 232.7h0M469.5 218.2h0M489.8 221.5h0M672.7 221.4h0M646.8 229.3h0M654.5 217.2h0M379.7 222.3h0M371.3 250.4h0M532.9 255.3h0M539.2 249.7h0M474.5 227.5h0M434.3 257.2h0M647.8 210.0h0M676.7 204.2h0M595.7 230.1h0M615.7 243.1h0M439.8 231.6h0M374.2 240.4h0M446.7 259.0h0M636.9 201.6h0M655.9 228.2h0M374.4 233.7h0M492.6 207.7h0M610.9 232.2h0M542.2 222.4h0M488.5 246.6h0M695.5 210.8h0M476.9 245.0h0M609.3 221.4h0M389.9 201.1h0M591.4 248.7h0M595.0 241.9h0M375.9 252.8h0M662.6 206.8h0M517.2 207.8h0M426.3 224.1h0M383.4 247.4h0M675.6 245.5h0M480.2 204.9h0M560.6 240.5h0M495.5 253.8h0M487.7 221.5h0M658.9 235.5h0M550.7 208.9h0M688.5 225.7h0M546.3 232.8h0M676.2 237.9h0M590.1 260.1h0M499.8 222.0h0M417.6 221.4h0M652.6 221.0h0M558.0 256.4h0M510.8 207.5h0M512.5 203.2h0M386.4 211.1h0M501.3 240.0h0M416.0 226.7h0M393.8 244.4h0M667.4 209.5h0M647.9 218.9h0M433.4 212.1h0M593.9 214.5h0M583.5 218.9h0M659.6 220.9h0M538.1 228.6h0M552.2 239.1h0M436.4 248.0h0M493.0 217.4h0M510.9 203.6h0M490.0 203.3h0M506.5 257.4h0M457.3 216.9h0M494.3 258.8h0M414.9 216.4h0M620.4 225.4h0M464.6 201.0h0M445.5 201.9h0M543.4 242.8h0M566.9 243.3h0M690.9 217.8h0M520.7 247.7h0M541.4 233.3h0M482.9 256.4h0M594.7 231.6h0M654.8 240.3h0M698.2 212.3h0M456.7 226.7h0M363.5 256.7h0M426.9 206.7h0M556.3 217.0h0M622.7 219.4h0M463.7 247.8h0M652.5 220.7h0M530.5 252.6h0M437.2 231.8h0M602.0 255.8h0M628.9 225.2h0M542.5 260.7h0M569.3 243.1h0M622.0 208.8h0M438.0 232.0h0M491.6 236.3h0M674.1 242.5h0M537.6 233.2h0M399.5 214.2h0M634.7 228.8h0M438.7 230.2h0M455.3 232.8h0M656.5 246.1h0M599.0 207.1h0M607.0 207.6h0M496.8 210.0h0M420.5 229.6h0M573.8 200.6h0M661.0 228.9h0M577.6 259.9h0M457.0 212.8h0M655.6 209.2h0M407.3 204.3h0M508.2 203.2h0M427.8 215.1h0M438.4 236.4h0M571.7 222.2h0M554.5 242.8h0M557.9 238.3h0M465.0 240.1h0M526.2 236.5h0M487.3 204.9h0M630.8 209.9h0M535.8 205.6h0M657.1 213.3h0M545.3 249.8h0M398.4 239.8h0M554.8 232.4h0M533.5 240.0h0M456.9 203.6h0M465.6 224.2h0M370.3 237.4h0M482.8 239.6h0M584.2 247.1h0M670.9 256.1h0M603.6 255.2h0M694.9 249.2h0M566.1 211.5h0M503.2 205.4h0M527.7 229.6h0M522.7 225.1h0M460.8 215.4h0M581.6 208.4h0M566.8 243.6h0M420.4 244.5h0M616.2 250.9h0M684.4 246.4h0M638.2 231.7h0M501.2 217.1h0M431.1 235.3h0M376.2 232.0h0M646.0 249.9h0M693.6 257.6h0M588.7 257.2h0" stroke="#a4a4a4" stroke-width="1.40"/></g>
<rect x="380.0" y="107.0" width="54.0" height="93.4" fill="#fff"/>
<g clip-path="url(#cTube)" stroke-linecap="round" fill="none"><path d="M421.2 171.4h0M409.7 141.3h0M389.4 115.4h0M416.7 173.3h0M394.0 111.7h0M418.2 187.8h0M410.2 162.7h0M391.8 158.8h0M401.3 143.5h0M427.2 190.8h0M419.1 172.3h0M406.4 155.6h0M410.4 151.9h0M413.5 134.1h0M418.1 111.7h0M390.5 178.2h0M392.4 192.1h0M400.9 164.4h0M405.7 134.0h0M392.6 164.5h0M389.1 173.6h0M387.1 145.7h0M423.0 198.7h0M392.0 148.2h0M423.8 149.3h0M386.6 167.3h0M417.2 109.9h0M399.8 186.1h0M397.0 119.0h0M413.1 134.6h0M406.5 170.9h0M389.4 127.1h0M399.9 185.0h0M386.2 199.2h0M422.2 153.1h0M409.6 152.5h0M409.2 149.2h0M386.4 148.2h0M426.8 131.9h0M420.2 162.9h0M394.4 197.5h0M398.2 159.0h0M408.6 133.5h0M411.5 134.1h0M419.0 164.0h0M402.6 134.3h0M425.2 148.5h0M398.4 173.5h0M423.0 111.7h0M410.6 199.6h0M389.1 188.8h0M414.0 184.4h0M411.8 159.6h0M392.3 122.9h0M405.0 195.3h0M406.3 125.5h0M416.1 177.4h0M423.6 131.1h0M422.4 157.5h0M390.7 196.7h0M399.8 155.2h0M427.1 124.1h0M421.9 137.3h0M424.0 149.0h0M411.3 137.1h0M390.8 195.4h0M396.0 174.1h0M408.0 148.1h0M397.9 116.9h0M391.1 163.6h0M398.3 110.6h0M418.9 180.4h0" stroke="#a4a4a4" stroke-width="1.40"/><path d="M391.5 147.1h0M406.8 135.5h0M406.4 177.6h0M409.0 199.4h0M408.8 144.9h0M396.8 179.3h0M411.1 145.2h0M398.3 178.5h0M401.0 159.1h0M424.7 179.8h0M396.2 134.2h0M404.8 160.9h0M398.7 146.5h0M400.0 166.5h0M400.9 145.9h0M399.4 108.9h0M418.5 156.5h0M393.1 189.0h0M408.4 109.7h0M408.9 117.0h0M395.8 193.1h0M395.0 142.0h0M412.4 190.5h0M391.3 173.2h0M418.2 124.3h0M403.7 162.5h0M408.2 123.6h0M417.1 182.7h0M416.1 157.0h0M388.2 164.2h0M401.9 183.4h0M395.5 130.3h0M401.8 115.3h0M400.3 176.6h0M414.8 162.3h0M417.0 140.5h0M412.6 150.3h0M397.2 159.1h0M392.5 135.0h0M407.5 176.1h0M397.6 175.2h0M422.4 143.1h0M418.0 181.4h0M391.6 175.0h0M411.4 154.9h0M386.7 113.4h0M411.2 169.0h0M403.7 165.8h0M422.4 190.5h0M388.7 181.1h0M424.3 153.4h0M406.9 197.4h0M408.5 169.9h0M398.9 196.3h0M397.4 124.8h0M427.4 137.0h0M412.1 176.5h0M422.6 136.8h0M413.3 123.6h0M412.0 163.6h0M427.4 192.5h0M387.7 170.6h0M392.5 135.6h0M405.4 159.0h0M407.4 161.9h0M389.4 117.9h0M392.7 110.5h0M401.9 178.5h0M425.2 167.7h0M387.5 133.0h0M386.4 170.8h0M413.2 151.6h0M425.8 175.3h0M421.7 135.8h0M391.5 140.3h0M400.1 113.9h0M419.3 155.7h0M426.1 195.3h0M401.3 198.7h0M416.3 151.8h0M414.8 158.7h0M420.3 162.3h0M406.4 109.2h0M400.1 140.2h0M394.4 168.8h0M389.2 140.0h0M393.8 176.4h0M390.4 110.4h0M401.3 194.2h0M414.4 144.0h0M414.0 170.5h0M413.5 176.7h0M414.9 189.0h0M410.4 135.8h0M406.4 176.9h0" stroke="#747474" stroke-width="1.00"/><path d="M389.8 123.2h0M390.6 126.1h0M420.8 137.9h0M416.3 193.1h0M426.9 159.8h0M398.9 128.2h0M420.8 107.5h0M427.5 169.6h0M387.2 151.8h0M413.7 181.4h0M421.8 174.4h0M400.7 151.0h0M408.1 134.9h0M424.9 153.8h0M394.8 145.3h0M425.3 184.1h0M399.8 170.5h0M415.7 115.5h0M402.1 190.3h0M400.0 174.8h0M399.1 124.9h0M414.4 192.3h0M411.1 117.5h0M426.3 193.5h0M389.8 178.3h0M425.6 164.8h0M420.0 165.3h0M404.0 166.7h0M419.6 137.5h0M417.4 147.1h0M414.1 191.4h0M412.3 129.0h0M411.2 130.0h0M387.5 180.7h0M418.4 144.7h0M401.6 180.0h0M402.5 188.4h0M393.3 174.6h0M426.8 177.6h0M386.8 165.7h0M394.2 181.1h0M386.7 178.0h0M414.6 200.0h0M404.3 199.7h0M421.7 140.8h0M424.2 177.0h0M401.0 195.6h0M416.4 149.3h0M415.0 188.7h0M402.8 138.6h0M397.5 115.1h0M408.9 188.8h0M411.1 143.6h0M424.1 178.9h0M412.6 198.7h0M415.2 146.2h0M427.1 156.7h0M400.2 120.8h0M398.0 111.1h0M395.4 170.1h0M391.5 186.0h0M405.6 179.6h0M398.4 170.8h0M426.9 122.8h0M421.6 120.2h0M418.8 161.4h0M400.2 186.2h0M391.5 131.7h0M408.5 114.8h0M412.3 193.4h0M390.1 136.9h0M387.6 114.3h0M415.9 137.1h0M418.0 151.0h0M395.6 123.5h0M401.5 160.2h0" stroke="#8c8c8c" stroke-width="1.60"/><path d="M415.1 172.4h0M398.1 120.8h0M420.9 174.4h0M410.0 121.8h0M391.8 199.0h0M392.0 133.2h0M420.8 197.1h0M418.6 134.1h0M391.6 179.3h0M388.7 125.2h0M427.2 114.3h0M391.0 116.9h0M392.4 176.2h0M408.9 118.3h0M422.6 127.7h0M416.0 152.8h0M395.7 154.8h0M417.9 131.0h0M408.0 136.0h0M395.6 168.8h0M393.2 158.9h0M410.3 149.0h0M426.9 179.3h0M386.5 107.2h0M423.2 144.3h0M402.4 139.2h0M417.2 155.5h0M420.6 181.2h0M417.8 170.8h0M425.8 185.1h0M405.1 196.8h0M423.6 144.1h0M420.5 131.3h0M387.2 192.5h0M392.2 163.8h0M411.4 177.1h0M411.3 162.6h0M421.1 157.0h0M395.3 128.7h0M421.9 165.8h0M386.7 198.0h0M408.5 143.0h0M422.3 161.1h0M404.8 189.6h0M412.7 186.4h0M420.9 109.3h0M420.8 116.3h0M411.0 187.4h0M406.1 133.9h0M393.3 140.2h0M418.9 147.0h0M397.8 165.8h0M413.1 109.1h0M388.6 143.7h0M416.0 155.5h0M414.9 154.0h0M402.1 170.9h0M426.1 145.7h0M393.2 191.2h0M414.8 149.9h0M390.9 185.8h0M417.8 159.8h0M391.6 167.9h0M399.2 195.2h0M414.9 197.5h0M421.6 141.0h0M395.3 191.8h0" stroke="#bcbcbc" stroke-width="1.20"/></g>
<defs>
<clipPath id="cSl"><path d="M196.5,118.2 L196.5,111 Q196.6,110.2 197.6,109.6 L207.3,100.4 Q209.2,98.6 212.5,98.6 L342,98.6 Q346.8,98.7 349.8,101.2 L365.0,116.6 Q365.9,117.5 366.6,118.2 Z"/><path d="M196.5,343.1 L196.5,350.3 Q196.6,351.9 197.9,353 L207.4,360.4 Q210.6,363.2 214.5,363.2 L343,363.2 Q347.3,363.1 349.6,359.7 L365.7,343.1 Z"/><rect x="220.0" y="118.2" width="16.4" height="224.9"/><rect x="318.0" y="118.2" width="17.3" height="224.9"/></clipPath>
<clipPath id="cBore"><rect x="236.4" y="90.0" width="81.6" height="280.0"/></clipPath>
</defs>
<g clip-path="url(#cSl)">
<g stroke="#585858" stroke-width="1.00" fill="none"><line x1="190.00" y1="98.77" x2="194.03" y2="95.00"/><line x1="190.00" y1="102.65" x2="198.19" y2="95.00"/><line x1="190.00" y1="106.54" x2="202.34" y2="95.00"/><line x1="190.00" y1="110.42" x2="206.49" y2="95.00"/><line x1="190.00" y1="114.30" x2="210.64" y2="95.00"/><line x1="190.00" y1="118.18" x2="214.79" y2="95.00"/><line x1="190.00" y1="122.06" x2="218.95" y2="95.00"/><line x1="190.00" y1="125.95" x2="223.10" y2="95.00"/><line x1="190.00" y1="129.83" x2="227.25" y2="95.00"/><line x1="190.00" y1="133.71" x2="231.40" y2="95.00"/><line x1="190.00" y1="137.59" x2="235.55" y2="95.00"/><line x1="190.00" y1="141.48" x2="239.71" y2="95.00"/><line x1="190.00" y1="145.36" x2="243.86" y2="95.00"/><line x1="190.00" y1="149.24" x2="248.01" y2="95.00"/><line x1="190.00" y1="153.12" x2="252.16" y2="95.00"/><line x1="190.00" y1="157.00" x2="256.31" y2="95.00"/><line x1="190.00" y1="160.89" x2="260.47" y2="95.00"/><line x1="190.00" y1="164.77" x2="264.62" y2="95.00"/><line x1="190.00" y1="168.65" x2="268.77" y2="95.00"/><line x1="190.00" y1="172.53" x2="272.92" y2="95.00"/><line x1="190.00" y1="176.42" x2="277.07" y2="95.00"/><line x1="190.00" y1="180.30" x2="281.23" y2="95.00"/><line x1="190.00" y1="184.18" x2="285.38" y2="95.00"/><line x1="190.00" y1="188.06" x2="289.53" y2="95.00"/><line x1="190.00" y1="191.94" x2="293.68" y2="95.00"/><line x1="190.00" y1="195.83" x2="297.83" y2="95.00"/><line x1="190.00" y1="199.71" x2="301.99" y2="95.00"/><line x1="190.00" y1="203.59" x2="306.14" y2="95.00"/><line x1="190.00" y1="207.47" x2="310.29" y2="95.00"/><line x1="190.00" y1="211.35" x2="314.44" y2="95.00"/><line x1="190.00" y1="215.24" x2="318.59" y2="95.00"/><line x1="190.00" y1="219.12" x2="322.75" y2="95.00"/><line x1="190.00" y1="223.00" x2="326.90" y2="95.00"/><line x1="190.00" y1="226.88" x2="331.05" y2="95.00"/><line x1="190.00" y1="230.77" x2="335.20" y2="95.00"/><line x1="190.00" y1="234.65" x2="339.35" y2="95.00"/><line x1="190.00" y1="238.53" x2="343.51" y2="95.00"/><line x1="190.00" y1="242.41" x2="347.66" y2="95.00"/><line x1="190.00" y1="246.29" x2="351.81" y2="95.00"/><line x1="190.00" y1="250.18" x2="355.96" y2="95.00"/><line x1="190.00" y1="254.06" x2="360.11" y2="95.00"/><line x1="190.00" y1="257.94" x2="364.27" y2="95.00"/><line x1="190.00" y1="261.82" x2="368.42" y2="95.00"/><line x1="190.00" y1="265.71" x2="370.00" y2="97.40"/><line x1="190.00" y1="269.59" x2="370.00" y2="101.28"/><line x1="190.00" y1="273.47" x2="370.00" y2="105.17"/><line x1="190.00" y1="277.35" x2="370.00" y2="109.05"/><line x1="190.00" y1="281.23" x2="370.00" y2="112.93"/><line x1="190.00" y1="285.12" x2="370.00" y2="116.81"/><line x1="190.00" y1="289.00" x2="370.00" y2="120.70"/><line x1="190.00" y1="292.88" x2="370.00" y2="124.58"/><line x1="190.00" y1="296.76" x2="370.00" y2="128.46"/><line x1="190.00" y1="300.65" x2="370.00" y2="132.34"/><line x1="190.00" y1="304.53" x2="370.00" y2="136.22"/><line x1="190.00" y1="308.41" x2="370.00" y2="140.11"/><line x1="190.00" y1="312.29" x2="370.00" y2="143.99"/><line x1="190.00" y1="316.17" x2="370.00" y2="147.87"/><line x1="190.00" y1="320.06" x2="370.00" y2="151.75"/><line x1="190.00" y1="323.94" x2="370.00" y2="155.64"/><line x1="190.00" y1="327.82" x2="370.00" y2="159.52"/><line x1="190.00" y1="331.70" x2="370.00" y2="163.40"/><line x1="190.00" y1="335.58" x2="370.00" y2="167.28"/><line x1="190.00" y1="339.47" x2="370.00" y2="171.16"/><line x1="190.00" y1="343.35" x2="370.00" y2="175.05"/><line x1="190.00" y1="347.23" x2="370.00" y2="178.93"/><line x1="190.00" y1="351.11" x2="370.00" y2="182.81"/><line x1="190.00" y1="355.00" x2="370.00" y2="186.69"/><line x1="190.00" y1="358.88" x2="370.00" y2="190.58"/><line x1="190.00" y1="362.76" x2="370.00" y2="194.46"/><line x1="190.69" y1="366.00" x2="370.00" y2="198.34"/><line x1="194.84" y1="366.00" x2="370.00" y2="202.22"/><line x1="198.99" y1="366.00" x2="370.00" y2="206.10"/><line x1="203.14" y1="366.00" x2="370.00" y2="209.99"/><line x1="207.30" y1="366.00" x2="370.00" y2="213.87"/><line x1="211.45" y1="366.00" x2="370.00" y2="217.75"/><line x1="215.60" y1="366.00" x2="370.00" y2="221.63"/><line x1="219.75" y1="366.00" x2="370.00" y2="225.51"/><line x1="223.90" y1="366.00" x2="370.00" y2="229.40"/><line x1="228.06" y1="366.00" x2="370.00" y2="233.28"/><line x1="232.21" y1="366.00" x2="370.00" y2="237.16"/><line x1="236.36" y1="366.00" x2="370.00" y2="241.04"/><line x1="240.51" y1="366.00" x2="370.00" y2="244.93"/><line x1="244.66" y1="366.00" x2="370.00" y2="248.81"/><line x1="248.81" y1="366.00" x2="370.00" y2="252.69"/><line x1="252.97" y1="366.00" x2="370.00" y2="256.57"/><line x1="257.12" y1="366.00" x2="370.00" y2="260.45"/><line x1="261.27" y1="366.00" x2="370.00" y2="264.34"/><line x1="265.42" y1="366.00" x2="370.00" y2="268.22"/><line x1="269.57" y1="366.00" x2="370.00" y2="272.10"/><line x1="273.73" y1="366.00" x2="370.00" y2="275.98"/><line x1="277.88" y1="366.00" x2="370.00" y2="279.87"/><line x1="282.03" y1="366.00" x2="370.00" y2="283.75"/><line x1="286.18" y1="366.00" x2="370.00" y2="287.63"/><line x1="290.33" y1="366.00" x2="370.00" y2="291.51"/><line x1="294.49" y1="366.00" x2="370.00" y2="295.39"/><line x1="298.64" y1="366.00" x2="370.00" y2="299.28"/><line x1="302.79" y1="366.00" x2="370.00" y2="303.16"/><line x1="306.94" y1="366.00" x2="370.00" y2="307.04"/><line x1="311.09" y1="366.00" x2="370.00" y2="310.92"/><line x1="315.25" y1="366.00" x2="370.00" y2="314.81"/><line x1="319.40" y1="366.00" x2="370.00" y2="318.69"/><line x1="323.55" y1="366.00" x2="370.00" y2="322.57"/><line x1="327.70" y1="366.00" x2="370.00" y2="326.45"/><line x1="331.85" y1="366.00" x2="370.00" y2="330.33"/><line x1="336.01" y1="366.00" x2="370.00" y2="334.22"/><line x1="340.16" y1="366.00" x2="370.00" y2="338.10"/><line x1="344.31" y1="366.00" x2="370.00" y2="341.98"/><line x1="348.46" y1="366.00" x2="370.00" y2="345.86"/><line x1="352.62" y1="366.00" x2="370.00" y2="349.74"/><line x1="356.77" y1="366.00" x2="370.00" y2="353.63"/><line x1="360.92" y1="366.00" x2="370.00" y2="357.51"/><line x1="365.07" y1="366.00" x2="370.00" y2="361.39"/><line x1="369.22" y1="366.00" x2="370.00" y2="365.27"/></g>
</g>
<rect x="236.4" y="98.6" width="81.6" height="264.6" fill="#fff"/>
<rect x="151.5" y="119.2" width="21.2" height="222.9" fill="#fff"/>
<path d="M146.2,118.2 L176.2,118.2 L172.9,121.3 L151.2,121.3 Z" fill="#fff"/>
<path d="M146,343.1 L176.6,343.1 L173,340.4 L148.6,340.4 Z" fill="#fff"/>
<g stroke="#444444" stroke-width="1.3" fill="none" stroke-linecap="butt">
<path d="M196.5,110.7 L115.5,110.7 A9.5,9.5 0 0 0 106,120.2 L106,341.2 A9.5,9.5 0 0 0 115.5,350.7 L196.8,350.7"/>
<path d="M196.5,118.2 L120,118.2 Q117.5,118.2 117.5,121 L117.5,340.5 Q117.5,343.1 120,343.1 L196.8,343.1"/>
<path d="M117.5,132.4 L151.5,132.4 M172.7,132.4 L220.0,132.4"/>
<path d="M117.5,166.3 L151.5,166.3 M172.7,166.3 L220.0,166.3"/>
<path d="M117.5,193.6 L151.5,193.6 M172.7,193.6 L220.0,193.6"/>
<path d="M117.5,267.2 L151.5,267.2 M172.7,267.2 L220.0,267.2"/>
<path d="M117.5,295.0 L151.5,295.0 M172.7,295.0 L220.0,295.0"/>
<path d="M117.5,328.4 L151.5,328.4 M172.7,328.4 L220.0,328.4"/>
<path d="M151.5,121.3 L151.5,340.4 M172.7,121.3 L172.7,340.4"/>
<path d="M146.2,118.2 L151.2,121.3 L172.9,121.3 L176.2,118.2"/>
<path d="M146,343.1 L148.6,340.4 L173,340.4 L176.6,343.1"/>
<path d="M146,118.2 L177,118.2"/>
<path d="M196.5,118.2 L196.5,111 Q196.6,110.2 197.6,109.6 L207.3,100.4 Q209.2,98.6 212.5,98.6 L342,98.6 Q346.8,98.7 349.8,101.2 L365.0,116.6 Q365.9,117.5 366.6,118.2 Z"/>
<path d="M196.5,343.1 L196.5,350.3 Q196.6,351.9 197.9,353 L207.4,360.4 Q210.6,363.2 214.5,363.2 L343,363.2 Q347.3,363.1 349.6,359.7 L365.7,343.1 Z"/>
<path d="M220.0,118.2 L220.0,343.1 M236.4,98.6 L236.4,363.2 M318.0,98.6 L318.0,363.2 M335.3,118.2 L335.3,343.1"/>
<rect x="236.9" y="99.2" width="80.6" height="263.4" fill="#fff" stroke="none"/>
<g clip-path="url(#cRight)">
<path d="M335.3,132.4 L380.0,132.4 M434.0,132.4 L710,132.4"/>
<path d="M335.3,166.3 L380.0,166.3 M434.0,166.3 L710,166.3"/>
<path d="M335.3,193.6 L380.0,193.6 M434.0,193.6 L710,193.6"/>
<path d="M335.3,267.2 L710,267.2"/>
<path d="M335.3,295.0 L710,295.0"/>
<path d="M335.3,328.4 L710,328.4"/>
<path d="M380.0,193.6 L362.3,193.6 Q352.3,193.6 352.3,203.6 L352.3,257.2 Q352.3,267.2 362.3,267.2 L710,267.2" stroke="#606060" stroke-width="1.0"/>
<path d="M710,200.4 L366.5,200.4 Q359.5,200.4 359.5,207.4 L359.5,253.8 Q359.5,260.8 366.5,260.8 L710,260.8" stroke="#606060" stroke-width="1.0"/>
</g>
<path d="M366.3,118.2 L380.0,118.2 M434.0,118.2 L684.2,118.2"/>
<path d="M365.7,343.1 L692.6,343.1"/>
<path d="M684.2,118.2 L684.3,132.4 C686,145 689,158 690.8,166.3 C693.5,178 696.5,190 697.3,193.6 C699.5,205 699.8,222 698.8,232 C697.5,245 694,256 692,261 C690,268 687.5,282 686.8,295 C686.3,305 687.3,318 688.8,328.4 C690,335 691.5,340 692.6,343.1"/>
<path d="M380.0,107.0 L380.0,200.4 M386.0,107.0 L386.0,200.4 M427.6,107.0 L427.6,200.4 M434.0,107.0 L434.0,200.4"/>
<path d="M379.6,107.4 L434.4,107.4" stroke-width="2"/>
<path d="M380.0,114.7 L375.6,114.7 Q374.4,114.7 374.4,113.5 L374.4,102.5 Q374.4,101.3 375.6,101.3 L438.0,101.3 Q439.2,101.3 439.2,102.5 L439.2,113.5 Q439.2,114.7 438.0,114.7 L434.0,114.7 L434.0,107.0"/>
</g>
<g stroke="#464646" stroke-width="1.2" fill="none">
<line x1="368.0" y1="23.5" x2="383.5" y2="101.0"/>
<line x1="471.0" y1="23.5" x2="431.9" y2="113.5"/>
<line x1="555.5" y1="24.0" x2="525.0" y2="124.0"/>
<line x1="674.2" y1="24.0" x2="648.0" y2="144.0"/>
<line x1="769.0" y1="140.0" x2="688.0" y2="178.5"/>
<line x1="769.6" y1="250.9" x2="688.0" y2="264.6"/>
<line x1="19.0" y1="171.4" x2="135.0" y2="217.6"/>
<line x1="19.0" y1="327.4" x2="105.6" y2="306.0"/>
<line x1="145.5" y1="400.0" x2="161.0" y2="334.0"/>
<line x1="241.6" y1="400.0" x2="250.4" y2="363.6"/>
</g>
<g font-family="Liberation Sans, sans-serif" font-size="21.5" fill="#0a0a0a" text-anchor="middle">
<text x="367.0" y="21.0">6</text>
<text x="471.0" y="21.0">5</text>
<text x="556.0" y="21.2">3</text>
<text x="674.2" y="21.0">2</text>
<text x="774.5" y="143.2">1</text>
<text x="776.5" y="257.0">4</text>
<text x="9.4" y="175.6">7</text>
<text x="9.7" y="335.6">8</text>
<text x="143.7" y="419.6">9</text>
<text x="242.8" y="419.6">10</text>
</g>
<rect x="0" y="0" width="800" height="1" fill="#f7f7f7"/><rect x="0" y="0" width="2" height="425" fill="#fafafa"/>
<circle cx="795" cy="132.6" r="0.7" fill="#aaa"/>
</svg>
</body></html>
